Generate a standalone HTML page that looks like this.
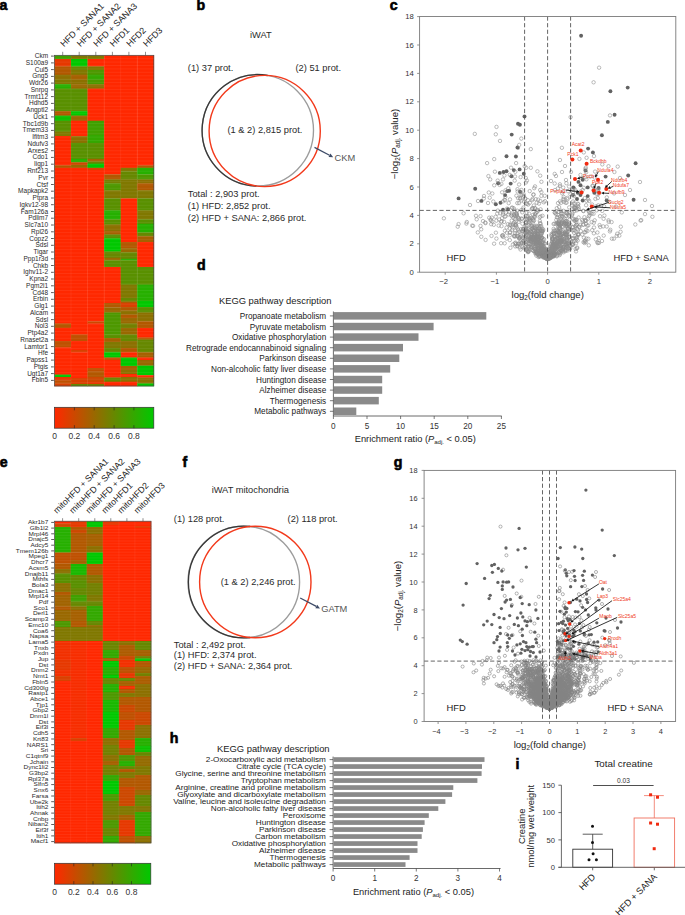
<!DOCTYPE html>
<html><head><meta charset="utf-8"><style>
html,body{margin:0;padding:0;background:#fff;}
body{width:685px;height:915px;overflow:hidden;}
svg{display:block;font-family:"Liberation Sans", sans-serif;}
.sc circle{r:1.55px;}
.clc circle{r:1.72px;}
.clc circle.f{r:1.95px;}
.sc circle.f{r:1.65px;fill:#626262;stroke:none;}
.clc circle.f{r:1.95px;}
</style></head><body>
<svg width="685" height="915" viewBox="0 0 685 915">
<rect width="685" height="915" fill="#fff"/>
<text x="-0.5" y="9.8" font-size="14.2" font-weight="bold" fill="#000" stroke="#000" stroke-width="0.6">a</text>
<text x="196.5" y="10.2" font-size="14.2" font-weight="bold" fill="#000" stroke="#000" stroke-width="0.6">b</text>
<text x="389.8" y="10.2" font-size="14.2" font-weight="bold" fill="#000" stroke="#000" stroke-width="0.6">c</text>
<text x="197" y="270.2" font-size="14.2" font-weight="bold" fill="#000" stroke="#000" stroke-width="0.6">d</text>
<text x="-0.2" y="466.7" font-size="14.2" font-weight="bold" fill="#000" stroke="#000" stroke-width="0.6">e</text>
<text x="182.6" y="466.7" font-size="14.2" font-weight="bold" fill="#000" stroke="#000" stroke-width="0.6">f</text>
<text x="393.8" y="467" font-size="14.2" font-weight="bold" fill="#000" stroke="#000" stroke-width="0.6">g</text>
<text x="169.8" y="743" font-size="14.2" font-weight="bold" fill="#000" stroke="#000" stroke-width="0.6">h</text>
<text x="515.5" y="768.5" font-size="14.2" font-weight="bold" fill="#000" stroke="#000" stroke-width="0.6">i</text>
<rect x="54.4" y="55.3" width="16.9" height="4" fill="#40a000"/>
<rect x="54.4" y="59" width="16.9" height="7.7" fill="#e63800"/>
<rect x="54.4" y="66.4" width="16.9" height="8.6" fill="#b25800"/>
<rect x="54.4" y="74.7" width="16.9" height="5.2" fill="#8c7000"/>
<rect x="54.4" y="79.6" width="16.9" height="4.9" fill="#807800"/>
<rect x="54.4" y="84.2" width="16.9" height="4.7" fill="#26b000"/>
<rect x="54.4" y="88.6" width="16.9" height="22.9" fill="#599000"/>
<rect x="54.4" y="111.2" width="16.9" height="4.7" fill="#b25800"/>
<rect x="54.4" y="115.6" width="16.9" height="5.4" fill="#0dc000"/>
<rect x="54.4" y="120.7" width="16.9" height="11.2" fill="#599000"/>
<rect x="54.4" y="131.6" width="16.9" height="4.7" fill="#807800"/>
<rect x="54.4" y="136" width="16.9" height="29.7" fill="#ff2800"/>
<rect x="54.4" y="165.4" width="16.9" height="2.7" fill="#b25800"/>
<rect x="54.4" y="167.8" width="16.9" height="156" fill="#ff2800"/>
<rect x="54.4" y="323.5" width="16.9" height="4.6" fill="#b25800"/>
<rect x="54.4" y="327.8" width="16.9" height="13.5" fill="#ff2800"/>
<rect x="54.4" y="341" width="16.9" height="6.7" fill="#bf5000"/>
<rect x="54.4" y="347.4" width="16.9" height="27.5" fill="#ff2800"/>
<rect x="54.4" y="374.6" width="16.9" height="2.7" fill="#00c800"/>
<rect x="54.4" y="377" width="16.9" height="3.5" fill="#e63800"/>
<rect x="54.4" y="380.2" width="16.9" height="3.6" fill="#bf5000"/>
<rect x="54.4" y="383.5" width="16.9" height="2.8" fill="#d94000"/>
<rect x="71" y="55.3" width="16.9" height="4" fill="#807800"/>
<rect x="71" y="59" width="16.9" height="7.7" fill="#00c800"/>
<rect x="71" y="66.4" width="16.9" height="3.9" fill="#668800"/>
<rect x="71" y="70" width="16.9" height="5" fill="#807800"/>
<rect x="71" y="74.7" width="16.9" height="5.2" fill="#a66000"/>
<rect x="71" y="79.6" width="16.9" height="4.9" fill="#8c7000"/>
<rect x="71" y="84.2" width="16.9" height="4.7" fill="#996800"/>
<rect x="71" y="88.6" width="16.9" height="22.9" fill="#599000"/>
<rect x="71" y="111.2" width="16.9" height="4.7" fill="#00c800"/>
<rect x="71" y="115.6" width="16.9" height="5.4" fill="#996800"/>
<rect x="71" y="120.7" width="16.9" height="15.8" fill="#ff2800"/>
<rect x="71" y="136.2" width="16.9" height="7" fill="#8c7000"/>
<rect x="71" y="142.9" width="16.9" height="16.2" fill="#599000"/>
<rect x="71" y="158.8" width="16.9" height="3.8" fill="#26b000"/>
<rect x="71" y="162.3" width="16.9" height="3" fill="#cc4800"/>
<rect x="71" y="165" width="16.9" height="3.1" fill="#996800"/>
<rect x="71" y="167.8" width="16.9" height="167" fill="#ff2800"/>
<rect x="71" y="334.5" width="16.9" height="6.8" fill="#bf5000"/>
<rect x="71" y="341" width="16.9" height="9.3" fill="#ff2800"/>
<rect x="71" y="350" width="16.9" height="2.6" fill="#d94000"/>
<rect x="71" y="352.3" width="16.9" height="26" fill="#ff2800"/>
<rect x="71" y="378" width="16.9" height="6.3" fill="#d94000"/>
<rect x="71" y="384" width="16.9" height="2.3" fill="#668800"/>
<rect x="87.5" y="55.3" width="16.9" height="4" fill="#807800"/>
<rect x="87.5" y="59" width="16.9" height="7.7" fill="#ff2800"/>
<rect x="87.5" y="66.4" width="16.9" height="3.9" fill="#807800"/>
<rect x="87.5" y="70" width="16.9" height="5" fill="#4d9800"/>
<rect x="87.5" y="74.7" width="16.9" height="5.2" fill="#33a800"/>
<rect x="87.5" y="79.6" width="16.9" height="4.9" fill="#4d9800"/>
<rect x="87.5" y="84.2" width="16.9" height="4.7" fill="#8c7000"/>
<rect x="87.5" y="88.6" width="16.9" height="32.4" fill="#ff2800"/>
<rect x="87.5" y="120.7" width="16.9" height="14.6" fill="#40a000"/>
<rect x="87.5" y="135" width="16.9" height="8.2" fill="#33a800"/>
<rect x="87.5" y="142.9" width="16.9" height="16.2" fill="#599000"/>
<rect x="87.5" y="158.8" width="16.9" height="3" fill="#a66000"/>
<rect x="87.5" y="161.5" width="16.9" height="2.5" fill="#668800"/>
<rect x="87.5" y="163.7" width="16.9" height="4.4" fill="#00c800"/>
<rect x="87.5" y="167.8" width="16.9" height="2.5" fill="#d94000"/>
<rect x="87.5" y="170" width="16.9" height="151.6" fill="#ff2800"/>
<rect x="87.5" y="321.3" width="16.9" height="2.5" fill="#cc4800"/>
<rect x="87.5" y="323.5" width="16.9" height="44.8" fill="#ff2800"/>
<rect x="87.5" y="368" width="16.9" height="3.8" fill="#bf5000"/>
<rect x="87.5" y="371.5" width="16.9" height="5.8" fill="#b25800"/>
<rect x="87.5" y="377" width="16.9" height="5" fill="#cc4800"/>
<rect x="87.5" y="381.7" width="16.9" height="2.6" fill="#e63800"/>
<rect x="87.5" y="384" width="16.9" height="2.3" fill="#738000"/>
<rect x="104.1" y="55.3" width="16.9" height="119.4" fill="#ff2800"/>
<rect x="104.1" y="174.4" width="16.9" height="5.4" fill="#b25800"/>
<rect x="104.1" y="179.5" width="16.9" height="4.2" fill="#738000"/>
<rect x="104.1" y="183.4" width="16.9" height="7.2" fill="#4d9800"/>
<rect x="104.1" y="190.3" width="16.9" height="8.4" fill="#807800"/>
<rect x="104.1" y="198.4" width="16.9" height="12.3" fill="#599000"/>
<rect x="104.1" y="210.4" width="16.9" height="9.3" fill="#26b000"/>
<rect x="104.1" y="219.4" width="16.9" height="5.4" fill="#599000"/>
<rect x="104.1" y="224.5" width="16.9" height="6.9" fill="#8c7000"/>
<rect x="104.1" y="231.1" width="16.9" height="3.7" fill="#a66000"/>
<rect x="104.1" y="234.5" width="16.9" height="4.2" fill="#599000"/>
<rect x="104.1" y="238.4" width="16.9" height="13.4" fill="#00c800"/>
<rect x="104.1" y="251.5" width="16.9" height="6.5" fill="#668800"/>
<rect x="104.1" y="257.7" width="16.9" height="2.9" fill="#996800"/>
<rect x="104.1" y="260.3" width="16.9" height="7" fill="#599000"/>
<rect x="104.1" y="267" width="16.9" height="36.3" fill="#ff2800"/>
<rect x="104.1" y="303" width="16.9" height="4.7" fill="#b25800"/>
<rect x="104.1" y="307.4" width="16.9" height="5.4" fill="#996800"/>
<rect x="104.1" y="312.5" width="16.9" height="22.3" fill="#4d9800"/>
<rect x="104.1" y="334.5" width="16.9" height="3.8" fill="#599000"/>
<rect x="104.1" y="338" width="16.9" height="4.3" fill="#a66000"/>
<rect x="104.1" y="342" width="16.9" height="6.3" fill="#807800"/>
<rect x="104.1" y="348" width="16.9" height="4.6" fill="#668800"/>
<rect x="104.1" y="352.3" width="16.9" height="5.5" fill="#00c800"/>
<rect x="104.1" y="357.5" width="16.9" height="2.8" fill="#cc4800"/>
<rect x="104.1" y="360" width="16.9" height="17.8" fill="#ff2800"/>
<rect x="104.1" y="377.5" width="16.9" height="4.5" fill="#668800"/>
<rect x="104.1" y="381.7" width="16.9" height="4.6" fill="#ff2800"/>
<rect x="120.7" y="55.3" width="16.9" height="112.8" fill="#ff2800"/>
<rect x="120.7" y="167.8" width="16.9" height="3.8" fill="#807800"/>
<rect x="120.7" y="171.3" width="16.9" height="8.5" fill="#668800"/>
<rect x="120.7" y="179.5" width="16.9" height="19.2" fill="#807800"/>
<rect x="120.7" y="198.4" width="16.9" height="43.9" fill="#ff2800"/>
<rect x="120.7" y="242" width="16.9" height="6.5" fill="#b25800"/>
<rect x="120.7" y="248.2" width="16.9" height="4.4" fill="#996800"/>
<rect x="120.7" y="252.3" width="16.9" height="6.8" fill="#668800"/>
<rect x="120.7" y="258.8" width="16.9" height="1.8" fill="#26b000"/>
<rect x="120.7" y="260.3" width="16.9" height="24.6" fill="#599000"/>
<rect x="120.7" y="284.6" width="16.9" height="13.7" fill="#807800"/>
<rect x="120.7" y="298" width="16.9" height="3.9" fill="#668800"/>
<rect x="120.7" y="301.6" width="16.9" height="1.7" fill="#b25800"/>
<rect x="120.7" y="303" width="16.9" height="4.3" fill="#d94000"/>
<rect x="120.7" y="307" width="16.9" height="3.8" fill="#b25800"/>
<rect x="120.7" y="310.5" width="16.9" height="4.4" fill="#8c7000"/>
<rect x="120.7" y="314.6" width="16.9" height="3.7" fill="#b25800"/>
<rect x="120.7" y="318" width="16.9" height="5.8" fill="#996800"/>
<rect x="120.7" y="323.5" width="16.9" height="4.8" fill="#738000"/>
<rect x="120.7" y="328" width="16.9" height="6.8" fill="#996800"/>
<rect x="120.7" y="334.5" width="16.9" height="6.8" fill="#668800"/>
<rect x="120.7" y="341" width="16.9" height="7.3" fill="#8c7000"/>
<rect x="120.7" y="348" width="16.9" height="4.6" fill="#b25800"/>
<rect x="120.7" y="352.3" width="16.9" height="5.5" fill="#ff2800"/>
<rect x="120.7" y="357.5" width="16.9" height="8.8" fill="#00c800"/>
<rect x="120.7" y="366" width="16.9" height="4.3" fill="#a66000"/>
<rect x="120.7" y="370" width="16.9" height="4.3" fill="#8c7000"/>
<rect x="120.7" y="374" width="16.9" height="3.3" fill="#ff2800"/>
<rect x="120.7" y="377" width="16.9" height="5" fill="#8c7000"/>
<rect x="120.7" y="381.7" width="16.9" height="4.6" fill="#ff2800"/>
<rect x="137.2" y="55.3" width="16.9" height="110.4" fill="#ff2800"/>
<rect x="137.2" y="165.4" width="16.9" height="2.7" fill="#b25800"/>
<rect x="137.2" y="167.8" width="16.9" height="6.9" fill="#26b000"/>
<rect x="137.2" y="174.4" width="16.9" height="5.4" fill="#4d9800"/>
<rect x="137.2" y="179.5" width="16.9" height="4.2" fill="#8c7000"/>
<rect x="137.2" y="183.4" width="16.9" height="7.2" fill="#b25800"/>
<rect x="137.2" y="190.3" width="16.9" height="8.4" fill="#807800"/>
<rect x="137.2" y="198.4" width="16.9" height="12.3" fill="#599000"/>
<rect x="137.2" y="210.4" width="16.9" height="9.3" fill="#807800"/>
<rect x="137.2" y="219.4" width="16.9" height="4.7" fill="#599000"/>
<rect x="137.2" y="223.8" width="16.9" height="9" fill="#26b000"/>
<rect x="137.2" y="232.5" width="16.9" height="4" fill="#668800"/>
<rect x="137.2" y="236.2" width="16.9" height="6.1" fill="#a66000"/>
<rect x="137.2" y="242" width="16.9" height="25.3" fill="#ff2800"/>
<rect x="137.2" y="267" width="16.9" height="17.9" fill="#599000"/>
<rect x="137.2" y="284.6" width="16.9" height="16.7" fill="#26b000"/>
<rect x="137.2" y="301" width="16.9" height="6.3" fill="#00c800"/>
<rect x="137.2" y="307" width="16.9" height="5.8" fill="#599000"/>
<rect x="137.2" y="312.5" width="16.9" height="9.1" fill="#8c7000"/>
<rect x="137.2" y="321.3" width="16.9" height="7" fill="#b25800"/>
<rect x="137.2" y="328" width="16.9" height="9.8" fill="#ff2800"/>
<rect x="137.2" y="337.5" width="16.9" height="2.4" fill="#b25800"/>
<rect x="137.2" y="339.6" width="16.9" height="13" fill="#668800"/>
<rect x="137.2" y="352.3" width="16.9" height="5.5" fill="#a66000"/>
<rect x="137.2" y="357.5" width="16.9" height="2.8" fill="#ff2800"/>
<rect x="137.2" y="360" width="16.9" height="5.9" fill="#996800"/>
<rect x="137.2" y="365.6" width="16.9" height="9.9" fill="#00c800"/>
<rect x="137.2" y="375.2" width="16.9" height="2.6" fill="#ff2800"/>
<rect x="137.2" y="377.5" width="16.9" height="6.3" fill="#8c7000"/>
<rect x="137.2" y="383.5" width="16.9" height="2.8" fill="#00c800"/>
<rect x="54.4" y="55.3" width="99.4" height="330.7" fill="none" stroke="#4a4a4a" stroke-width="0.7"/>
<path d="M54.4,58.7H153.8M54.4,62.1H153.8M54.4,65.5H153.8M54.4,68.9H153.8M54.4,72.3H153.8M54.4,75.8H153.8M54.4,79.2H153.8M54.4,82.6H153.8M54.4,86H153.8M54.4,89.4H153.8M54.4,92.8H153.8M54.4,96.2H153.8M54.4,99.6H153.8M54.4,103H153.8M54.4,106.4H153.8M54.4,109.8H153.8M54.4,113.3H153.8M54.4,116.7H153.8M54.4,120.1H153.8M54.4,123.5H153.8M54.4,126.9H153.8M54.4,130.3H153.8M54.4,133.7H153.8M54.4,137.1H153.8M54.4,140.5H153.8M54.4,143.9H153.8M54.4,147.4H153.8M54.4,150.8H153.8M54.4,154.2H153.8M54.4,157.6H153.8M54.4,161H153.8M54.4,164.4H153.8M54.4,167.8H153.8M54.4,171.2H153.8M54.4,174.6H153.8M54.4,178H153.8M54.4,181.4H153.8M54.4,184.9H153.8M54.4,188.3H153.8M54.4,191.7H153.8M54.4,195.1H153.8M54.4,198.5H153.8M54.4,201.9H153.8M54.4,205.3H153.8M54.4,208.7H153.8M54.4,212.1H153.8M54.4,215.5H153.8M54.4,218.9H153.8M54.4,222.4H153.8M54.4,225.8H153.8M54.4,229.2H153.8M54.4,232.6H153.8M54.4,236H153.8M54.4,239.4H153.8M54.4,242.8H153.8M54.4,246.2H153.8M54.4,249.6H153.8M54.4,253H153.8M54.4,256.4H153.8M54.4,259.9H153.8M54.4,263.3H153.8M54.4,266.7H153.8M54.4,270.1H153.8M54.4,273.5H153.8M54.4,276.9H153.8M54.4,280.3H153.8M54.4,283.7H153.8M54.4,287.1H153.8M54.4,290.5H153.8M54.4,293.9H153.8M54.4,297.4H153.8M54.4,300.8H153.8M54.4,304.2H153.8M54.4,307.6H153.8M54.4,311H153.8M54.4,314.4H153.8M54.4,317.8H153.8M54.4,321.2H153.8M54.4,324.6H153.8M54.4,328H153.8M54.4,331.5H153.8M54.4,334.9H153.8M54.4,338.3H153.8M54.4,341.7H153.8M54.4,345.1H153.8M54.4,348.5H153.8M54.4,351.9H153.8M54.4,355.3H153.8M54.4,358.7H153.8M54.4,362.1H153.8M54.4,365.5H153.8M54.4,369H153.8M54.4,372.4H153.8M54.4,375.8H153.8M54.4,379.2H153.8M54.4,382.6H153.8" stroke="#ffffff" stroke-opacity="0.13" stroke-width="0.5"/>
<line x1="71" y1="55.3" x2="71" y2="386" stroke="#ffffff" stroke-opacity="0.12" stroke-width="0.5"/>
<line x1="87.5" y1="55.3" x2="87.5" y2="386" stroke="#ffffff" stroke-opacity="0.12" stroke-width="0.5"/>
<line x1="104.1" y1="55.3" x2="104.1" y2="386" stroke="#ffffff" stroke-opacity="0.12" stroke-width="0.5"/>
<line x1="120.7" y1="55.3" x2="120.7" y2="386" stroke="#ffffff" stroke-opacity="0.12" stroke-width="0.5"/>
<line x1="137.2" y1="55.3" x2="137.2" y2="386" stroke="#ffffff" stroke-opacity="0.12" stroke-width="0.5"/>
<line x1="51" y1="56.1" x2="53.8" y2="56.1" stroke="#333" stroke-width="0.8"/>
<text transform="translate(48.1,58.1) scale(1,1.0)" font-size="6.5" text-anchor="end" fill="#2a2a2a">Ckm</text>
<line x1="51" y1="62.9" x2="53.8" y2="62.9" stroke="#333" stroke-width="0.8"/>
<text transform="translate(48.1,64.9) scale(1,1.0)" font-size="6.5" text-anchor="end" fill="#2a2a2a">S100a9</text>
<line x1="51" y1="69.6" x2="53.8" y2="69.6" stroke="#333" stroke-width="0.8"/>
<text transform="translate(48.1,71.6) scale(1,1.0)" font-size="6.5" text-anchor="end" fill="#2a2a2a">Cul5</text>
<line x1="51" y1="76.4" x2="53.8" y2="76.4" stroke="#333" stroke-width="0.8"/>
<text transform="translate(48.1,78.4) scale(1,1.0)" font-size="6.5" text-anchor="end" fill="#2a2a2a">Gng5</text>
<line x1="51" y1="83.1" x2="53.8" y2="83.1" stroke="#333" stroke-width="0.8"/>
<text transform="translate(48.1,85.1) scale(1,1.0)" font-size="6.5" text-anchor="end" fill="#2a2a2a">Wdr26</text>
<line x1="51" y1="89.9" x2="53.8" y2="89.9" stroke="#333" stroke-width="0.8"/>
<text transform="translate(48.1,91.9) scale(1,1.0)" font-size="6.5" text-anchor="end" fill="#2a2a2a">Snrpg</text>
<line x1="51" y1="96.6" x2="53.8" y2="96.6" stroke="#333" stroke-width="0.8"/>
<text transform="translate(48.1,98.6) scale(1,1.0)" font-size="6.5" text-anchor="end" fill="#2a2a2a">Trmt112</text>
<line x1="51" y1="103.4" x2="53.8" y2="103.4" stroke="#333" stroke-width="0.8"/>
<text transform="translate(48.1,105.4) scale(1,1.0)" font-size="6.5" text-anchor="end" fill="#2a2a2a">Hdhd5</text>
<line x1="51" y1="110.1" x2="53.8" y2="110.1" stroke="#333" stroke-width="0.8"/>
<text transform="translate(48.1,112.1) scale(1,1.0)" font-size="6.5" text-anchor="end" fill="#2a2a2a">Angptl2</text>
<line x1="51" y1="116.9" x2="53.8" y2="116.9" stroke="#333" stroke-width="0.8"/>
<text transform="translate(48.1,118.9) scale(1,1.0)" font-size="6.5" text-anchor="end" fill="#2a2a2a">Uck1</text>
<line x1="51" y1="123.7" x2="53.8" y2="123.7" stroke="#333" stroke-width="0.8"/>
<text transform="translate(48.1,125.7) scale(1,1.0)" font-size="6.5" text-anchor="end" fill="#2a2a2a">Tbc1d9b</text>
<line x1="51" y1="130.4" x2="53.8" y2="130.4" stroke="#333" stroke-width="0.8"/>
<text transform="translate(48.1,132.4) scale(1,1.0)" font-size="6.5" text-anchor="end" fill="#2a2a2a">Tmem33</text>
<line x1="51" y1="137.2" x2="53.8" y2="137.2" stroke="#333" stroke-width="0.8"/>
<text transform="translate(48.1,139.2) scale(1,1.0)" font-size="6.5" text-anchor="end" fill="#2a2a2a">Ifitm3</text>
<line x1="51" y1="143.9" x2="53.8" y2="143.9" stroke="#333" stroke-width="0.8"/>
<text transform="translate(48.1,145.9) scale(1,1.0)" font-size="6.5" text-anchor="end" fill="#2a2a2a">Ndufv3</text>
<line x1="51" y1="150.7" x2="53.8" y2="150.7" stroke="#333" stroke-width="0.8"/>
<text transform="translate(48.1,152.7) scale(1,1.0)" font-size="6.5" text-anchor="end" fill="#2a2a2a">Arxes2</text>
<line x1="51" y1="157.4" x2="53.8" y2="157.4" stroke="#333" stroke-width="0.8"/>
<text transform="translate(48.1,159.4) scale(1,1.0)" font-size="6.5" text-anchor="end" fill="#2a2a2a">Cdo1</text>
<line x1="51" y1="164.2" x2="53.8" y2="164.2" stroke="#333" stroke-width="0.8"/>
<text transform="translate(48.1,166.2) scale(1,1.0)" font-size="6.5" text-anchor="end" fill="#2a2a2a">Iigp1</text>
<line x1="51" y1="171" x2="53.8" y2="171" stroke="#333" stroke-width="0.8"/>
<text transform="translate(48.1,173) scale(1,1.0)" font-size="6.5" text-anchor="end" fill="#2a2a2a">Rnf213</text>
<line x1="51" y1="177.7" x2="53.8" y2="177.7" stroke="#333" stroke-width="0.8"/>
<text transform="translate(48.1,179.7) scale(1,1.0)" font-size="6.5" text-anchor="end" fill="#2a2a2a">Pvr</text>
<line x1="51" y1="184.5" x2="53.8" y2="184.5" stroke="#333" stroke-width="0.8"/>
<text transform="translate(48.1,186.5) scale(1,1.0)" font-size="6.5" text-anchor="end" fill="#2a2a2a">Ctsf</text>
<line x1="51" y1="191.2" x2="53.8" y2="191.2" stroke="#333" stroke-width="0.8"/>
<text transform="translate(48.1,193.2) scale(1,1.0)" font-size="6.5" text-anchor="end" fill="#2a2a2a">Mapkapk2</text>
<line x1="51" y1="198" x2="53.8" y2="198" stroke="#333" stroke-width="0.8"/>
<text transform="translate(48.1,200) scale(1,1.0)" font-size="6.5" text-anchor="end" fill="#2a2a2a">Ptpra</text>
<line x1="51" y1="204.7" x2="53.8" y2="204.7" stroke="#333" stroke-width="0.8"/>
<text transform="translate(48.1,206.7) scale(1,1.0)" font-size="6.5" text-anchor="end" fill="#2a2a2a">Igkv12-98</text>
<line x1="51" y1="211.5" x2="53.8" y2="211.5" stroke="#333" stroke-width="0.8"/>
<text transform="translate(48.1,213.5) scale(1,1.0)" font-size="6.5" text-anchor="end" fill="#2a2a2a">Fam126a</text>
<line x1="51" y1="218.2" x2="53.8" y2="218.2" stroke="#333" stroke-width="0.8"/>
<text transform="translate(48.1,220.2) scale(1,1.0)" font-size="6.5" text-anchor="end" fill="#2a2a2a">Pdlim7</text>
<line x1="51" y1="225" x2="53.8" y2="225" stroke="#333" stroke-width="0.8"/>
<text transform="translate(48.1,227) scale(1,1.0)" font-size="6.5" text-anchor="end" fill="#2a2a2a">Slc7a10</text>
<line x1="51" y1="231.8" x2="53.8" y2="231.8" stroke="#333" stroke-width="0.8"/>
<text transform="translate(48.1,233.8) scale(1,1.0)" font-size="6.5" text-anchor="end" fill="#2a2a2a">Rpl26</text>
<line x1="51" y1="238.5" x2="53.8" y2="238.5" stroke="#333" stroke-width="0.8"/>
<text transform="translate(48.1,240.5) scale(1,1.0)" font-size="6.5" text-anchor="end" fill="#2a2a2a">Copz2</text>
<line x1="51" y1="245.3" x2="53.8" y2="245.3" stroke="#333" stroke-width="0.8"/>
<text transform="translate(48.1,247.3) scale(1,1.0)" font-size="6.5" text-anchor="end" fill="#2a2a2a">Sdsl</text>
<line x1="51" y1="252" x2="53.8" y2="252" stroke="#333" stroke-width="0.8"/>
<text transform="translate(48.1,254) scale(1,1.0)" font-size="6.5" text-anchor="end" fill="#2a2a2a">Tigar</text>
<line x1="51" y1="258.8" x2="53.8" y2="258.8" stroke="#333" stroke-width="0.8"/>
<text transform="translate(48.1,260.8) scale(1,1.0)" font-size="6.5" text-anchor="end" fill="#2a2a2a">Ppp1r3d</text>
<line x1="51" y1="265.5" x2="53.8" y2="265.5" stroke="#333" stroke-width="0.8"/>
<text transform="translate(48.1,267.5) scale(1,1.0)" font-size="6.5" text-anchor="end" fill="#2a2a2a">Chkb</text>
<line x1="51" y1="272.3" x2="53.8" y2="272.3" stroke="#333" stroke-width="0.8"/>
<text transform="translate(48.1,274.3) scale(1,1.0)" font-size="6.5" text-anchor="end" fill="#2a2a2a">Ighv11-2</text>
<line x1="51" y1="279" x2="53.8" y2="279" stroke="#333" stroke-width="0.8"/>
<text transform="translate(48.1,281) scale(1,1.0)" font-size="6.5" text-anchor="end" fill="#2a2a2a">Kpna2</text>
<line x1="51" y1="285.8" x2="53.8" y2="285.8" stroke="#333" stroke-width="0.8"/>
<text transform="translate(48.1,287.8) scale(1,1.0)" font-size="6.5" text-anchor="end" fill="#2a2a2a">Pgm2l1</text>
<line x1="51" y1="292.6" x2="53.8" y2="292.6" stroke="#333" stroke-width="0.8"/>
<text transform="translate(48.1,294.6) scale(1,1.0)" font-size="6.5" text-anchor="end" fill="#2a2a2a">Cd48</text>
<line x1="51" y1="299.3" x2="53.8" y2="299.3" stroke="#333" stroke-width="0.8"/>
<text transform="translate(48.1,301.3) scale(1,1.0)" font-size="6.5" text-anchor="end" fill="#2a2a2a">Erbin</text>
<line x1="51" y1="306.1" x2="53.8" y2="306.1" stroke="#333" stroke-width="0.8"/>
<text transform="translate(48.1,308.1) scale(1,1.0)" font-size="6.5" text-anchor="end" fill="#2a2a2a">Glg1</text>
<line x1="51" y1="312.8" x2="53.8" y2="312.8" stroke="#333" stroke-width="0.8"/>
<text transform="translate(48.1,314.8) scale(1,1.0)" font-size="6.5" text-anchor="end" fill="#2a2a2a">Alcam</text>
<line x1="51" y1="319.6" x2="53.8" y2="319.6" stroke="#333" stroke-width="0.8"/>
<text transform="translate(48.1,321.6) scale(1,1.0)" font-size="6.5" text-anchor="end" fill="#2a2a2a">Sdsl</text>
<line x1="51" y1="326.3" x2="53.8" y2="326.3" stroke="#333" stroke-width="0.8"/>
<text transform="translate(48.1,328.3) scale(1,1.0)" font-size="6.5" text-anchor="end" fill="#2a2a2a">Nol3</text>
<line x1="51" y1="333.1" x2="53.8" y2="333.1" stroke="#333" stroke-width="0.8"/>
<text transform="translate(48.1,335.1) scale(1,1.0)" font-size="6.5" text-anchor="end" fill="#2a2a2a">Ptp4a2</text>
<line x1="51" y1="339.9" x2="53.8" y2="339.9" stroke="#333" stroke-width="0.8"/>
<text transform="translate(48.1,341.9) scale(1,1.0)" font-size="6.5" text-anchor="end" fill="#2a2a2a">Rnaset2a</text>
<line x1="51" y1="346.6" x2="53.8" y2="346.6" stroke="#333" stroke-width="0.8"/>
<text transform="translate(48.1,348.6) scale(1,1.0)" font-size="6.5" text-anchor="end" fill="#2a2a2a">Lamtor1</text>
<line x1="51" y1="353.4" x2="53.8" y2="353.4" stroke="#333" stroke-width="0.8"/>
<text transform="translate(48.1,355.4) scale(1,1.0)" font-size="6.5" text-anchor="end" fill="#2a2a2a">Hfe</text>
<line x1="51" y1="360.1" x2="53.8" y2="360.1" stroke="#333" stroke-width="0.8"/>
<text transform="translate(48.1,362.1) scale(1,1.0)" font-size="6.5" text-anchor="end" fill="#2a2a2a">Papss1</text>
<line x1="51" y1="366.9" x2="53.8" y2="366.9" stroke="#333" stroke-width="0.8"/>
<text transform="translate(48.1,368.9) scale(1,1.0)" font-size="6.5" text-anchor="end" fill="#2a2a2a">Ptgis</text>
<line x1="51" y1="373.6" x2="53.8" y2="373.6" stroke="#333" stroke-width="0.8"/>
<text transform="translate(48.1,375.6) scale(1,1.0)" font-size="6.5" text-anchor="end" fill="#2a2a2a">Ugt1a7</text>
<line x1="51" y1="380.4" x2="53.8" y2="380.4" stroke="#333" stroke-width="0.8"/>
<text transform="translate(48.1,382.4) scale(1,1.0)" font-size="6.5" text-anchor="end" fill="#2a2a2a">Fbln5</text>
<line x1="62.7" y1="51.8" x2="62.7" y2="55.3" stroke="#444" stroke-width="0.6"/>
<text transform="translate(63.9,47.3) rotate(-45)" font-size="8.9" fill="#222">HFD + SANA1</text>
<line x1="79.2" y1="51.8" x2="79.2" y2="55.3" stroke="#444" stroke-width="0.6"/>
<text transform="translate(80.5,47.3) rotate(-45)" font-size="8.9" fill="#222">HFD + SANA2</text>
<line x1="95.8" y1="51.8" x2="95.8" y2="55.3" stroke="#444" stroke-width="0.6"/>
<text transform="translate(97,47.3) rotate(-45)" font-size="8.9" fill="#222">HFD + SANA3</text>
<line x1="112.4" y1="51.8" x2="112.4" y2="55.3" stroke="#444" stroke-width="0.6"/>
<text transform="translate(113.6,47.3) rotate(-45)" font-size="8.9" fill="#222">HFD1</text>
<line x1="128.9" y1="51.8" x2="128.9" y2="55.3" stroke="#444" stroke-width="0.6"/>
<text transform="translate(130.1,47.3) rotate(-45)" font-size="8.9" fill="#222">HFD2</text>
<line x1="145.5" y1="51.8" x2="145.5" y2="55.3" stroke="#444" stroke-width="0.6"/>
<text transform="translate(146.7,47.3) rotate(-45)" font-size="8.9" fill="#222">HFD3</text>
<rect x="54.6" y="521.2" width="16.4" height="2.6" fill="#ff2800"/>
<rect x="54.6" y="523.5" width="16.4" height="3.8" fill="#cc4800"/>
<rect x="54.6" y="527" width="16.4" height="25.8" fill="#26b000"/>
<rect x="54.6" y="552.5" width="16.4" height="11.3" fill="#bf5000"/>
<rect x="54.6" y="563.5" width="16.4" height="5.8" fill="#b25800"/>
<rect x="54.6" y="569" width="16.4" height="4.8" fill="#8c7000"/>
<rect x="54.6" y="573.5" width="16.4" height="9.8" fill="#599000"/>
<rect x="54.6" y="583" width="16.4" height="9.3" fill="#8c7000"/>
<rect x="54.6" y="592" width="16.4" height="3.3" fill="#b25800"/>
<rect x="54.6" y="595" width="16.4" height="11.8" fill="#a16300"/>
<rect x="54.6" y="606.5" width="16.4" height="3.8" fill="#b25800"/>
<rect x="54.6" y="610" width="16.4" height="11.3" fill="#996800"/>
<rect x="54.6" y="621" width="16.4" height="6.3" fill="#4d9800"/>
<rect x="54.6" y="627" width="16.4" height="14.3" fill="#807800"/>
<rect x="54.6" y="641" width="16.4" height="19.3" fill="#f23000"/>
<rect x="54.6" y="660" width="16.4" height="10.3" fill="#e63800"/>
<rect x="54.6" y="670" width="16.4" height="6.3" fill="#f23000"/>
<rect x="54.6" y="676" width="16.4" height="5.3" fill="#d94000"/>
<rect x="54.6" y="681" width="16.4" height="162.3" fill="#ff2800"/>
<rect x="70.7" y="521.2" width="16.4" height="6.1" fill="#e63800"/>
<rect x="70.7" y="527" width="16.4" height="3.3" fill="#b25800"/>
<rect x="70.7" y="530" width="16.4" height="3.3" fill="#cc4800"/>
<rect x="70.7" y="533" width="16.4" height="19.8" fill="#b25800"/>
<rect x="70.7" y="552.5" width="16.4" height="7.8" fill="#bf5000"/>
<rect x="70.7" y="560" width="16.4" height="4.3" fill="#a66000"/>
<rect x="70.7" y="564" width="16.4" height="11.3" fill="#19b800"/>
<rect x="70.7" y="575" width="16.4" height="5.3" fill="#668800"/>
<rect x="70.7" y="580" width="16.4" height="8.3" fill="#599000"/>
<rect x="70.7" y="588" width="16.4" height="7.3" fill="#668800"/>
<rect x="70.7" y="595" width="16.4" height="6.8" fill="#40a000"/>
<rect x="70.7" y="601.5" width="16.4" height="5.3" fill="#668800"/>
<rect x="70.7" y="606.5" width="16.4" height="3.8" fill="#8c7000"/>
<rect x="70.7" y="610" width="16.4" height="11.3" fill="#a66000"/>
<rect x="70.7" y="621" width="16.4" height="6.3" fill="#b25800"/>
<rect x="70.7" y="627" width="16.4" height="14.3" fill="#807800"/>
<rect x="70.7" y="641" width="16.4" height="97.3" fill="#f72d00"/>
<rect x="70.7" y="738" width="16.4" height="3.3" fill="#d94000"/>
<rect x="70.7" y="741" width="16.4" height="102.3" fill="#ff2800"/>
<rect x="86.7" y="521.2" width="16.4" height="6.1" fill="#00c800"/>
<rect x="86.7" y="527" width="16.4" height="7.3" fill="#8c7000"/>
<rect x="86.7" y="534" width="16.4" height="12.3" fill="#a66000"/>
<rect x="86.7" y="546" width="16.4" height="6.8" fill="#8c7000"/>
<rect x="86.7" y="552.5" width="16.4" height="11.8" fill="#00c800"/>
<rect x="86.7" y="564" width="16.4" height="11.3" fill="#b25800"/>
<rect x="86.7" y="575" width="16.4" height="8.3" fill="#8c7000"/>
<rect x="86.7" y="583" width="16.4" height="12.3" fill="#738000"/>
<rect x="86.7" y="595" width="16.4" height="6.8" fill="#807800"/>
<rect x="86.7" y="601.5" width="16.4" height="4.8" fill="#668800"/>
<rect x="86.7" y="606" width="16.4" height="15.3" fill="#33a800"/>
<rect x="86.7" y="621" width="16.4" height="4.3" fill="#668800"/>
<rect x="86.7" y="625" width="16.4" height="2.3" fill="#8c7000"/>
<rect x="86.7" y="627" width="16.4" height="14.3" fill="#807800"/>
<rect x="86.7" y="641" width="16.4" height="202.3" fill="#ff2800"/>
<rect x="102.8" y="521.2" width="16.4" height="4.1" fill="#e63800"/>
<rect x="102.8" y="525" width="16.4" height="116.3" fill="#ff2800"/>
<rect x="102.8" y="641" width="16.4" height="9.3" fill="#6b8500"/>
<rect x="102.8" y="650" width="16.4" height="8.3" fill="#33a800"/>
<rect x="102.8" y="658" width="16.4" height="3.3" fill="#a66000"/>
<rect x="102.8" y="661" width="16.4" height="6.3" fill="#00c800"/>
<rect x="102.8" y="667" width="16.4" height="8.3" fill="#26b000"/>
<rect x="102.8" y="675" width="16.4" height="3.3" fill="#00c800"/>
<rect x="102.8" y="678" width="16.4" height="6.3" fill="#668800"/>
<rect x="102.8" y="684" width="16.4" height="8.3" fill="#26b000"/>
<rect x="102.8" y="692" width="16.4" height="8.3" fill="#4d9800"/>
<rect x="102.8" y="700" width="16.4" height="12.3" fill="#19b800"/>
<rect x="102.8" y="712" width="16.4" height="16.3" fill="#00c800"/>
<rect x="102.8" y="728" width="16.4" height="10.3" fill="#33a800"/>
<rect x="102.8" y="738" width="16.4" height="7.3" fill="#8c7000"/>
<rect x="102.8" y="745" width="16.4" height="10.3" fill="#738000"/>
<rect x="102.8" y="755" width="16.4" height="6.3" fill="#8c7000"/>
<rect x="102.8" y="761" width="16.4" height="4.3" fill="#a66000"/>
<rect x="102.8" y="765" width="16.4" height="10.3" fill="#738000"/>
<rect x="102.8" y="775" width="16.4" height="6.3" fill="#33a800"/>
<rect x="102.8" y="781" width="16.4" height="13.3" fill="#00c800"/>
<rect x="102.8" y="794" width="16.4" height="7.3" fill="#4d9800"/>
<rect x="102.8" y="801" width="16.4" height="14.3" fill="#738000"/>
<rect x="102.8" y="815" width="16.4" height="5.3" fill="#807800"/>
<rect x="102.8" y="820" width="16.4" height="8.3" fill="#4d9800"/>
<rect x="102.8" y="828" width="16.4" height="8.3" fill="#668800"/>
<rect x="102.8" y="836" width="16.4" height="7.3" fill="#33a800"/>
<rect x="118.9" y="521.2" width="16.4" height="120.1" fill="#ff2800"/>
<rect x="118.9" y="641" width="16.4" height="4.3" fill="#8c7000"/>
<rect x="118.9" y="645" width="16.4" height="11.3" fill="#ad5b00"/>
<rect x="118.9" y="656" width="16.4" height="4.3" fill="#cc4800"/>
<rect x="118.9" y="660" width="16.4" height="7.3" fill="#f23000"/>
<rect x="118.9" y="667" width="16.4" height="6.3" fill="#bf5000"/>
<rect x="118.9" y="673" width="16.4" height="5.3" fill="#e63800"/>
<rect x="118.9" y="678" width="16.4" height="3.3" fill="#668800"/>
<rect x="118.9" y="681" width="16.4" height="5.3" fill="#a66000"/>
<rect x="118.9" y="686" width="16.4" height="3.3" fill="#f23000"/>
<rect x="118.9" y="689" width="16.4" height="4.3" fill="#b25800"/>
<rect x="118.9" y="693" width="16.4" height="4.3" fill="#807800"/>
<rect x="118.9" y="697" width="16.4" height="8.3" fill="#b25800"/>
<rect x="118.9" y="705" width="16.4" height="7.3" fill="#cc4800"/>
<rect x="118.9" y="712" width="16.4" height="8.3" fill="#bf5000"/>
<rect x="118.9" y="720" width="16.4" height="10.3" fill="#e63800"/>
<rect x="118.9" y="730" width="16.4" height="10.3" fill="#b25800"/>
<rect x="118.9" y="740" width="16.4" height="8.3" fill="#e63800"/>
<rect x="118.9" y="748" width="16.4" height="7.3" fill="#b25800"/>
<rect x="118.9" y="755" width="16.4" height="6.3" fill="#4d9800"/>
<rect x="118.9" y="761" width="16.4" height="5.3" fill="#26b000"/>
<rect x="118.9" y="766" width="16.4" height="3.3" fill="#668800"/>
<rect x="118.9" y="769" width="16.4" height="3.3" fill="#b25800"/>
<rect x="118.9" y="772" width="16.4" height="6.3" fill="#807800"/>
<rect x="118.9" y="778" width="16.4" height="9.3" fill="#b25800"/>
<rect x="118.9" y="787" width="16.4" height="19.3" fill="#cc4800"/>
<rect x="118.9" y="806" width="16.4" height="9.3" fill="#807800"/>
<rect x="118.9" y="815" width="16.4" height="5.3" fill="#a66000"/>
<rect x="118.9" y="820" width="16.4" height="16.3" fill="#e63800"/>
<rect x="118.9" y="836" width="16.4" height="7.3" fill="#bf5000"/>
<rect x="134.9" y="521.2" width="16.4" height="5.1" fill="#ff2800"/>
<rect x="134.9" y="526" width="16.4" height="2.3" fill="#e63800"/>
<rect x="134.9" y="528" width="16.4" height="113.3" fill="#ff2800"/>
<rect x="134.9" y="641" width="16.4" height="9.3" fill="#668800"/>
<rect x="134.9" y="650" width="16.4" height="6.3" fill="#a66000"/>
<rect x="134.9" y="656" width="16.4" height="2.8" fill="#738000"/>
<rect x="134.9" y="658.5" width="16.4" height="2.8" fill="#00c800"/>
<rect x="134.9" y="661" width="16.4" height="6.3" fill="#b25800"/>
<rect x="134.9" y="667" width="16.4" height="6.3" fill="#996800"/>
<rect x="134.9" y="673" width="16.4" height="3.3" fill="#738000"/>
<rect x="134.9" y="676" width="16.4" height="8.3" fill="#ab5d00"/>
<rect x="134.9" y="684" width="16.4" height="13.3" fill="#8c7000"/>
<rect x="134.9" y="697" width="16.4" height="15.3" fill="#b25800"/>
<rect x="134.9" y="712" width="16.4" height="13.3" fill="#cc4800"/>
<rect x="134.9" y="725" width="16.4" height="13.3" fill="#8c7000"/>
<rect x="134.9" y="738" width="16.4" height="8.3" fill="#26b000"/>
<rect x="134.9" y="746" width="16.4" height="6.3" fill="#0dc000"/>
<rect x="134.9" y="752" width="16.4" height="4.3" fill="#668800"/>
<rect x="134.9" y="756" width="16.4" height="10.3" fill="#946b00"/>
<rect x="134.9" y="766" width="16.4" height="9.3" fill="#807800"/>
<rect x="134.9" y="775" width="16.4" height="15.3" fill="#b25800"/>
<rect x="134.9" y="790" width="16.4" height="5.3" fill="#996800"/>
<rect x="134.9" y="795" width="16.4" height="11.3" fill="#668800"/>
<rect x="134.9" y="806" width="16.4" height="6.3" fill="#807800"/>
<rect x="134.9" y="812" width="16.4" height="24.3" fill="#33a800"/>
<rect x="134.9" y="836" width="16.4" height="7.3" fill="#8c7000"/>
<rect x="54.6" y="521.2" width="96.4" height="321.7" fill="none" stroke="#4a4a4a" stroke-width="0.7"/>
<path d="M54.6,524H151M54.6,526.8H151M54.6,529.7H151M54.6,532.5H151M54.6,535.3H151M54.6,538.1H151M54.6,541H151M54.6,543.8H151M54.6,546.6H151M54.6,549.4H151M54.6,552.2H151M54.6,555.1H151M54.6,557.9H151M54.6,560.7H151M54.6,563.5H151M54.6,566.4H151M54.6,569.2H151M54.6,572H151M54.6,574.8H151M54.6,577.6H151M54.6,580.5H151M54.6,583.3H151M54.6,586.1H151M54.6,588.9H151M54.6,591.7H151M54.6,594.6H151M54.6,597.4H151M54.6,600.2H151M54.6,603H151M54.6,605.9H151M54.6,608.7H151M54.6,611.5H151M54.6,614.3H151M54.6,617.1H151M54.6,620H151M54.6,622.8H151M54.6,625.6H151M54.6,628.4H151M54.6,631.3H151M54.6,634.1H151M54.6,636.9H151M54.6,639.7H151M54.6,642.5H151M54.6,645.4H151M54.6,648.2H151M54.6,651H151M54.6,653.8H151M54.6,656.7H151M54.6,659.5H151M54.6,662.3H151M54.6,665.1H151M54.6,667.9H151M54.6,670.8H151M54.6,673.6H151M54.6,676.4H151M54.6,679.2H151M54.6,682H151M54.6,684.9H151M54.6,687.7H151M54.6,690.5H151M54.6,693.3H151M54.6,696.2H151M54.6,699H151M54.6,701.8H151M54.6,704.6H151M54.6,707.4H151M54.6,710.3H151M54.6,713.1H151M54.6,715.9H151M54.6,718.7H151M54.6,721.6H151M54.6,724.4H151M54.6,727.2H151M54.6,730H151M54.6,732.8H151M54.6,735.7H151M54.6,738.5H151M54.6,741.3H151M54.6,744.1H151M54.6,747H151M54.6,749.8H151M54.6,752.6H151M54.6,755.4H151M54.6,758.2H151M54.6,761.1H151M54.6,763.9H151M54.6,766.7H151M54.6,769.5H151M54.6,772.4H151M54.6,775.2H151M54.6,778H151M54.6,780.8H151M54.6,783.6H151M54.6,786.5H151M54.6,789.3H151M54.6,792.1H151M54.6,794.9H151M54.6,797.7H151M54.6,800.6H151M54.6,803.4H151M54.6,806.2H151M54.6,809H151M54.6,811.9H151M54.6,814.7H151M54.6,817.5H151M54.6,820.3H151M54.6,823.1H151M54.6,826H151M54.6,828.8H151M54.6,831.6H151M54.6,834.4H151M54.6,837.3H151M54.6,840.1H151" stroke="#ffffff" stroke-opacity="0.13" stroke-width="0.5"/>
<line x1="70.7" y1="521.2" x2="70.7" y2="842.9" stroke="#ffffff" stroke-opacity="0.12" stroke-width="0.5"/>
<line x1="86.7" y1="521.2" x2="86.7" y2="842.9" stroke="#ffffff" stroke-opacity="0.12" stroke-width="0.5"/>
<line x1="102.8" y1="521.2" x2="102.8" y2="842.9" stroke="#ffffff" stroke-opacity="0.12" stroke-width="0.5"/>
<line x1="118.9" y1="521.2" x2="118.9" y2="842.9" stroke="#ffffff" stroke-opacity="0.12" stroke-width="0.5"/>
<line x1="134.9" y1="521.2" x2="134.9" y2="842.9" stroke="#ffffff" stroke-opacity="0.12" stroke-width="0.5"/>
<line x1="51.2" y1="522.4" x2="54" y2="522.4" stroke="#333" stroke-width="0.8"/>
<text transform="translate(48.3,524.2) scale(1,0.9)" font-size="6.45" text-anchor="end" fill="#2a2a2a">Akr1b7</text>
<line x1="51.2" y1="528.1" x2="54" y2="528.1" stroke="#333" stroke-width="0.8"/>
<text transform="translate(48.3,529.9) scale(1,0.9)" font-size="6.45" text-anchor="end" fill="#2a2a2a">Glb1l2</text>
<line x1="51.2" y1="533.8" x2="54" y2="533.8" stroke="#333" stroke-width="0.8"/>
<text transform="translate(48.3,535.6) scale(1,0.9)" font-size="6.45" text-anchor="end" fill="#2a2a2a">Mrpl46</text>
<line x1="51.2" y1="539.5" x2="54" y2="539.5" stroke="#333" stroke-width="0.8"/>
<text transform="translate(48.3,541.3) scale(1,0.9)" font-size="6.45" text-anchor="end" fill="#2a2a2a">Dnajc5</text>
<line x1="51.2" y1="545.2" x2="54" y2="545.2" stroke="#333" stroke-width="0.8"/>
<text transform="translate(48.3,547) scale(1,0.9)" font-size="6.45" text-anchor="end" fill="#2a2a2a">Adcy5</text>
<line x1="51.2" y1="550.9" x2="54" y2="550.9" stroke="#333" stroke-width="0.8"/>
<text transform="translate(48.3,552.7) scale(1,0.9)" font-size="6.45" text-anchor="end" fill="#2a2a2a">Tmem126b</text>
<line x1="51.2" y1="556.6" x2="54" y2="556.6" stroke="#333" stroke-width="0.8"/>
<text transform="translate(48.3,558.4) scale(1,0.9)" font-size="6.45" text-anchor="end" fill="#2a2a2a">Mpeg1</text>
<line x1="51.2" y1="562.3" x2="54" y2="562.3" stroke="#333" stroke-width="0.8"/>
<text transform="translate(48.3,564.1) scale(1,0.9)" font-size="6.45" text-anchor="end" fill="#2a2a2a">Dhcr7</text>
<line x1="51.2" y1="568" x2="54" y2="568" stroke="#333" stroke-width="0.8"/>
<text transform="translate(48.3,569.8) scale(1,0.9)" font-size="6.45" text-anchor="end" fill="#2a2a2a">Acsm5</text>
<line x1="51.2" y1="573.7" x2="54" y2="573.7" stroke="#333" stroke-width="0.8"/>
<text transform="translate(48.3,575.5) scale(1,0.9)" font-size="6.45" text-anchor="end" fill="#2a2a2a">Dnajb11</text>
<line x1="51.2" y1="579.4" x2="54" y2="579.4" stroke="#333" stroke-width="0.8"/>
<text transform="translate(48.3,581.2) scale(1,0.9)" font-size="6.45" text-anchor="end" fill="#2a2a2a">Mthfs</text>
<line x1="51.2" y1="585.1" x2="54" y2="585.1" stroke="#333" stroke-width="0.8"/>
<text transform="translate(48.3,586.9) scale(1,0.9)" font-size="6.45" text-anchor="end" fill="#2a2a2a">Bola3</text>
<line x1="51.2" y1="590.8" x2="54" y2="590.8" stroke="#333" stroke-width="0.8"/>
<text transform="translate(48.3,592.6) scale(1,0.9)" font-size="6.45" text-anchor="end" fill="#2a2a2a">Dmac1</text>
<line x1="51.2" y1="596.5" x2="54" y2="596.5" stroke="#333" stroke-width="0.8"/>
<text transform="translate(48.3,598.3) scale(1,0.9)" font-size="6.45" text-anchor="end" fill="#2a2a2a">Mrpl14</text>
<line x1="51.2" y1="602.2" x2="54" y2="602.2" stroke="#333" stroke-width="0.8"/>
<text transform="translate(48.3,604) scale(1,0.9)" font-size="6.45" text-anchor="end" fill="#2a2a2a">Pdf</text>
<line x1="51.2" y1="607.9" x2="54" y2="607.9" stroke="#333" stroke-width="0.8"/>
<text transform="translate(48.3,609.7) scale(1,0.9)" font-size="6.45" text-anchor="end" fill="#2a2a2a">Sco1</text>
<line x1="51.2" y1="613.6" x2="54" y2="613.6" stroke="#333" stroke-width="0.8"/>
<text transform="translate(48.3,615.4) scale(1,0.9)" font-size="6.45" text-anchor="end" fill="#2a2a2a">Derl1</text>
<line x1="51.2" y1="619.3" x2="54" y2="619.3" stroke="#333" stroke-width="0.8"/>
<text transform="translate(48.3,621.1) scale(1,0.9)" font-size="6.45" text-anchor="end" fill="#2a2a2a">Scamp3</text>
<line x1="51.2" y1="625" x2="54" y2="625" stroke="#333" stroke-width="0.8"/>
<text transform="translate(48.3,626.8) scale(1,0.9)" font-size="6.45" text-anchor="end" fill="#2a2a2a">Emc10</text>
<line x1="51.2" y1="630.7" x2="54" y2="630.7" stroke="#333" stroke-width="0.8"/>
<text transform="translate(48.3,632.5) scale(1,0.9)" font-size="6.45" text-anchor="end" fill="#2a2a2a">Coa6</text>
<line x1="51.2" y1="636.4" x2="54" y2="636.4" stroke="#333" stroke-width="0.8"/>
<text transform="translate(48.3,638.2) scale(1,0.9)" font-size="6.45" text-anchor="end" fill="#2a2a2a">Napsa</text>
<line x1="51.2" y1="642.1" x2="54" y2="642.1" stroke="#333" stroke-width="0.8"/>
<text transform="translate(48.3,643.9) scale(1,0.9)" font-size="6.45" text-anchor="end" fill="#2a2a2a">Lama5</text>
<line x1="51.2" y1="647.8" x2="54" y2="647.8" stroke="#333" stroke-width="0.8"/>
<text transform="translate(48.3,649.6) scale(1,0.9)" font-size="6.45" text-anchor="end" fill="#2a2a2a">Tnxb</text>
<line x1="51.2" y1="653.5" x2="54" y2="653.5" stroke="#333" stroke-width="0.8"/>
<text transform="translate(48.3,655.3) scale(1,0.9)" font-size="6.45" text-anchor="end" fill="#2a2a2a">Pxdn</text>
<line x1="51.2" y1="659.2" x2="54" y2="659.2" stroke="#333" stroke-width="0.8"/>
<text transform="translate(48.3,661) scale(1,0.9)" font-size="6.45" text-anchor="end" fill="#2a2a2a">Jup</text>
<line x1="51.2" y1="664.9" x2="54" y2="664.9" stroke="#333" stroke-width="0.8"/>
<text transform="translate(48.3,666.7) scale(1,0.9)" font-size="6.45" text-anchor="end" fill="#2a2a2a">Dst</text>
<line x1="51.2" y1="670.6" x2="54" y2="670.6" stroke="#333" stroke-width="0.8"/>
<text transform="translate(48.3,672.4) scale(1,0.9)" font-size="6.45" text-anchor="end" fill="#2a2a2a">Dnm2</text>
<line x1="51.2" y1="676.3" x2="54" y2="676.3" stroke="#333" stroke-width="0.8"/>
<text transform="translate(48.3,678.1) scale(1,0.9)" font-size="6.45" text-anchor="end" fill="#2a2a2a">Nmt1</text>
<line x1="51.2" y1="682" x2="54" y2="682" stroke="#333" stroke-width="0.8"/>
<text transform="translate(48.3,683.8) scale(1,0.9)" font-size="6.45" text-anchor="end" fill="#2a2a2a">Fbln5</text>
<line x1="51.2" y1="687.7" x2="54" y2="687.7" stroke="#333" stroke-width="0.8"/>
<text transform="translate(48.3,689.5) scale(1,0.9)" font-size="6.45" text-anchor="end" fill="#2a2a2a">Cd300lg</text>
<line x1="51.2" y1="693.4" x2="54" y2="693.4" stroke="#333" stroke-width="0.8"/>
<text transform="translate(48.3,695.2) scale(1,0.9)" font-size="6.45" text-anchor="end" fill="#2a2a2a">Rasip1</text>
<line x1="51.2" y1="699.1" x2="54" y2="699.1" stroke="#333" stroke-width="0.8"/>
<text transform="translate(48.3,700.9) scale(1,0.9)" font-size="6.45" text-anchor="end" fill="#2a2a2a">Abce1</text>
<line x1="51.2" y1="704.8" x2="54" y2="704.8" stroke="#333" stroke-width="0.8"/>
<text transform="translate(48.3,706.6) scale(1,0.9)" font-size="6.45" text-anchor="end" fill="#2a2a2a">Tjp1</text>
<line x1="51.2" y1="710.5" x2="54" y2="710.5" stroke="#333" stroke-width="0.8"/>
<text transform="translate(48.3,712.3) scale(1,0.9)" font-size="6.45" text-anchor="end" fill="#2a2a2a">Gbp2</text>
<line x1="51.2" y1="716.2" x2="54" y2="716.2" stroke="#333" stroke-width="0.8"/>
<text transform="translate(48.3,718) scale(1,0.9)" font-size="6.45" text-anchor="end" fill="#2a2a2a">Dnm1l</text>
<line x1="51.2" y1="721.9" x2="54" y2="721.9" stroke="#333" stroke-width="0.8"/>
<text transform="translate(48.3,723.7) scale(1,0.9)" font-size="6.45" text-anchor="end" fill="#2a2a2a">Dst</text>
<line x1="51.2" y1="727.6" x2="54" y2="727.6" stroke="#333" stroke-width="0.8"/>
<text transform="translate(48.3,729.4) scale(1,0.9)" font-size="6.45" text-anchor="end" fill="#2a2a2a">Eif3l</text>
<line x1="51.2" y1="733.3" x2="54" y2="733.3" stroke="#333" stroke-width="0.8"/>
<text transform="translate(48.3,735.1) scale(1,0.9)" font-size="6.45" text-anchor="end" fill="#2a2a2a">Cdh5</text>
<line x1="51.2" y1="739" x2="54" y2="739" stroke="#333" stroke-width="0.8"/>
<text transform="translate(48.3,740.8) scale(1,0.9)" font-size="6.45" text-anchor="end" fill="#2a2a2a">Krt83</text>
<line x1="51.2" y1="744.7" x2="54" y2="744.7" stroke="#333" stroke-width="0.8"/>
<text transform="translate(48.3,746.5) scale(1,0.9)" font-size="6.45" text-anchor="end" fill="#2a2a2a">NARS1</text>
<line x1="51.2" y1="750.4" x2="54" y2="750.4" stroke="#333" stroke-width="0.8"/>
<text transform="translate(48.3,752.2) scale(1,0.9)" font-size="6.45" text-anchor="end" fill="#2a2a2a">Sri</text>
<line x1="51.2" y1="756.1" x2="54" y2="756.1" stroke="#333" stroke-width="0.8"/>
<text transform="translate(48.3,757.9) scale(1,0.9)" font-size="6.45" text-anchor="end" fill="#2a2a2a">C1qtnf9</text>
<line x1="51.2" y1="761.8" x2="54" y2="761.8" stroke="#333" stroke-width="0.8"/>
<text transform="translate(48.3,763.6) scale(1,0.9)" font-size="6.45" text-anchor="end" fill="#2a2a2a">Jchain</text>
<line x1="51.2" y1="767.5" x2="54" y2="767.5" stroke="#333" stroke-width="0.8"/>
<text transform="translate(48.3,769.3) scale(1,0.9)" font-size="6.45" text-anchor="end" fill="#2a2a2a">Dync1li2</text>
<line x1="51.2" y1="773.2" x2="54" y2="773.2" stroke="#333" stroke-width="0.8"/>
<text transform="translate(48.3,775) scale(1,0.9)" font-size="6.45" text-anchor="end" fill="#2a2a2a">G3bp2</text>
<line x1="51.2" y1="778.9" x2="54" y2="778.9" stroke="#333" stroke-width="0.8"/>
<text transform="translate(48.3,780.7) scale(1,0.9)" font-size="6.45" text-anchor="end" fill="#2a2a2a">Rpl37a</text>
<line x1="51.2" y1="784.6" x2="54" y2="784.6" stroke="#333" stroke-width="0.8"/>
<text transform="translate(48.3,786.4) scale(1,0.9)" font-size="6.45" text-anchor="end" fill="#2a2a2a">Slfn5</text>
<line x1="51.2" y1="790.3" x2="54" y2="790.3" stroke="#333" stroke-width="0.8"/>
<text transform="translate(48.3,792.1) scale(1,0.9)" font-size="6.45" text-anchor="end" fill="#2a2a2a">Snx6</text>
<line x1="51.2" y1="796" x2="54" y2="796" stroke="#333" stroke-width="0.8"/>
<text transform="translate(48.3,797.8) scale(1,0.9)" font-size="6.45" text-anchor="end" fill="#2a2a2a">Farsa</text>
<line x1="51.2" y1="801.7" x2="54" y2="801.7" stroke="#333" stroke-width="0.8"/>
<text transform="translate(48.3,803.5) scale(1,0.9)" font-size="6.45" text-anchor="end" fill="#2a2a2a">Ube2k</text>
<line x1="51.2" y1="807.4" x2="54" y2="807.4" stroke="#333" stroke-width="0.8"/>
<text transform="translate(48.3,809.2) scale(1,0.9)" font-size="6.45" text-anchor="end" fill="#2a2a2a">Itih2</text>
<line x1="51.2" y1="813.1" x2="54" y2="813.1" stroke="#333" stroke-width="0.8"/>
<text transform="translate(48.3,814.9) scale(1,0.9)" font-size="6.45" text-anchor="end" fill="#2a2a2a">Ahnak</text>
<line x1="51.2" y1="818.8" x2="54" y2="818.8" stroke="#333" stroke-width="0.8"/>
<text transform="translate(48.3,820.6) scale(1,0.9)" font-size="6.45" text-anchor="end" fill="#2a2a2a">Cnbp</text>
<line x1="51.2" y1="824.5" x2="54" y2="824.5" stroke="#333" stroke-width="0.8"/>
<text transform="translate(48.3,826.3) scale(1,0.9)" font-size="6.45" text-anchor="end" fill="#2a2a2a">Niban2</text>
<line x1="51.2" y1="830.2" x2="54" y2="830.2" stroke="#333" stroke-width="0.8"/>
<text transform="translate(48.3,832) scale(1,0.9)" font-size="6.45" text-anchor="end" fill="#2a2a2a">Eif3f</text>
<line x1="51.2" y1="835.9" x2="54" y2="835.9" stroke="#333" stroke-width="0.8"/>
<text transform="translate(48.3,837.7) scale(1,0.9)" font-size="6.45" text-anchor="end" fill="#2a2a2a">Itih1</text>
<line x1="51.2" y1="841.6" x2="54" y2="841.6" stroke="#333" stroke-width="0.8"/>
<text transform="translate(48.3,843.4) scale(1,0.9)" font-size="6.45" text-anchor="end" fill="#2a2a2a">Macf1</text>
<line x1="62.6" y1="518.2" x2="62.6" y2="521.2" stroke="#444" stroke-width="0.6"/>
<text transform="translate(57,514) rotate(-45)" font-size="8.8" fill="#222">mitoHFD + SANA1</text>
<line x1="78.7" y1="518.2" x2="78.7" y2="521.2" stroke="#444" stroke-width="0.6"/>
<text transform="translate(73.1,514) rotate(-45)" font-size="8.8" fill="#222">mitoHFD + SANA2</text>
<line x1="94.8" y1="518.2" x2="94.8" y2="521.2" stroke="#444" stroke-width="0.6"/>
<text transform="translate(89.2,514) rotate(-45)" font-size="8.8" fill="#222">mitoHFD + SANA3</text>
<line x1="110.8" y1="518.2" x2="110.8" y2="521.2" stroke="#444" stroke-width="0.6"/>
<text transform="translate(105.2,514) rotate(-45)" font-size="8.8" fill="#222">mitoHFD1</text>
<line x1="126.9" y1="518.2" x2="126.9" y2="521.2" stroke="#444" stroke-width="0.6"/>
<text transform="translate(121.3,514) rotate(-45)" font-size="8.8" fill="#222">mitoHFD2</text>
<line x1="143" y1="518.2" x2="143" y2="521.2" stroke="#444" stroke-width="0.6"/>
<text transform="translate(137.4,514) rotate(-45)" font-size="8.8" fill="#222">mitoHFD3</text>
<defs><linearGradient id="cb407" x1="0" x2="1" y1="0" y2="0"><stop offset="0" stop-color="#ff2800"/><stop offset="0.5" stop-color="#807800"/><stop offset="1" stop-color="#00c800"/></linearGradient></defs>
<rect x="54.5" y="407.3" width="99.3" height="20.9" fill="url(#cb407)" stroke="#333" stroke-width="0.7"/>
<line x1="74.4" y1="407.3" x2="74.4" y2="410.3" stroke="#222" stroke-width="0.6"/>
<line x1="74.4" y1="425.2" x2="74.4" y2="428.2" stroke="#222" stroke-width="0.6"/>
<line x1="94.2" y1="407.3" x2="94.2" y2="410.3" stroke="#222" stroke-width="0.6"/>
<line x1="94.2" y1="425.2" x2="94.2" y2="428.2" stroke="#222" stroke-width="0.6"/>
<line x1="114.1" y1="407.3" x2="114.1" y2="410.3" stroke="#222" stroke-width="0.6"/>
<line x1="114.1" y1="425.2" x2="114.1" y2="428.2" stroke="#222" stroke-width="0.6"/>
<line x1="133.9" y1="407.3" x2="133.9" y2="410.3" stroke="#222" stroke-width="0.6"/>
<line x1="133.9" y1="425.2" x2="133.9" y2="428.2" stroke="#222" stroke-width="0.6"/>
<text x="54.5" y="438.8" font-size="8.5" text-anchor="middle" fill="#333" font-weight="normal" >0</text>
<text x="74.4" y="438.8" font-size="8.5" text-anchor="middle" fill="#333" font-weight="normal" >0.2</text>
<text x="94.2" y="438.8" font-size="8.5" text-anchor="middle" fill="#333" font-weight="normal" >0.4</text>
<text x="114.1" y="438.8" font-size="8.5" text-anchor="middle" fill="#333" font-weight="normal" >0.6</text>
<text x="133.9" y="438.8" font-size="8.5" text-anchor="middle" fill="#333" font-weight="normal" >0.8</text>
<defs><linearGradient id="cb863" x1="0" x2="1" y1="0" y2="0"><stop offset="0" stop-color="#ff2800"/><stop offset="0.5" stop-color="#807800"/><stop offset="1" stop-color="#00c800"/></linearGradient></defs>
<rect x="54.5" y="863.3" width="96.3" height="20.9" fill="url(#cb863)" stroke="#333" stroke-width="0.7"/>
<line x1="73.8" y1="863.3" x2="73.8" y2="866.3" stroke="#222" stroke-width="0.6"/>
<line x1="73.8" y1="881.2" x2="73.8" y2="884.2" stroke="#222" stroke-width="0.6"/>
<line x1="93" y1="863.3" x2="93" y2="866.3" stroke="#222" stroke-width="0.6"/>
<line x1="93" y1="881.2" x2="93" y2="884.2" stroke="#222" stroke-width="0.6"/>
<line x1="112.3" y1="863.3" x2="112.3" y2="866.3" stroke="#222" stroke-width="0.6"/>
<line x1="112.3" y1="881.2" x2="112.3" y2="884.2" stroke="#222" stroke-width="0.6"/>
<line x1="131.5" y1="863.3" x2="131.5" y2="866.3" stroke="#222" stroke-width="0.6"/>
<line x1="131.5" y1="881.2" x2="131.5" y2="884.2" stroke="#222" stroke-width="0.6"/>
<text x="54.5" y="894.6" font-size="8.5" text-anchor="middle" fill="#333" font-weight="normal" >0</text>
<text x="73.8" y="894.6" font-size="8.5" text-anchor="middle" fill="#333" font-weight="normal" >0.2</text>
<text x="93" y="894.6" font-size="8.5" text-anchor="middle" fill="#333" font-weight="normal" >0.4</text>
<text x="112.3" y="894.6" font-size="8.5" text-anchor="middle" fill="#333" font-weight="normal" >0.6</text>
<text x="131.5" y="894.6" font-size="8.5" text-anchor="middle" fill="#333" font-weight="normal" >0.8</text>
<text x="260.8" y="38.3" font-size="9.3" text-anchor="middle" fill="#2a2a2a" font-weight="normal" >iWAT</text>
<text x="187.8" y="71" font-size="9.3" text-anchor="start" fill="#2a2a2a" font-weight="normal" >(1) 37 prot.</text>
<text x="295.5" y="71" font-size="9.3" text-anchor="start" fill="#2a2a2a" font-weight="normal" >(2) 51 prot.</text>
<circle cx="257.8" cy="130.3" r="55.7" fill="none" stroke="#9c9c9c" stroke-width="1.35"/>
<path d="M267.7,75.5 A55.7,55.7 0 1,0 256.4,186" fill="none" stroke="#383838" stroke-width="1.3"/>
<circle cx="264.7" cy="131" r="55.6" fill="none" stroke="#f2391b" stroke-width="1.4"/>
<text x="264.9" y="133.2" font-size="9.3" text-anchor="middle" fill="#2a2a2a" font-weight="normal" >(1 &amp; 2) 2,815 prot.</text>
<line x1="314.5" y1="147.4" x2="329.5" y2="155.3" stroke="#3c4a66" stroke-width="1.2"/>
<path d="M333.2,157.2 L328.6,157 L330.4,153.5Z" fill="#3c4a66"/>
<text x="334.5" y="161" font-size="9.3" text-anchor="start" fill="#555" font-weight="normal" >CKM</text>
<text x="187.8" y="197.3" font-size="9.3" text-anchor="start" fill="#2a2a2a" font-weight="normal" >Total : 2,903 prot.</text>
<text x="187.8" y="209" font-size="9.3" text-anchor="start" fill="#2a2a2a" font-weight="normal" >(1) HFD: 2,852 prot.</text>
<text x="187.8" y="220.7" font-size="9.3" text-anchor="start" fill="#2a2a2a" font-weight="normal" >(2) HFD + SANA: 2,866 prot.</text>
<text x="250.3" y="493.3" font-size="9.3" text-anchor="middle" fill="#2a2a2a" font-weight="normal" >iWAT mitochondria</text>
<text x="173.8" y="522.2" font-size="9.3" text-anchor="start" fill="#2a2a2a" font-weight="normal" >(1) 128 prot.</text>
<text x="287.6" y="522.2" font-size="9.3" text-anchor="start" fill="#2a2a2a" font-weight="normal" >(2) 118 prot.</text>
<circle cx="243.8" cy="582" r="55.8" fill="none" stroke="#9c9c9c" stroke-width="1.35"/>
<path d="M250,526.5 A55.8,55.8 0 1,0 250,637.5" fill="none" stroke="#383838" stroke-width="1.3"/>
<circle cx="255.3" cy="582" r="55.7" fill="none" stroke="#f2391b" stroke-width="1.4"/>
<text x="258.2" y="584.8" font-size="9.3" text-anchor="middle" fill="#2a2a2a" font-weight="normal" >(1 &amp; 2) 2,246 prot.</text>
<line x1="300.2" y1="598" x2="316.3" y2="606.4" stroke="#3c4a66" stroke-width="1.2"/>
<path d="M320,608.4 L315.4,608.2 L317.2,604.7Z" fill="#3c4a66"/>
<text x="321.2" y="611.8" font-size="9.3" text-anchor="start" fill="#555" font-weight="normal" >GATM</text>
<text x="173.8" y="647.5" font-size="9.3" text-anchor="start" fill="#2a2a2a" font-weight="normal" >Total : 2,492 prot.</text>
<text x="173.8" y="658.1" font-size="9.3" text-anchor="start" fill="#2a2a2a" font-weight="normal" >(1) HFD: 2,374 prot.</text>
<text x="173.8" y="668.8" font-size="9.3" text-anchor="start" fill="#2a2a2a" font-weight="normal" >(2) HFD + SANA: 2,364 prot.</text>
<text x="218.9" y="304.3" font-size="9.4" text-anchor="start" fill="#222" font-weight="normal" >KEGG pathway description</text>
<line x1="333.4" y1="311.5" x2="333.4" y2="416" stroke="#444" stroke-width="0.8"/>
<rect x="333.8" y="312.1" width="152.5" height="7.5" fill="#8a8a8a"/>
<line x1="329.9" y1="315.9" x2="333.4" y2="315.9" stroke="#444" stroke-width="0.7"/>
<text transform="translate(326.2,318.9) scale(1,1.0)" font-size="8.2" text-anchor="end" fill="#222">Propanoate metabolism</text>
<rect x="333.8" y="322.8" width="99.8" height="7.5" fill="#8a8a8a"/>
<line x1="329.9" y1="326.5" x2="333.4" y2="326.5" stroke="#444" stroke-width="0.7"/>
<text transform="translate(326.2,329.5) scale(1,1.0)" font-size="8.2" text-anchor="end" fill="#222">Pyruvate metabolism</text>
<rect x="333.8" y="333.3" width="84.7" height="7.5" fill="#8a8a8a"/>
<line x1="329.9" y1="337.1" x2="333.4" y2="337.1" stroke="#444" stroke-width="0.7"/>
<text transform="translate(326.2,340.1) scale(1,1.0)" font-size="8.2" text-anchor="end" fill="#222">Oxidative phosphorylation</text>
<rect x="333.8" y="343.9" width="69.2" height="7.5" fill="#8a8a8a"/>
<line x1="329.9" y1="347.7" x2="333.4" y2="347.7" stroke="#444" stroke-width="0.7"/>
<text transform="translate(326.2,350.7) scale(1,1.0)" font-size="8.2" text-anchor="end" fill="#222">Retrograde endocannabinoid signaling</text>
<rect x="333.8" y="354.5" width="65.5" height="7.5" fill="#8a8a8a"/>
<line x1="329.9" y1="358.3" x2="333.4" y2="358.3" stroke="#444" stroke-width="0.7"/>
<text transform="translate(326.2,361.3) scale(1,1.0)" font-size="8.2" text-anchor="end" fill="#222">Parkinson disease</text>
<rect x="333.8" y="365.1" width="56.4" height="7.5" fill="#8a8a8a"/>
<line x1="329.9" y1="368.9" x2="333.4" y2="368.9" stroke="#444" stroke-width="0.7"/>
<text transform="translate(326.2,371.9) scale(1,1.0)" font-size="8.2" text-anchor="end" fill="#222">Non-alcoholic fatty liver disease</text>
<rect x="333.8" y="375.8" width="48.4" height="7.5" fill="#8a8a8a"/>
<line x1="329.9" y1="379.5" x2="333.4" y2="379.5" stroke="#444" stroke-width="0.7"/>
<text transform="translate(326.2,382.5) scale(1,1.0)" font-size="8.2" text-anchor="end" fill="#222">Huntington disease</text>
<rect x="333.8" y="386.3" width="48.4" height="7.5" fill="#8a8a8a"/>
<line x1="329.9" y1="390.1" x2="333.4" y2="390.1" stroke="#444" stroke-width="0.7"/>
<text transform="translate(326.2,393.1) scale(1,1.0)" font-size="8.2" text-anchor="end" fill="#222">Alzheimer disease</text>
<rect x="333.8" y="396.9" width="45" height="7.5" fill="#8a8a8a"/>
<line x1="329.9" y1="400.7" x2="333.4" y2="400.7" stroke="#444" stroke-width="0.7"/>
<text transform="translate(326.2,403.7) scale(1,1.0)" font-size="8.2" text-anchor="end" fill="#222">Thermogenesis</text>
<rect x="333.8" y="407.5" width="22.5" height="7.5" fill="#8a8a8a"/>
<line x1="329.9" y1="411.3" x2="333.4" y2="411.3" stroke="#444" stroke-width="0.7"/>
<text transform="translate(326.2,414.3) scale(1,1.0)" font-size="8.2" text-anchor="end" fill="#222">Metabolic pathways</text>
<line x1="333.4" y1="416" x2="501.7" y2="416" stroke="#444" stroke-width="0.8"/>
<line x1="333.4" y1="416" x2="333.4" y2="419" stroke="#444" stroke-width="0.7"/>
<text x="333.4" y="428.8" font-size="8.2" text-anchor="middle" fill="#333" font-weight="normal" >0</text>
<line x1="367" y1="416" x2="367" y2="419" stroke="#444" stroke-width="0.7"/>
<text x="367" y="428.8" font-size="8.2" text-anchor="middle" fill="#333" font-weight="normal" >5</text>
<line x1="400.6" y1="416" x2="400.6" y2="419" stroke="#444" stroke-width="0.7"/>
<text x="400.6" y="428.8" font-size="8.2" text-anchor="middle" fill="#333" font-weight="normal" >10</text>
<line x1="434.2" y1="416" x2="434.2" y2="419" stroke="#444" stroke-width="0.7"/>
<text x="434.2" y="428.8" font-size="8.2" text-anchor="middle" fill="#333" font-weight="normal" >15</text>
<line x1="467.8" y1="416" x2="467.8" y2="419" stroke="#444" stroke-width="0.7"/>
<text x="467.8" y="428.8" font-size="8.2" text-anchor="middle" fill="#333" font-weight="normal" >20</text>
<line x1="501.4" y1="416" x2="501.4" y2="419" stroke="#444" stroke-width="0.7"/>
<text x="501.4" y="428.8" font-size="8.2" text-anchor="middle" fill="#333" font-weight="normal" >25</text>
<text x="354.7" y="442" font-size="9.3" fill="#222">Enrichment ratio (<tspan font-style="italic">P</tspan><tspan font-size="6.045000000000001" dy="2">adj.</tspan><tspan dy="-2"> &lt; 0.05)</tspan></text>
<text x="217" y="752.2" font-size="9.4" text-anchor="start" fill="#222" font-weight="normal" >KEGG pathway description</text>
<line x1="333.1" y1="756.6" x2="333.1" y2="868.5" stroke="#444" stroke-width="0.8"/>
<rect x="333.5" y="757.2" width="151" height="4.7" fill="#8a8a8a"/>
<line x1="329.6" y1="759.6" x2="333.1" y2="759.6" stroke="#444" stroke-width="0.7"/>
<text transform="translate(325.9,762.1) scale(1,0.85)" font-size="8.2" text-anchor="end" fill="#222">2-Oxocarboxylic acid metabolism</text>
<rect x="333.5" y="764.2" width="148.5" height="4.7" fill="#8a8a8a"/>
<line x1="329.6" y1="766.6" x2="333.1" y2="766.6" stroke="#444" stroke-width="0.7"/>
<text transform="translate(325.9,769.1) scale(1,0.85)" font-size="8.2" text-anchor="end" fill="#222">Citrate cycle (TCA cycle)</text>
<rect x="333.5" y="771.2" width="148.1" height="4.7" fill="#8a8a8a"/>
<line x1="329.6" y1="773.6" x2="333.1" y2="773.6" stroke="#444" stroke-width="0.7"/>
<text transform="translate(325.9,776.1) scale(1,0.85)" font-size="8.2" text-anchor="end" fill="#222">Glycine, serine and threonine metabolism</text>
<rect x="333.5" y="778.2" width="143.9" height="4.7" fill="#8a8a8a"/>
<line x1="329.6" y1="780.6" x2="333.1" y2="780.6" stroke="#444" stroke-width="0.7"/>
<text transform="translate(325.9,783.1) scale(1,0.85)" font-size="8.2" text-anchor="end" fill="#222">Tryptophan metabolism</text>
<rect x="333.5" y="785.2" width="119.8" height="4.7" fill="#8a8a8a"/>
<line x1="329.6" y1="787.6" x2="333.1" y2="787.6" stroke="#444" stroke-width="0.7"/>
<text transform="translate(325.9,790.1) scale(1,0.85)" font-size="8.2" text-anchor="end" fill="#222">Arginine, creatine and proline metabolism</text>
<rect x="333.5" y="792.2" width="118.6" height="4.7" fill="#8a8a8a"/>
<line x1="329.6" y1="794.6" x2="333.1" y2="794.6" stroke="#444" stroke-width="0.7"/>
<text transform="translate(325.9,797.1) scale(1,0.85)" font-size="8.2" text-anchor="end" fill="#222">Glyoxylate and dicarboxylate metabolism</text>
<rect x="333.5" y="799.2" width="111.9" height="4.7" fill="#8a8a8a"/>
<line x1="329.6" y1="801.6" x2="333.1" y2="801.6" stroke="#444" stroke-width="0.7"/>
<text transform="translate(325.9,804.1) scale(1,0.85)" font-size="8.2" text-anchor="end" fill="#222">Valine, leucine and isoleucine degradation</text>
<rect x="333.5" y="806.2" width="104.8" height="4.7" fill="#8a8a8a"/>
<line x1="329.6" y1="808.6" x2="333.1" y2="808.6" stroke="#444" stroke-width="0.7"/>
<text transform="translate(325.9,811.1) scale(1,0.85)" font-size="8.2" text-anchor="end" fill="#222">Non-alcoholic fatty liver disease</text>
<rect x="333.5" y="813.2" width="95.3" height="4.7" fill="#8a8a8a"/>
<line x1="329.6" y1="815.6" x2="333.1" y2="815.6" stroke="#444" stroke-width="0.7"/>
<text transform="translate(325.9,818.1) scale(1,0.85)" font-size="8.2" text-anchor="end" fill="#222">Peroxisome</text>
<rect x="333.5" y="820.2" width="91.1" height="4.7" fill="#8a8a8a"/>
<line x1="329.6" y1="822.6" x2="333.1" y2="822.6" stroke="#444" stroke-width="0.7"/>
<text transform="translate(325.9,825.1) scale(1,0.85)" font-size="8.2" text-anchor="end" fill="#222">Huntington disease</text>
<rect x="333.5" y="827.2" width="89.4" height="4.7" fill="#8a8a8a"/>
<line x1="329.6" y1="829.6" x2="333.1" y2="829.6" stroke="#444" stroke-width="0.7"/>
<text transform="translate(325.9,832.1) scale(1,0.85)" font-size="8.2" text-anchor="end" fill="#222">Parkinson disease</text>
<rect x="333.5" y="834.2" width="88.2" height="4.7" fill="#8a8a8a"/>
<line x1="329.6" y1="836.6" x2="333.1" y2="836.6" stroke="#444" stroke-width="0.7"/>
<text transform="translate(325.9,839.1) scale(1,0.85)" font-size="8.2" text-anchor="end" fill="#222">Carbon metabolism</text>
<rect x="333.5" y="841.2" width="84" height="4.7" fill="#8a8a8a"/>
<line x1="329.6" y1="843.6" x2="333.1" y2="843.6" stroke="#444" stroke-width="0.7"/>
<text transform="translate(325.9,846.1) scale(1,0.85)" font-size="8.2" text-anchor="end" fill="#222">Oxidative phosphorylation</text>
<rect x="333.5" y="848.2" width="84" height="4.7" fill="#8a8a8a"/>
<line x1="329.6" y1="850.6" x2="333.1" y2="850.6" stroke="#444" stroke-width="0.7"/>
<text transform="translate(325.9,853.1) scale(1,0.85)" font-size="8.2" text-anchor="end" fill="#222">Alzheimer disease</text>
<rect x="333.5" y="855.2" width="76.1" height="4.7" fill="#8a8a8a"/>
<line x1="329.6" y1="857.6" x2="333.1" y2="857.6" stroke="#444" stroke-width="0.7"/>
<text transform="translate(325.9,860.1) scale(1,0.85)" font-size="8.2" text-anchor="end" fill="#222">Thermogenesis</text>
<rect x="333.5" y="862.2" width="72" height="4.7" fill="#8a8a8a"/>
<line x1="329.6" y1="864.6" x2="333.1" y2="864.6" stroke="#444" stroke-width="0.7"/>
<text transform="translate(325.9,867.1) scale(1,0.85)" font-size="8.2" text-anchor="end" fill="#222">Metabolic pathways</text>
<line x1="333.1" y1="868.5" x2="500.6" y2="868.5" stroke="#444" stroke-width="0.8"/>
<line x1="333.1" y1="868.5" x2="333.1" y2="871.5" stroke="#444" stroke-width="0.7"/>
<text x="333.1" y="880.8" font-size="8.2" text-anchor="middle" fill="#333" font-weight="normal" >0</text>
<line x1="374.7" y1="868.5" x2="374.7" y2="871.5" stroke="#444" stroke-width="0.7"/>
<text x="374.7" y="880.8" font-size="8.2" text-anchor="middle" fill="#333" font-weight="normal" >1</text>
<line x1="416.3" y1="868.5" x2="416.3" y2="871.5" stroke="#444" stroke-width="0.7"/>
<text x="416.3" y="880.8" font-size="8.2" text-anchor="middle" fill="#333" font-weight="normal" >2</text>
<line x1="457.9" y1="868.5" x2="457.9" y2="871.5" stroke="#444" stroke-width="0.7"/>
<text x="457.9" y="880.8" font-size="8.2" text-anchor="middle" fill="#333" font-weight="normal" >3</text>
<line x1="499.5" y1="868.5" x2="499.5" y2="871.5" stroke="#444" stroke-width="0.7"/>
<text x="499.5" y="880.8" font-size="8.2" text-anchor="middle" fill="#333" font-weight="normal" >4</text>
<text x="352.9" y="894.8" font-size="9.3" fill="#222">Enrichment ratio (<tspan font-style="italic">P</tspan><tspan font-size="6.045000000000001" dy="2">adj.</tspan><tspan dy="-2"> &lt; 0.05)</tspan></text>
<clipPath id="clc"><rect x="419.6" y="16.5" width="256.2" height="255.7"/></clipPath>
<g clip-path="url(#clc)">
<g class="sc clc" fill="none" stroke="#8a8a8a" stroke-width="0.58"><circle cx="568.4" cy="246.9"/><circle cx="517.7" cy="228.8"/><circle cx="564" cy="247.1"/><circle cx="523" cy="229.1"/><circle cx="562.6" cy="250.8"/><circle cx="544.1" cy="251.2"/><circle cx="572.5" cy="227.4"/><circle cx="546.8" cy="258.3"/><circle cx="557.9" cy="231.1"/><circle cx="562" cy="226.7"/><circle class="f" cx="598.6" cy="188"/><circle class="f" cx="573" cy="195"/><circle cx="575.7" cy="225.7"/><circle cx="540.7" cy="238.3"/><circle cx="635.3" cy="224.5"/><circle cx="541.3" cy="245.5"/><circle cx="470" cy="205"/><circle cx="540.6" cy="209.3"/><circle cx="545.3" cy="257.8"/><circle cx="556" cy="246.3"/><circle cx="566.4" cy="183.2"/><circle cx="534.4" cy="242.7"/><circle cx="526" cy="232.8"/><circle cx="528.5" cy="239.1"/><circle cx="515.1" cy="219.1"/><circle cx="561.9" cy="217.1"/><circle cx="564.5" cy="240.3"/><circle cx="580.8" cy="231.1"/><circle cx="527.9" cy="200.2"/><circle cx="540.2" cy="190"/><circle cx="564.5" cy="223"/><circle class="f" cx="577.8" cy="192.8"/><circle cx="546.9" cy="258.2"/><circle cx="585.5" cy="232.1"/><circle cx="538.1" cy="231.7"/><circle cx="555" cy="243.6"/><circle cx="549.9" cy="255.1"/><circle cx="586.4" cy="238.6"/><circle cx="527.4" cy="250.4"/><circle cx="491.8" cy="217.6"/><circle cx="527" cy="203.9"/><circle cx="535.1" cy="227.5"/><circle cx="566.6" cy="234.3"/><circle cx="560" cy="242"/><circle cx="529.8" cy="220.8"/><circle cx="593.5" cy="213.8"/><circle cx="560.9" cy="224.5"/><circle cx="585" cy="240.7"/><circle cx="554.3" cy="246.1"/><circle cx="579.4" cy="158.9"/><circle cx="506.8" cy="232.7"/><circle cx="553.7" cy="244.3"/><circle cx="539.9" cy="254.7"/><circle cx="574.1" cy="232.8"/><circle cx="517.7" cy="246.1"/><circle cx="539.5" cy="256.5"/><circle cx="554.3" cy="241.5"/><circle cx="518" cy="147.9"/><circle cx="559.8" cy="251.4"/><circle cx="609.3" cy="201.8"/><circle cx="557.6" cy="217.4"/><circle cx="525.6" cy="221.8"/><circle cx="614.4" cy="172"/><circle cx="525.9" cy="222.4"/><circle cx="568.1" cy="243"/><circle cx="562" cy="240.8"/><circle cx="539" cy="228.4"/><circle cx="505.3" cy="196.8"/><circle cx="561" cy="241.8"/><circle cx="536.7" cy="202.8"/><circle cx="552.9" cy="237.9"/><circle cx="502" cy="218.2"/><circle cx="567" cy="240"/><circle cx="566.6" cy="213"/><circle cx="541.7" cy="247.5"/><circle cx="566.6" cy="202.7"/><circle cx="539" cy="242.2"/><circle cx="509.2" cy="212.3"/><circle cx="534.7" cy="239.3"/><circle cx="573" cy="193"/><circle cx="550.3" cy="253.6"/><circle cx="544.5" cy="257.3"/><circle cx="599.1" cy="67.7"/><circle cx="541.7" cy="237.6"/><circle cx="546.1" cy="250.2"/><circle cx="536.5" cy="245.1"/><circle cx="545" cy="251.5"/><circle cx="546.2" cy="256.4"/><circle cx="543.9" cy="251.9"/><circle cx="522.2" cy="230.9"/><circle class="f" cx="585.5" cy="170.5"/><circle cx="548.4" cy="258.2"/><circle cx="530.8" cy="167.8"/><circle cx="550.9" cy="256.3"/><circle cx="493.3" cy="201.5"/><circle cx="533.2" cy="244.8"/><circle cx="587.2" cy="225.7"/><circle cx="550.1" cy="258"/><circle cx="525.2" cy="232.1"/><circle cx="543.2" cy="240.1"/><circle cx="609.9" cy="231.4"/><circle cx="532.6" cy="242.3"/><circle cx="552" cy="256.5"/><circle cx="541.5" cy="255"/><circle cx="511" cy="167.7"/><circle cx="566.3" cy="240"/><circle cx="516" cy="225.5"/><circle cx="563.1" cy="251.2"/><circle cx="570.6" cy="117.1"/><circle class="f" cx="580.5" cy="195"/><circle class="f" cx="582.7" cy="179.7"/><circle class="f" cx="606.7" cy="200.5"/><circle cx="534.5" cy="235"/><circle cx="525.5" cy="239.8"/><circle cx="588.5" cy="210.9"/><circle cx="514.9" cy="243.3"/><circle cx="569.5" cy="243.7"/><circle cx="542.7" cy="248.5"/><circle cx="495.8" cy="134.3"/><circle cx="553.3" cy="253.9"/><circle cx="534.3" cy="216.3"/><circle cx="611.6" cy="222.1"/><circle cx="542.3" cy="237.9"/><circle cx="585.4" cy="168.9"/><circle cx="559.3" cy="221.4"/><circle cx="545.7" cy="255.5"/><circle cx="520" cy="198.4"/><circle cx="566.5" cy="213.2"/><circle cx="530.8" cy="241.5"/><circle cx="563.7" cy="199.7"/><circle cx="540.5" cy="247"/><circle cx="531.4" cy="240.8"/><circle cx="542.6" cy="249.8"/><circle cx="551.5" cy="253.7"/><circle cx="546.9" cy="258"/><circle cx="548" cy="257.6"/><circle cx="524" cy="248.2"/><circle cx="554.7" cy="183.5"/><circle cx="536.1" cy="243.6"/><circle cx="527.6" cy="239.5"/><circle cx="550.6" cy="256.1"/><circle class="f" cx="508" cy="209.1"/><circle cx="551" cy="256.4"/><circle cx="559.8" cy="227.4"/><circle cx="534.8" cy="249.1"/><circle cx="545.4" cy="255.4"/><circle cx="519.2" cy="232.1"/><circle cx="501.1" cy="243.2"/><circle cx="567.7" cy="243.5"/><circle cx="516.4" cy="195.7"/><circle cx="519" cy="218.5"/><circle cx="562.1" cy="232"/><circle cx="524.7" cy="247"/><circle cx="606.7" cy="226.5"/><circle cx="566.1" cy="250.4"/><circle cx="553.5" cy="243.8"/><circle cx="554.9" cy="244.2"/><circle cx="550.3" cy="253.2"/><circle cx="538.7" cy="226.2"/><circle cx="556.6" cy="248.8"/><circle cx="531.7" cy="239.9"/><circle cx="518.8" cy="221.8"/><circle cx="540.4" cy="230"/><circle cx="558.6" cy="252.4"/><circle cx="540" cy="245.4"/><circle cx="516.6" cy="214.3"/><circle cx="485.6" cy="239.9"/><circle cx="541.7" cy="254.7"/><circle cx="652" cy="206"/><circle cx="532.6" cy="236.7"/><circle cx="535.9" cy="238.1"/><circle cx="569" cy="236.8"/><circle cx="511.8" cy="215.3"/><circle cx="572.5" cy="230.4"/><circle cx="580.2" cy="224.8"/><circle cx="522" cy="218.9"/><circle cx="539.7" cy="242.5"/><circle cx="534.6" cy="233.6"/><circle cx="559.1" cy="207.1"/><circle cx="589.2" cy="201"/><circle class="f" cx="610.4" cy="91.3"/><circle cx="548.3" cy="258.5"/><circle cx="507.9" cy="224.2"/><circle cx="603.6" cy="218.8"/><circle cx="577.2" cy="247.6"/><circle cx="592.2" cy="230.2"/><circle cx="544.4" cy="251.6"/><circle cx="540" cy="243.5"/><circle cx="557" cy="222.6"/><circle cx="542" cy="247.7"/><circle cx="561.7" cy="222.4"/><circle cx="531.7" cy="234.6"/><circle cx="532.1" cy="224.9"/><circle cx="533" cy="239.6"/><circle cx="561.1" cy="240.4"/><circle cx="497.2" cy="213.6"/><circle cx="531.1" cy="241.1"/><circle cx="559.9" cy="184.3"/><circle cx="525.9" cy="235.4"/><circle cx="557.3" cy="255.5"/><circle cx="563.2" cy="248.4"/><circle cx="536.3" cy="238.4"/><circle cx="555.3" cy="236.7"/><circle cx="565.1" cy="232.3"/><circle cx="542.3" cy="254.1"/><circle cx="573.9" cy="230.2"/><circle cx="514.7" cy="180.6"/><circle cx="528.8" cy="251.2"/><circle cx="537.2" cy="209.9"/><circle cx="544.7" cy="250.3"/><circle cx="545.8" cy="249.2"/><circle cx="545.3" cy="254.1"/><circle cx="535.3" cy="226.5"/><circle cx="539.4" cy="243.2"/><circle cx="544.4" cy="255.8"/><circle cx="559.1" cy="248.6"/><circle cx="537" cy="253.2"/><circle cx="554.1" cy="252.3"/><circle cx="640.6" cy="220.6"/><circle cx="558.6" cy="235.7"/><circle cx="542" cy="252.1"/><circle cx="536.2" cy="240.9"/><circle cx="572.9" cy="238.8"/><circle cx="534.2" cy="188.2"/><circle cx="561.4" cy="242.1"/><circle cx="604.4" cy="215.6"/><circle cx="554.8" cy="230.4"/><circle cx="577.8" cy="206"/><circle cx="495.7" cy="216.8"/><circle cx="530.1" cy="232.3"/><circle cx="538.1" cy="248.2"/><circle cx="575.5" cy="240.9"/><circle cx="527.5" cy="232.1"/><circle cx="540" cy="237.7"/><circle cx="545.9" cy="256.7"/><circle cx="556.2" cy="223.9"/><circle cx="514" cy="236.1"/><circle cx="608.5" cy="220.3"/><circle cx="527.3" cy="251"/><circle cx="506.6" cy="227.6"/><circle cx="528.5" cy="223.1"/><circle cx="513.4" cy="217.8"/><circle cx="582.9" cy="221.3"/><circle class="f" cx="499.8" cy="172.9"/><circle cx="529.2" cy="244.1"/><circle cx="553.4" cy="245.1"/><circle cx="532.9" cy="219.5"/><circle cx="583.9" cy="187.8"/><circle class="f" cx="582.7" cy="200.5"/><circle cx="563.2" cy="187.6"/><circle cx="553.7" cy="250.8"/><circle cx="545.6" cy="248.6"/><circle cx="549.9" cy="253.6"/><circle class="f" cx="509.1" cy="190.7"/><circle class="f" cx="517.5" cy="147.4"/><circle cx="571.8" cy="244.2"/><circle cx="538.6" cy="244.8"/><circle cx="568" cy="248.6"/><circle cx="485.6" cy="223.1"/><circle cx="519" cy="237.9"/><circle cx="555.6" cy="252.1"/><circle cx="540.3" cy="201"/><circle cx="552.3" cy="238.6"/><circle cx="571.9" cy="215.4"/><circle cx="549.9" cy="251.6"/><circle cx="554.5" cy="223.7"/><circle cx="595.1" cy="171.6"/><circle cx="478" cy="201"/><circle cx="567.1" cy="244.1"/><circle cx="549.6" cy="257.1"/><circle cx="551.2" cy="250.7"/><circle cx="563.2" cy="247.7"/><circle cx="561.9" cy="241.4"/><circle cx="559.7" cy="232.7"/><circle cx="518.8" cy="243.4"/><circle cx="546.3" cy="258.8"/><circle cx="560.2" cy="248.2"/><circle cx="544.1" cy="249.9"/><circle cx="531.6" cy="238.8"/><circle cx="558.4" cy="231.8"/><circle cx="535.9" cy="248.4"/><circle cx="538.3" cy="237.1"/><circle cx="548.4" cy="257.3"/><circle cx="495.9" cy="232.7"/><circle cx="457.7" cy="226.7"/><circle cx="554.3" cy="251.9"/><circle cx="550.3" cy="246.3"/><circle cx="558.1" cy="227.1"/><circle cx="556.5" cy="243.6"/><circle cx="539.4" cy="242.7"/><circle cx="547.2" cy="257.3"/><circle cx="550.4" cy="248.8"/><circle cx="537.8" cy="229.5"/><circle cx="583.4" cy="224.8"/><circle cx="490.6" cy="219.5"/><circle cx="534.9" cy="251.2"/><circle cx="586.4" cy="179.3"/><circle cx="557.9" cy="242.8"/><circle cx="545.8" cy="254.3"/><circle cx="539.6" cy="242.7"/><circle cx="536.5" cy="249.3"/><circle cx="526" cy="230.1"/><circle cx="539.3" cy="256.5"/><circle cx="514.3" cy="235.7"/><circle cx="510.4" cy="247.8"/><circle cx="571" cy="172"/><circle cx="555.7" cy="248.3"/><circle cx="561.6" cy="222.8"/><circle cx="585.6" cy="177.2"/><circle cx="537.6" cy="249.4"/><circle cx="570.5" cy="245.8"/><circle cx="517.2" cy="210.7"/><circle cx="544.1" cy="254.9"/><circle cx="567.4" cy="197.9"/><circle cx="534.8" cy="233.5"/><circle cx="556.6" cy="247.8"/><circle cx="598.7" cy="238"/><circle cx="496.5" cy="126.9"/><circle cx="593.9" cy="233.3"/><circle cx="547.9" cy="257.1"/><circle cx="574.6" cy="210.9"/><circle cx="552" cy="249.4"/><circle cx="552.2" cy="249.8"/><circle cx="552.1" cy="255.6"/><circle cx="511.7" cy="220.6"/><circle cx="514.2" cy="214.3"/><circle cx="553.6" cy="243.5"/><circle cx="504.4" cy="175.5"/><circle cx="541.9" cy="230.3"/><circle cx="500" cy="140.9"/><circle cx="562.8" cy="233.8"/><circle class="f" cx="524.5" cy="116.4"/><circle cx="518.7" cy="218.6"/><circle cx="502.9" cy="214.4"/><circle cx="554.4" cy="254.8"/><circle cx="553.9" cy="230.8"/><circle cx="547.2" cy="257.8"/><circle cx="474.8" cy="133.9"/><circle cx="555.4" cy="247.6"/><circle cx="571" cy="241.9"/><circle cx="563.5" cy="252.3"/><circle cx="546.1" cy="255.9"/><circle cx="561.2" cy="247.9"/><circle cx="557.1" cy="236.9"/><circle cx="536.5" cy="246.9"/><circle cx="556.6" cy="246.3"/><circle cx="532.3" cy="242.3"/><circle cx="541.7" cy="245.7"/><circle cx="523.1" cy="209.6"/><circle cx="516.6" cy="227.1"/><circle cx="545.5" cy="250.1"/><circle cx="577.8" cy="203.7"/><circle cx="557.4" cy="241.9"/><circle cx="473.1" cy="225.9"/><circle cx="553" cy="256.1"/><circle cx="539.4" cy="227.5"/><circle cx="551.1" cy="254.2"/><circle cx="556.8" cy="208.2"/><circle cx="524" cy="243.1"/><circle cx="568.4" cy="237.4"/><circle cx="543.5" cy="253.6"/><circle cx="537.8" cy="249.6"/><circle cx="590.4" cy="213"/><circle cx="549.1" cy="253.1"/><circle cx="509.8" cy="232.8"/><circle cx="566.9" cy="226.5"/><circle cx="583.9" cy="237.6"/><circle cx="586" cy="220.9"/><circle cx="555.4" cy="251.5"/><circle cx="556.8" cy="242.5"/><circle cx="526.7" cy="248.9"/><circle cx="549.7" cy="255"/><circle cx="547.1" cy="257.4"/><circle cx="545.5" cy="256"/><circle cx="533.9" cy="205.5"/><circle cx="552.2" cy="241.8"/><circle cx="510.1" cy="232.3"/><circle cx="548.5" cy="256.2"/><circle cx="548.5" cy="255.3"/><circle cx="582.6" cy="190.1"/><circle cx="595.8" cy="239.4"/><circle cx="522.3" cy="247.1"/><circle cx="575.6" cy="249"/><circle cx="564.2" cy="241.4"/><circle cx="518.6" cy="230.4"/><circle cx="538.1" cy="234.9"/><circle cx="509.8" cy="235.3"/><circle cx="521.4" cy="218.5"/><circle cx="597.8" cy="243.1"/><circle cx="553.6" cy="251.4"/><circle cx="555" cy="247.6"/><circle cx="541.4" cy="181.8"/><circle cx="569.5" cy="219.7"/><circle cx="567" cy="245.2"/><circle cx="501.1" cy="221.7"/><circle cx="540.7" cy="256.1"/><circle cx="541.3" cy="253.9"/><circle cx="552.7" cy="255.9"/><circle cx="532.5" cy="227.1"/><circle cx="553.7" cy="256"/><circle cx="548.9" cy="252.9"/><circle cx="531.3" cy="237.2"/><circle cx="539.7" cy="217.2"/><circle cx="517.9" cy="244.1"/><circle cx="543.2" cy="229.4"/><circle cx="542.4" cy="250"/><circle cx="539" cy="203.6"/><circle cx="548.4" cy="258.1"/><circle cx="544.1" cy="253.3"/><circle cx="537.7" cy="244.9"/><circle cx="535.4" cy="214.8"/><circle cx="529.7" cy="191.1"/><circle cx="550.7" cy="253"/><circle cx="586.2" cy="230.1"/><circle class="f" cx="580.5" cy="185.2"/><circle cx="576" cy="251.4"/><circle cx="558.1" cy="224.1"/><circle cx="535.4" cy="234.6"/><circle cx="542.8" cy="256.9"/><circle cx="560" cy="160"/><circle cx="575.6" cy="235.6"/><circle cx="521.3" cy="138.6"/><circle cx="568" cy="243.6"/><circle cx="559" cy="242"/><circle cx="611.9" cy="238.7"/><circle cx="549" cy="255.7"/><circle cx="533.5" cy="243.2"/><circle cx="579.5" cy="227.1"/><circle cx="559.7" cy="216.9"/><circle cx="518" cy="217.3"/><circle cx="558.9" cy="252.3"/><circle cx="567.8" cy="224.4"/><circle cx="527.5" cy="244.4"/><circle cx="535.2" cy="249.1"/><circle cx="538.7" cy="236.8"/><circle cx="547.9" cy="259"/><circle cx="532.2" cy="246.2"/><circle cx="494.2" cy="159.1"/><circle cx="543" cy="255.9"/><circle cx="525.5" cy="241.7"/><circle cx="555.9" cy="214"/><circle cx="557.9" cy="246.5"/><circle cx="476.7" cy="219.3"/><circle cx="537.7" cy="245.8"/><circle cx="512.3" cy="229.7"/><circle cx="485.2" cy="222.5"/><circle cx="575.1" cy="208.2"/><circle cx="552" cy="256.5"/><circle cx="547.1" cy="256.8"/><circle cx="564.7" cy="218.7"/><circle cx="554.9" cy="254.5"/><circle cx="570.3" cy="248"/><circle cx="531.1" cy="248.4"/><circle cx="534.1" cy="233.9"/><circle cx="532.1" cy="200.2"/><circle cx="535.4" cy="251.6"/><circle cx="472.2" cy="225.6"/><circle cx="551.2" cy="249.4"/><circle cx="534.8" cy="207.9"/><circle cx="557.9" cy="239.4"/><circle cx="593.8" cy="222.8"/><circle cx="527.1" cy="219.1"/><circle class="f" cx="519.9" cy="124.8"/><circle cx="546.2" cy="256.2"/><circle cx="540.8" cy="240.7"/><circle cx="567.7" cy="214.4"/><circle cx="597.8" cy="198"/><circle cx="502.1" cy="235.9"/><circle cx="573.7" cy="240.9"/><circle cx="540.7" cy="223.7"/><circle cx="619.3" cy="235.7"/><circle cx="533.1" cy="223.3"/><circle cx="531.3" cy="237.9"/><circle cx="554.2" cy="236.6"/><circle cx="563.5" cy="210.8"/><circle cx="569.2" cy="226.5"/><circle cx="551" cy="181"/><circle cx="562.7" cy="240.3"/><circle cx="561.6" cy="223.7"/><circle cx="572.5" cy="213.3"/><circle cx="549.8" cy="254.7"/><circle cx="543.9" cy="250"/><circle cx="602.2" cy="210.9"/><circle cx="549.8" cy="255.4"/><circle cx="550.2" cy="256.9"/><circle cx="568.1" cy="229.1"/><circle cx="538" cy="230.9"/><circle cx="641.2" cy="220.1"/><circle cx="550.1" cy="257.7"/><circle cx="549.7" cy="253.8"/><circle cx="578.7" cy="209.3"/><circle cx="566.1" cy="224.1"/><circle cx="540.2" cy="175.7"/><circle cx="550.7" cy="253.1"/><circle cx="594.7" cy="220.3"/><circle cx="615.9" cy="206.5"/><circle cx="504.1" cy="221.9"/><circle class="f" cx="581.1" cy="35.8"/><circle cx="562.7" cy="213.6"/><circle cx="541.6" cy="250.1"/><circle cx="547.5" cy="258.9"/><circle cx="592.1" cy="204.5"/><circle cx="564.4" cy="224.7"/><circle cx="561.5" cy="221.1"/><circle cx="535.8" cy="241.4"/><circle cx="559" cy="224.1"/><circle cx="534.1" cy="220.6"/><circle cx="548.2" cy="258.6"/><circle cx="552.7" cy="245"/><circle cx="524.6" cy="238.7"/><circle cx="559.8" cy="228.4"/><circle cx="564.5" cy="222.8"/><circle cx="541.9" cy="252"/><circle cx="613.9" cy="238.7"/><circle cx="539.4" cy="248.4"/><circle cx="534.8" cy="234.4"/><circle cx="504.7" cy="243.3"/><circle cx="566.4" cy="224"/><circle cx="560.7" cy="240.4"/><circle cx="533" cy="214.8"/><circle cx="583.5" cy="242.2"/><circle cx="526.9" cy="231"/><circle class="f" cx="500.5" cy="202.8"/><circle cx="516.9" cy="215.4"/><circle cx="553" cy="251.1"/><circle cx="584.6" cy="241.4"/><circle cx="531.3" cy="236.9"/><circle cx="537.7" cy="230.7"/><circle cx="547.8" cy="259.1"/><circle cx="541.8" cy="233.1"/><circle cx="578.3" cy="204.3"/><circle class="f" cx="519.6" cy="169.4"/><circle cx="566.9" cy="246.1"/><circle cx="559.9" cy="201.4"/><circle cx="564.5" cy="232.8"/><circle class="f" cx="511.4" cy="176.2"/><circle cx="596.3" cy="206.3"/><circle class="f" cx="601.9" cy="135.3"/><circle cx="590.3" cy="176.6"/><circle cx="540.4" cy="236.1"/><circle cx="583.2" cy="210.8"/><circle cx="560" cy="186"/><circle cx="575.2" cy="207.2"/><circle cx="561" cy="251.1"/><circle cx="617.7" cy="166.6"/><circle class="f" cx="495.8" cy="204.2"/><circle cx="526.9" cy="231.6"/><circle cx="535.4" cy="208.7"/><circle cx="533.4" cy="251"/><circle cx="521.5" cy="243"/><circle cx="565" cy="166"/><circle cx="555.7" cy="248.6"/><circle cx="547" cy="258.8"/><circle cx="573.1" cy="227.1"/><circle cx="501.5" cy="226.1"/><circle cx="557.8" cy="214.9"/><circle cx="552.1" cy="253.5"/><circle cx="577.8" cy="229.7"/><circle cx="525.4" cy="218.9"/><circle cx="553.2" cy="247.2"/><circle cx="537" cy="237.4"/><circle cx="489.7" cy="197.7"/><circle cx="530.5" cy="240.6"/><circle cx="567.5" cy="250.6"/><circle cx="536.8" cy="252.1"/><circle cx="544.4" cy="253.4"/><circle cx="538.8" cy="239"/><circle cx="502.5" cy="235.2"/><circle cx="525.6" cy="215.9"/><circle class="f" cx="520.1" cy="191.8"/><circle cx="566.1" cy="244.8"/><circle cx="524.1" cy="201.6"/><circle cx="545.3" cy="250.4"/><circle cx="547" cy="258.5"/><circle cx="523.7" cy="241.2"/><circle cx="504.9" cy="230.8"/><circle cx="568.8" cy="212.5"/><circle cx="550.4" cy="247.8"/><circle cx="548.2" cy="257.8"/><circle cx="536.5" cy="236.2"/><circle cx="561.9" cy="147.8"/><circle cx="535.3" cy="244.3"/><circle cx="568.7" cy="248.1"/><circle cx="584.4" cy="232.3"/><circle cx="538.3" cy="249.5"/><circle cx="569.8" cy="229.3"/><circle cx="552.8" cy="239.6"/><circle cx="492.3" cy="193.5"/><circle cx="553.7" cy="253"/><circle cx="565.1" cy="250.3"/><circle cx="559.3" cy="243.3"/><circle cx="584.4" cy="217.2"/><circle cx="525.3" cy="198.4"/><circle cx="532.4" cy="228.9"/><circle cx="568.3" cy="225.3"/><circle cx="523.1" cy="229"/><circle cx="545.8" cy="253.4"/><circle cx="519.1" cy="184.5"/><circle cx="552.1" cy="250.3"/><circle cx="523.7" cy="230.8"/><circle cx="547.4" cy="257.9"/><circle cx="591.7" cy="222.1"/><circle cx="555.5" cy="247.4"/><circle cx="528.7" cy="244"/><circle class="f" cx="515.9" cy="156.5"/><circle cx="610" cy="115.4"/><circle cx="572.1" cy="214.5"/><circle cx="563.6" cy="217.2"/><circle cx="535" cy="186.4"/><circle cx="508.3" cy="188.3"/><circle cx="494.1" cy="243.7"/><circle cx="544.9" cy="252.7"/><circle cx="532.1" cy="208.5"/><circle cx="554.9" cy="254.1"/><circle cx="566" cy="234.7"/><circle cx="443.9" cy="218.3"/><circle cx="533.6" cy="194.4"/><circle class="f" cx="592.9" cy="152.4"/><circle cx="558.8" cy="238.3"/><circle cx="491.2" cy="224.2"/><circle cx="513.2" cy="224.4"/><circle cx="552.3" cy="249.7"/><circle cx="516.3" cy="213.2"/><circle cx="578.7" cy="234.4"/><circle cx="583.3" cy="224.5"/><circle cx="534.4" cy="246.8"/><circle cx="598.6" cy="193.7"/><circle cx="556" cy="176"/><circle cx="523.4" cy="207.6"/><circle cx="574.7" cy="219.2"/><circle cx="528" cy="246.9"/><circle cx="586.6" cy="157.8"/><circle cx="583.8" cy="152.4"/><circle cx="541.3" cy="249.9"/><circle cx="567" cy="236.3"/><circle cx="543.1" cy="230.6"/><circle cx="560" cy="225.7"/><circle cx="541.1" cy="252.9"/><circle cx="573.1" cy="218.9"/><circle cx="542.5" cy="252.8"/><circle cx="577.7" cy="234.5"/><circle cx="549.3" cy="256.6"/><circle cx="523.4" cy="242.4"/><circle cx="560.3" cy="245.5"/><circle cx="542.7" cy="242.5"/><circle cx="566.1" cy="237.6"/><circle cx="560.8" cy="241.7"/><circle cx="514.5" cy="210.6"/><circle cx="544.7" cy="249.9"/><circle cx="554.7" cy="173.9"/><circle cx="554.2" cy="255.5"/><circle cx="552.5" cy="238.6"/><circle cx="600" cy="216.2"/><circle cx="572.3" cy="238.2"/><circle cx="520.7" cy="194.8"/><circle cx="536.5" cy="243"/><circle cx="577.2" cy="237"/><circle cx="567.6" cy="199.2"/><circle cx="512" cy="207.6"/><circle cx="591.8" cy="213.6"/><circle cx="573.4" cy="238.3"/><circle cx="541.2" cy="250.7"/><circle cx="543.8" cy="257.7"/><circle cx="553.3" cy="243.5"/><circle cx="576.9" cy="228.7"/><circle cx="558.7" cy="211.8"/><circle cx="593.2" cy="185.8"/><circle cx="505.1" cy="200.3"/><circle cx="540.6" cy="250.3"/><circle cx="520.6" cy="177.1"/><circle cx="588.8" cy="216.4"/><circle cx="548.9" cy="257.7"/><circle cx="557" cy="217.4"/><circle cx="553.6" cy="255.5"/><circle cx="560.3" cy="253.7"/><circle cx="562.2" cy="233.6"/><circle cx="555" cy="253"/><circle cx="567.4" cy="234.7"/><circle cx="575.4" cy="231"/><circle cx="561.7" cy="213.5"/><circle cx="538.3" cy="242.6"/><circle cx="548.2" cy="256.1"/><circle cx="567.5" cy="248.6"/><circle cx="540.6" cy="241.7"/><circle cx="544.3" cy="251"/><circle cx="559.9" cy="240.4"/><circle cx="558.8" cy="234.4"/><circle class="f" cx="588.1" cy="148.6"/><circle cx="563.6" cy="236.1"/><circle cx="597" cy="194.1"/><circle cx="532" cy="247.4"/><circle cx="564.9" cy="241.7"/><circle cx="540.9" cy="246.1"/><circle cx="555.7" cy="246.3"/><circle cx="530.8" cy="149.1"/><circle cx="515.2" cy="225.1"/><circle cx="546.7" cy="256.7"/><circle cx="530" cy="219.9"/><circle cx="543.4" cy="254.9"/><circle cx="527.9" cy="229.2"/><circle cx="533.4" cy="250.6"/><circle cx="466.4" cy="223.6"/><circle cx="551.4" cy="244.4"/><circle cx="536" cy="252.1"/><circle cx="554.3" cy="242"/><circle cx="481.2" cy="229.3"/><circle cx="566.3" cy="224.9"/><circle cx="522.2" cy="212.3"/><circle cx="576.7" cy="239.1"/><circle cx="544.5" cy="250.7"/><circle cx="556.1" cy="245.2"/><circle cx="544.4" cy="256.4"/><circle cx="560.7" cy="230.2"/><circle cx="496.4" cy="238.6"/><circle cx="549.3" cy="252.1"/><circle cx="556.1" cy="247.2"/><circle cx="527.4" cy="217.4"/><circle cx="534.1" cy="240.9"/><circle cx="548.6" cy="257.6"/><circle cx="553.1" cy="245.4"/><circle cx="537.1" cy="244.1"/><circle cx="553.5" cy="256.7"/><circle cx="575.2" cy="226.6"/><circle cx="554.9" cy="212.6"/><circle cx="560.3" cy="234.8"/><circle cx="519.7" cy="237.2"/><circle cx="587.5" cy="231"/><circle cx="544.9" cy="243.3"/><circle cx="566.4" cy="244.2"/><circle cx="517.6" cy="191.4"/><circle class="f" cx="481.5" cy="200.9"/><circle cx="574.3" cy="207.2"/><circle cx="586" cy="223.9"/><circle cx="573" cy="201.5"/><circle cx="576.4" cy="222"/><circle cx="560.8" cy="218.6"/><circle class="f" cx="513.8" cy="170.1"/><circle cx="620.8" cy="226.7"/><circle cx="561" cy="239.8"/><circle cx="535.8" cy="199.2"/><circle cx="544.3" cy="255.2"/><circle cx="498.7" cy="225.6"/><circle cx="567.4" cy="221.4"/><circle cx="562.8" cy="221.7"/><circle cx="539.8" cy="221"/><circle cx="542" cy="228.5"/><circle cx="493.8" cy="224.8"/><circle cx="525.2" cy="198.8"/><circle cx="541.3" cy="244.9"/><circle cx="538.5" cy="257"/><circle cx="546.8" cy="257.3"/><circle cx="541.5" cy="251"/><circle cx="528.4" cy="251.6"/><circle cx="565.5" cy="221.5"/><circle cx="539.4" cy="236.8"/><circle cx="533.9" cy="242.6"/><circle cx="553.6" cy="224"/><circle cx="556.1" cy="255.4"/><circle cx="540.6" cy="216.4"/><circle cx="550" cy="255.2"/><circle cx="538.2" cy="199.6"/><circle cx="509.8" cy="174.8"/><circle cx="559.2" cy="227.9"/><circle cx="458.6" cy="224.1"/><circle class="f" cx="605.6" cy="176.6"/><circle cx="561.7" cy="244.6"/><circle cx="510" cy="199.4"/><circle cx="555.3" cy="239.3"/><circle cx="548.1" cy="257.6"/><circle cx="537.9" cy="243.3"/><circle class="f" cx="633.6" cy="199.8"/><circle cx="565.9" cy="234.6"/><circle cx="542.7" cy="247.9"/><circle cx="546.6" cy="254.1"/><circle cx="529.3" cy="218.3"/><circle cx="603.2" cy="226.4"/><circle cx="599.6" cy="225.1"/><circle cx="501.4" cy="183.9"/><circle cx="546.7" cy="258.9"/><circle cx="565.5" cy="248.5"/><circle cx="515.3" cy="246.4"/><circle cx="541.1" cy="246"/><circle cx="549.6" cy="256.2"/><circle cx="550.6" cy="257.2"/><circle cx="567.1" cy="226.4"/><circle cx="543.5" cy="252.6"/><circle cx="533.8" cy="228.1"/><circle cx="547.9" cy="258.2"/><circle cx="562.2" cy="193.4"/><circle cx="598.2" cy="205.3"/><circle cx="535.2" cy="253.4"/><circle class="f" cx="627.7" cy="87.6"/><circle cx="534" cy="230.6"/><circle cx="526" cy="247.2"/><circle cx="537.8" cy="238.9"/><circle cx="543.6" cy="243.4"/><circle cx="554.2" cy="242.2"/><circle cx="573.1" cy="243.6"/><circle cx="536.8" cy="240.4"/><circle cx="533.6" cy="243.9"/><circle cx="560.8" cy="243.4"/><circle cx="515.6" cy="235.9"/><circle cx="558.6" cy="244.4"/><circle cx="557.1" cy="243.5"/><circle cx="544.3" cy="255.6"/><circle cx="480.5" cy="216.1"/><circle cx="551.4" cy="235.6"/><circle cx="549" cy="259"/><circle cx="528.5" cy="225.3"/><circle cx="557.8" cy="247.1"/><circle cx="566.8" cy="222.9"/><circle cx="536.3" cy="238.2"/><circle cx="533.6" cy="237.8"/><circle cx="528.5" cy="231.7"/><circle cx="588.8" cy="245.3"/><circle cx="530.8" cy="226.1"/><circle cx="599" cy="242.9"/><circle cx="547.8" cy="258.5"/><circle cx="540" cy="223"/><circle cx="563.5" cy="249.1"/><circle cx="547.5" cy="258.3"/><circle cx="559.9" cy="249.2"/><circle cx="528" cy="252.2"/><circle cx="519.2" cy="238.7"/><circle cx="550" cy="256.4"/><circle cx="556.6" cy="244.2"/><circle cx="589.6" cy="215.3"/><circle cx="554.4" cy="255"/><circle cx="543.3" cy="251.1"/><circle cx="523.1" cy="231.4"/><circle cx="548.8" cy="258.1"/><circle cx="621.8" cy="212.4"/><circle cx="513.8" cy="208.3"/><circle cx="526.4" cy="222.7"/><circle cx="558.1" cy="223.3"/><circle cx="483" cy="221.1"/><circle cx="569.7" cy="249.2"/><circle cx="545.3" cy="251"/><circle cx="533.3" cy="194.8"/><circle cx="536.8" cy="252.5"/><circle cx="565.6" cy="202.8"/><circle cx="562.4" cy="246.9"/><circle cx="565" cy="244.8"/><circle cx="563.4" cy="247"/><circle cx="533.6" cy="229.9"/><circle cx="569.5" cy="215.4"/><circle cx="538.1" cy="210.6"/><circle cx="543" cy="257.1"/><circle cx="520.1" cy="244.1"/><circle cx="578.6" cy="217.5"/><circle cx="525.9" cy="182.5"/><circle cx="576.7" cy="224.8"/><circle class="f" cx="458.6" cy="198.4"/><circle cx="533.5" cy="230.1"/><circle cx="521.2" cy="236.3"/><circle cx="526.1" cy="228"/><circle cx="546.6" cy="256.3"/><circle cx="552" cy="246.6"/><circle cx="558" cy="203.1"/><circle cx="551.3" cy="248.4"/><circle cx="558.9" cy="232.4"/><circle cx="491.5" cy="235.9"/><circle cx="538.9" cy="240.5"/><circle cx="539.9" cy="240.9"/><circle cx="542.5" cy="253.9"/><circle cx="515.5" cy="223.9"/><circle cx="488.8" cy="192.5"/><circle cx="601.1" cy="205.5"/><circle cx="504.4" cy="199.9"/><circle cx="463.6" cy="213.3"/><circle cx="552.5" cy="234.5"/><circle cx="563.7" cy="196.9"/><circle cx="543.7" cy="254.2"/><circle cx="520.5" cy="249.5"/><circle cx="549.4" cy="256.7"/><circle cx="517.1" cy="246.2"/><circle cx="555.1" cy="240.9"/><circle cx="517.8" cy="236.1"/><circle cx="541.4" cy="195.9"/><circle cx="547.2" cy="257.8"/><circle cx="542.5" cy="215.8"/><circle cx="555.9" cy="248.1"/><circle cx="578.6" cy="207.4"/><circle cx="544.7" cy="250.6"/><circle cx="509.8" cy="224.9"/><circle cx="560.1" cy="237.1"/><circle cx="466.8" cy="222"/><circle cx="537.5" cy="232.9"/><circle cx="526.6" cy="226.1"/><circle cx="565.9" cy="233.5"/><circle cx="579.2" cy="226.6"/><circle cx="580.5" cy="174.9"/><circle cx="559.7" cy="255.1"/><circle cx="533.6" cy="234.9"/><circle cx="540.5" cy="233.8"/><circle cx="565.7" cy="226.3"/><circle cx="542.3" cy="231.8"/><circle cx="525" cy="237.6"/><circle cx="541.5" cy="251.1"/><circle cx="496.4" cy="220.7"/><circle cx="536.5" cy="235.5"/><circle cx="500.4" cy="213.3"/><circle cx="569" cy="223.9"/><circle cx="560" cy="253.1"/><circle cx="550.2" cy="250.8"/><circle cx="567.3" cy="238.6"/><circle cx="541" cy="249.4"/><circle cx="620.6" cy="231.8"/><circle cx="545.3" cy="256.1"/><circle cx="540.1" cy="250.8"/><circle cx="550.9" cy="255.8"/><circle cx="519.8" cy="247.5"/><circle cx="542.2" cy="231"/><circle cx="557.1" cy="238.5"/><circle cx="541.6" cy="244.7"/><circle cx="561.2" cy="250.4"/><circle cx="576.5" cy="224.7"/><circle cx="526" cy="236.4"/><circle cx="529.7" cy="237.9"/><circle cx="563.3" cy="198.8"/><circle cx="556.7" cy="244.7"/><circle cx="537.2" cy="211.9"/><circle cx="518.1" cy="198.2"/><circle cx="584.8" cy="198.1"/><circle cx="509.8" cy="228.4"/><circle cx="602.3" cy="164.4"/><circle cx="543.9" cy="247.4"/><circle class="f" cx="498.1" cy="183.2"/><circle cx="489.2" cy="217.7"/><circle cx="566" cy="180"/><circle class="f" cx="628.2" cy="175.5"/><circle cx="507.1" cy="208.6"/><circle cx="516" cy="225.2"/><circle cx="555" cy="190"/><circle cx="574" cy="188.1"/><circle cx="520.8" cy="234.5"/><circle cx="576" cy="220"/><circle cx="538.3" cy="239.9"/><circle cx="556.3" cy="230.5"/><circle cx="550.9" cy="257.9"/><circle cx="551.1" cy="251.4"/><circle cx="536.2" cy="251.7"/><circle cx="552.1" cy="239.1"/><circle cx="555.1" cy="247.7"/><circle cx="593.6" cy="82.3"/><circle class="f" cx="594.3" cy="192.8"/><circle cx="608.5" cy="166.2"/><circle cx="567.9" cy="228"/><circle cx="539.6" cy="255.8"/><circle cx="576" cy="243.3"/><circle class="f" cx="503.5" cy="172"/><circle cx="525.9" cy="203.5"/><circle cx="521.4" cy="200.5"/><circle cx="537.1" cy="235.8"/><circle class="f" cx="506.5" cy="171.3"/><circle cx="565.3" cy="234.1"/><circle class="f" cx="587.7" cy="196.1"/><circle cx="568.8" cy="216.2"/><circle cx="502.1" cy="192.3"/><circle cx="528.3" cy="240.2"/><circle cx="511.7" cy="225.4"/><circle cx="543.6" cy="251"/><circle cx="543.2" cy="255.5"/><circle cx="559.9" cy="231.4"/><circle cx="547.9" cy="258.4"/><circle class="f" cx="503" cy="209.8"/><circle cx="576.6" cy="210.4"/><circle cx="514.7" cy="236.7"/><circle cx="567.2" cy="238.2"/><circle cx="565.5" cy="221.2"/><circle cx="589.2" cy="212.4"/><circle cx="536.8" cy="242"/><circle cx="530" cy="239.3"/><circle cx="546.6" cy="255.6"/><circle cx="597.7" cy="190.1"/><circle cx="562.5" cy="236.6"/><circle cx="529.2" cy="221.9"/><circle cx="550.5" cy="244.3"/><circle cx="620" cy="178"/><circle cx="516.1" cy="243.9"/><circle cx="513.9" cy="215.3"/><circle cx="645" cy="214.1"/><circle cx="541.1" cy="249.7"/><circle cx="545" cy="251.9"/><circle cx="562.9" cy="191.7"/><circle cx="529.6" cy="238.8"/><circle cx="598.4" cy="189.4"/><circle cx="544.1" cy="247.7"/><circle cx="594" cy="227.5"/><circle cx="523.9" cy="195.9"/><circle cx="560.3" cy="228.3"/><circle cx="561.2" cy="235.6"/><circle cx="537.9" cy="242.9"/><circle cx="513" cy="244.4"/><circle cx="536.1" cy="253.5"/><circle cx="536.9" cy="238"/><circle cx="553.1" cy="253.7"/><circle cx="533.3" cy="220.6"/><circle cx="528.2" cy="246.2"/><circle cx="512.2" cy="207.9"/><circle cx="552" cy="255"/><circle cx="531.4" cy="247.1"/><circle cx="508.4" cy="214.4"/><circle cx="536" cy="212.8"/><circle cx="592.4" cy="185.8"/><circle cx="586" cy="242.1"/><circle cx="572.4" cy="244.7"/><circle cx="545.2" cy="250.5"/><circle cx="602" cy="241"/><circle cx="528.1" cy="251.5"/><circle cx="484" cy="196"/><circle cx="582.1" cy="220"/><circle cx="562.2" cy="234.4"/><circle cx="537.4" cy="253.7"/><circle cx="586.1" cy="172.3"/><circle cx="559.3" cy="246.6"/><circle cx="538.1" cy="248.1"/><circle cx="512.5" cy="227.5"/><circle cx="553.8" cy="233.5"/><circle cx="511.4" cy="215.8"/><circle cx="610.3" cy="229.8"/><circle cx="542.6" cy="252.3"/><circle cx="617.2" cy="233.7"/><circle cx="529.9" cy="233.4"/><circle cx="504.7" cy="216.7"/><circle cx="497.8" cy="210.6"/><circle cx="524.6" cy="226.8"/><circle cx="573.9" cy="207.9"/><circle cx="569.7" cy="237"/><circle cx="533.9" cy="234.9"/><circle cx="553" cy="232.6"/><circle cx="515.6" cy="221.4"/><circle cx="557.9" cy="238.2"/><circle cx="490.9" cy="220.5"/><circle cx="539.6" cy="250.4"/><circle cx="540.9" cy="235.5"/><circle cx="535.7" cy="241.8"/><circle cx="541.6" cy="233.9"/><circle cx="527.4" cy="215.9"/><circle cx="547.9" cy="257.9"/><circle cx="521.5" cy="190"/><circle cx="561.1" cy="202.8"/><circle cx="541.2" cy="249.5"/><circle cx="550.2" cy="255.9"/><circle cx="540.1" cy="252.8"/><circle cx="552.2" cy="237.2"/><circle cx="529.8" cy="202.8"/><circle cx="540.9" cy="253.6"/><circle cx="548.7" cy="256.6"/><circle cx="541.4" cy="192.1"/><circle cx="526.6" cy="213"/><circle cx="552.3" cy="252.6"/><circle cx="526.5" cy="250.1"/><circle cx="526.2" cy="167.8"/><circle cx="616.7" cy="235.9"/><circle cx="516.1" cy="163.1"/><circle cx="526.1" cy="222.7"/><circle cx="551.8" cy="245.9"/><circle cx="556.3" cy="219.9"/><circle cx="538.3" cy="238.7"/><circle cx="538.1" cy="236.2"/><circle cx="506.6" cy="238.6"/><circle cx="552.3" cy="246.5"/><circle cx="547.1" cy="259"/><circle cx="588.3" cy="238.8"/><circle cx="536.1" cy="239.6"/><circle cx="576.3" cy="237.8"/><circle cx="530.8" cy="239.1"/><circle cx="556.2" cy="247"/><circle cx="561.5" cy="239.4"/><circle cx="578.3" cy="234.2"/><circle cx="557" cy="230.6"/><circle cx="515.3" cy="171.8"/><circle cx="565.8" cy="223.4"/><circle cx="536.2" cy="230.5"/><circle cx="552.4" cy="255.2"/><circle cx="563.4" cy="240.4"/><circle cx="481.3" cy="236.8"/><circle cx="527.1" cy="235"/><circle cx="545" cy="255.2"/><circle cx="554.3" cy="253.3"/><circle cx="554.5" cy="245"/><circle cx="536.4" cy="237.6"/><circle cx="531.7" cy="225.8"/><circle cx="554.5" cy="246.3"/><circle cx="515.3" cy="216.2"/><circle cx="574" cy="196.1"/><circle cx="567.8" cy="232"/><circle cx="552" cy="249.1"/><circle cx="536.3" cy="237.5"/><circle cx="553.9" cy="233.3"/><circle class="f" cx="505.1" cy="195.1"/><circle cx="529.5" cy="233.1"/><circle cx="528.1" cy="204.6"/><circle cx="560.2" cy="246.6"/><circle cx="519" cy="203.1"/><circle cx="565.2" cy="251.2"/><circle cx="559.4" cy="224.2"/><circle cx="519.6" cy="219.8"/><circle cx="531.8" cy="209.3"/><circle cx="570.4" cy="224.7"/><circle cx="549.5" cy="249.6"/><circle cx="554.4" cy="242.2"/><circle cx="552.4" cy="255.9"/><circle cx="555.7" cy="251.8"/><circle cx="517.3" cy="203.1"/><circle cx="552.2" cy="240.2"/><circle cx="505.9" cy="212.6"/><circle cx="593.8" cy="189.7"/><circle cx="541.6" cy="249.4"/><circle cx="562.6" cy="230.6"/><circle cx="537" cy="231.6"/><circle cx="552.1" cy="255.6"/><circle cx="533.1" cy="218.6"/><circle cx="511.9" cy="213.6"/><circle cx="578.4" cy="234.7"/><circle cx="562.8" cy="236"/><circle cx="542.6" cy="245.5"/><circle cx="585.8" cy="167.6"/><circle cx="535.2" cy="228.5"/><circle cx="557.1" cy="238.3"/><circle cx="522.2" cy="194.9"/><circle cx="537.7" cy="237.5"/><circle cx="595.4" cy="198.9"/><circle cx="583.5" cy="211.1"/><circle class="f" cx="510.7" cy="183.6"/><circle cx="550.7" cy="254.4"/><circle cx="548.6" cy="257.7"/><circle cx="542.7" cy="251.4"/><circle cx="537.6" cy="250.7"/><circle cx="554.1" cy="245.2"/><circle cx="594.6" cy="177.6"/><circle cx="490.2" cy="179.4"/><circle cx="530" cy="230.1"/><circle cx="550.4" cy="257.9"/><circle cx="541.9" cy="251.7"/><circle cx="515.5" cy="242.6"/><circle cx="551.3" cy="251.5"/><circle cx="549.5" cy="257.2"/><circle cx="554.7" cy="246.7"/><circle cx="530.9" cy="238.5"/><circle cx="535.1" cy="241.6"/><circle cx="568" cy="191.2"/><circle cx="530.8" cy="237.6"/><circle cx="515" cy="176.5"/><circle cx="561.5" cy="237.8"/><circle cx="570.4" cy="194.4"/><circle cx="540.9" cy="251.9"/><circle cx="575.5" cy="208.3"/><circle class="f" cx="635.6" cy="163.3"/><circle cx="564" cy="201.7"/><circle cx="546.4" cy="256.4"/><circle cx="525.8" cy="231.8"/><circle cx="551.2" cy="254.5"/><circle cx="556.8" cy="256.3"/><circle cx="521.8" cy="243"/><circle cx="588.1" cy="199.5"/><circle cx="528.2" cy="243.1"/><circle cx="561.8" cy="215.8"/><circle cx="563.1" cy="248.9"/><circle cx="538" cy="239.2"/><circle cx="542.6" cy="243.7"/><circle cx="544.8" cy="243.8"/><circle cx="543.5" cy="253.2"/><circle cx="606.8" cy="197.4"/><circle class="f" cx="573.3" cy="187.4"/><circle cx="554.1" cy="234"/><circle cx="521.2" cy="210.1"/><circle cx="551.8" cy="254.2"/><circle cx="548.9" cy="251.8"/><circle cx="503.1" cy="212.5"/><circle cx="503" cy="179.4"/><circle cx="563.7" cy="242.1"/><circle cx="515.1" cy="230.6"/><circle cx="563.2" cy="226.9"/><circle cx="543.2" cy="246"/><circle cx="542.3" cy="252.3"/><circle cx="557" cy="244.3"/><circle cx="536.4" cy="252.9"/><circle cx="538.2" cy="230.7"/><circle cx="596.6" cy="210.4"/><circle cx="544.1" cy="255.6"/><circle cx="574.6" cy="203.5"/><circle cx="561" cy="210.7"/><circle cx="565.9" cy="216"/><circle cx="568.4" cy="240.8"/><circle cx="488.4" cy="176.1"/><circle cx="549.6" cy="256.9"/><circle cx="546.5" cy="257.2"/><circle cx="524.6" cy="234.6"/><circle cx="557.9" cy="188.4"/><circle cx="549.1" cy="257.9"/><circle cx="537.9" cy="254.9"/><circle cx="549.8" cy="255.8"/><circle cx="570.8" cy="229.3"/><circle cx="552" cy="249.2"/><circle cx="539.5" cy="244"/><circle cx="559" cy="244.1"/><circle cx="540.3" cy="226.3"/><circle cx="530.4" cy="218.2"/><circle cx="569.1" cy="186.6"/><circle cx="531" cy="231.6"/><circle cx="517.5" cy="189.2"/><circle cx="640" cy="182"/><circle cx="529.6" cy="238.9"/><circle cx="544.5" cy="256.8"/><circle cx="532.7" cy="208"/><circle cx="508.7" cy="203.1"/><circle cx="550.5" cy="250.7"/><circle cx="502.9" cy="201.4"/><circle cx="529.7" cy="246.3"/><circle cx="553.6" cy="228.9"/><circle cx="541.4" cy="247.8"/><circle cx="547.3" cy="258.3"/><circle cx="476" cy="215.8"/><circle cx="548.9" cy="256.4"/><circle cx="536.3" cy="255.6"/><circle cx="517.4" cy="236.5"/><circle cx="535.2" cy="240.4"/><circle cx="546.3" cy="256.1"/><circle cx="550" cy="255.9"/><circle cx="562" cy="172"/><circle cx="516.7" cy="215.4"/><circle cx="559.8" cy="223.9"/><circle cx="567" cy="233.4"/><circle cx="555" cy="254.3"/><circle cx="566.6" cy="232"/><circle cx="521.1" cy="229.2"/><circle cx="531.6" cy="235.2"/><circle cx="558" cy="232.6"/><circle cx="545.8" cy="254.2"/><circle cx="530.7" cy="247.2"/><circle cx="544" cy="239.2"/><circle cx="557.8" cy="242.3"/><circle class="f" cx="475.2" cy="188.8"/><circle cx="492.3" cy="221.5"/><circle cx="545.6" cy="257.9"/><circle cx="487.1" cy="163.1"/><circle cx="597.4" cy="232.5"/><circle cx="594" cy="156.1"/><circle cx="538.3" cy="254.1"/><circle cx="541.4" cy="238.4"/><circle cx="542.3" cy="251"/><circle cx="558.5" cy="223.3"/><circle cx="528.4" cy="237.4"/><circle cx="576.4" cy="208"/><circle cx="554.6" cy="253.9"/><circle cx="536.2" cy="242.7"/><circle cx="558" cy="231.5"/><circle cx="477.8" cy="232.4"/><circle cx="531.2" cy="237"/><circle cx="575.3" cy="190"/><circle cx="548.4" cy="258.4"/><circle class="f" cx="577" cy="199"/><circle cx="555.3" cy="243.5"/><circle cx="573.2" cy="189.8"/><circle cx="535" cy="238.2"/><circle cx="542.8" cy="255.4"/><circle cx="531.6" cy="218"/><circle cx="550.7" cy="256"/><circle cx="542.3" cy="241.9"/><circle cx="544.8" cy="255.8"/><circle cx="501.7" cy="221.4"/><circle cx="519.2" cy="144.9"/><circle cx="526.6" cy="242.3"/><circle cx="559.2" cy="232.4"/><circle cx="524.3" cy="228.7"/><circle cx="518.7" cy="243.7"/><circle cx="557.2" cy="237.9"/><circle cx="547" cy="255.6"/><circle cx="520.4" cy="239.3"/><circle cx="532.1" cy="249.9"/><circle cx="499.6" cy="184.9"/><circle cx="523.5" cy="194"/><circle cx="526.9" cy="180.6"/><circle cx="575" cy="220.7"/><circle cx="524.7" cy="166.2"/><circle cx="537.4" cy="171.3"/><circle cx="541.5" cy="231.4"/><circle cx="541.2" cy="226.2"/><circle cx="543.2" cy="255.5"/><circle cx="516.6" cy="213.6"/><circle cx="545.1" cy="254.2"/><circle class="f" cx="518" cy="123.8"/><circle cx="529" cy="219"/><circle cx="645" cy="200"/><circle cx="505.6" cy="216.3"/><circle cx="532" cy="228.9"/><circle cx="555.9" cy="233.2"/><circle cx="630" cy="190"/><circle cx="534.8" cy="216.9"/><circle cx="560.3" cy="241.5"/><circle cx="561.1" cy="213.3"/><circle cx="577.7" cy="240.5"/><circle cx="625" cy="195"/><circle cx="580.7" cy="191.5"/><circle cx="534.9" cy="236"/><circle cx="529" cy="213.6"/><circle cx="494.2" cy="185.3"/><circle cx="545.8" cy="257.1"/><circle cx="533.3" cy="237.5"/><circle cx="559.4" cy="238.4"/><circle cx="536.7" cy="239.4"/><circle cx="574.2" cy="220.6"/><circle cx="533.1" cy="237.9"/><circle cx="546" cy="256.6"/><circle cx="561.6" cy="240.8"/><circle cx="494.9" cy="171.7"/><circle cx="538.4" cy="237.6"/><circle cx="548.3" cy="257.3"/><circle cx="535" cy="213.9"/><circle cx="588.2" cy="218.7"/><circle cx="586.1" cy="205.2"/><circle cx="543.7" cy="253.3"/><circle cx="584.6" cy="243"/><circle cx="553.2" cy="254.3"/><circle cx="520.3" cy="198.6"/><circle class="f" cx="506.5" cy="156.3"/><circle cx="525.8" cy="178"/><circle cx="566.3" cy="244.2"/><circle cx="536.8" cy="225.9"/><circle class="f" cx="578.5" cy="181.9"/><circle cx="540.7" cy="248.8"/><circle cx="534.7" cy="238.4"/><circle cx="568.3" cy="228.3"/><circle cx="582.3" cy="234.6"/><circle cx="531" cy="231.5"/><circle cx="520.1" cy="237.6"/><circle cx="586.5" cy="200.8"/><circle cx="600.2" cy="227"/><circle cx="567.3" cy="212.7"/><circle class="f" cx="523.8" cy="173.8"/><circle cx="549.3" cy="256.3"/><circle cx="532.6" cy="198.9"/><circle class="f" cx="614.6" cy="114.7"/><circle cx="546.9" cy="257"/><circle cx="576.8" cy="219.6"/><circle cx="577" cy="248.3"/><circle cx="548.9" cy="256.7"/><circle cx="542.2" cy="248.6"/><circle class="f" cx="607.8" cy="121.9"/><circle cx="572.9" cy="244.9"/><circle cx="572.3" cy="205.5"/><circle cx="585.4" cy="219.9"/><circle cx="503.1" cy="237"/><circle cx="566.4" cy="247"/><circle cx="566.3" cy="221.1"/><circle cx="573.4" cy="203.6"/><circle cx="552.3" cy="242.4"/><circle cx="488" cy="203"/><circle cx="556.2" cy="211.3"/><circle cx="553.3" cy="243.2"/><circle cx="548" cy="257.2"/><circle cx="561.2" cy="246.3"/><circle cx="480.5" cy="225.9"/><circle cx="564.4" cy="236.3"/><circle class="f" cx="587.7" cy="187.4"/><circle cx="562.4" cy="249.5"/><circle cx="514.9" cy="233"/><circle cx="542.3" cy="253.6"/><circle cx="558.4" cy="241.5"/><circle cx="652.4" cy="216.8"/><circle cx="538" cy="234.1"/><circle cx="530.9" cy="234.1"/><circle cx="555.1" cy="246.4"/><circle cx="597.4" cy="242.3"/><circle cx="483.8" cy="198.5"/><circle cx="558.9" cy="226.2"/><circle cx="560.9" cy="235.2"/><circle cx="559.2" cy="251.7"/><circle class="f" cx="507.2" cy="191.1"/><circle cx="545" cy="201.2"/><circle cx="510.3" cy="224.5"/><circle cx="546.7" cy="257"/><circle cx="558.7" cy="221.7"/><circle cx="517.6" cy="233.3"/><circle cx="531" cy="240"/><circle cx="523.2" cy="238"/><circle cx="499.2" cy="219.5"/><circle cx="544.5" cy="257.5"/><circle cx="559.1" cy="253.1"/><circle cx="523.2" cy="240.9"/><circle cx="526.2" cy="233.8"/><circle cx="588.3" cy="225.4"/><circle cx="537.5" cy="241.9"/><circle cx="549.2" cy="258.5"/><circle cx="569.2" cy="207.4"/><circle cx="558.4" cy="222.7"/><circle cx="536.9" cy="226.6"/><circle cx="565.8" cy="231"/><circle cx="557.1" cy="235"/><circle cx="554.8" cy="212.7"/><circle cx="544.7" cy="255.7"/><circle cx="569.5" cy="241.9"/><circle cx="540.6" cy="251.6"/><circle class="f" cx="511.7" cy="134.6"/><circle cx="497.7" cy="180.6"/><circle cx="562" cy="223.2"/><circle cx="537.6" cy="248"/><circle cx="525.8" cy="228.9"/><circle cx="544.7" cy="195.8"/><circle cx="547.2" cy="258.1"/><circle cx="554.1" cy="244.7"/><circle cx="596.6" cy="190.1"/><circle cx="552.5" cy="248.1"/><circle cx="522.4" cy="223.7"/><circle cx="566.6" cy="232.5"/><circle cx="552.6" cy="254.6"/><circle cx="505.6" cy="190.2"/><circle cx="603.7" cy="235.6"/><circle cx="544.5" cy="249"/><circle cx="546.5" cy="256.3"/><circle cx="514.1" cy="222.5"/><circle cx="608.7" cy="221.9"/><circle cx="551.6" cy="234"/><circle cx="614.1" cy="193.4"/><circle cx="565.8" cy="243.9"/><circle cx="604.1" cy="206.3"/><circle cx="543.8" cy="202.3"/><circle cx="544.9" cy="251.2"/><circle cx="509.8" cy="240.1"/><circle cx="503" cy="235.4"/><circle cx="537.6" cy="234.1"/><circle cx="563.2" cy="241.9"/><circle cx="584.9" cy="221"/><circle cx="542.1" cy="238"/></g>
</g>
<line x1="524.6" y1="16.5" x2="524.6" y2="272.2" stroke="#555" stroke-width="0.9" stroke-dasharray="4.2,2.4"/>
<line x1="547.6" y1="16.5" x2="547.6" y2="272.2" stroke="#555" stroke-width="0.9" stroke-dasharray="4.2,2.4"/>
<line x1="570.6" y1="16.5" x2="570.6" y2="272.2" stroke="#555" stroke-width="0.9" stroke-dasharray="4.2,2.4"/>
<line x1="419.6" y1="210.4" x2="675.8" y2="210.4" stroke="#555" stroke-width="0.9" stroke-dasharray="4.2,2.4"/>
<circle cx="580.7" cy="150.6" r="2.0" fill="#f02a10"/>
<circle cx="572.4" cy="159.6" r="2.0" fill="#f02a10"/>
<circle cx="586.6" cy="163.7" r="2.0" fill="#f02a10"/>
<circle cx="575" cy="179" r="2.0" fill="#f02a10"/>
<circle cx="593.6" cy="190.6" r="2.0" fill="#f02a10"/>
<circle cx="606.3" cy="188.9" r="2.0" fill="#f02a10"/>
<circle cx="599.1" cy="192.8" r="2.0" fill="#f02a10"/>
<circle cx="581.6" cy="192.4" r="2.0" fill="#f02a10"/>
<circle cx="591.8" cy="206.6" r="2.0" fill="#f02a10"/>
<circle cx="598" cy="179.7" r="2.0" fill="#f02a10"/>
<line x1="583.5" y1="176.8" x2="579.9" y2="177.9" stroke="#111" stroke-width="0.85"/>
<path d="M577,178.8 L579.4,176.5 L580.3,179.4Z" fill="#111"/>
<line x1="598.4" y1="171.5" x2="596.5" y2="175" stroke="#111" stroke-width="0.85"/>
<path d="M595,177.6 L595.2,174.2 L597.8,175.7Z" fill="#111"/>
<line x1="596.2" y1="183.2" x2="594.9" y2="186.2" stroke="#111" stroke-width="0.85"/>
<path d="M593.8,189 L593.6,185.7 L596.3,186.8Z" fill="#111"/>
<line x1="611.8" y1="181.4" x2="607" y2="185.8" stroke="#111" stroke-width="0.85"/>
<path d="M604.8,187.8 L606,184.7 L608,186.9Z" fill="#111"/>
<line x1="613.2" y1="186.4" x2="610.4" y2="187.5" stroke="#111" stroke-width="0.85"/>
<path d="M607.6,188.6 L609.8,186.1 L610.9,188.9Z" fill="#111"/>
<line x1="609" y1="193.4" x2="604" y2="193.1" stroke="#111" stroke-width="0.85"/>
<path d="M601,193 L604.1,191.7 L603.9,194.6Z" fill="#111"/>
<line x1="565.8" y1="190" x2="576.6" y2="191.4" stroke="#111" stroke-width="0.85"/>
<path d="M579.6,191.8 L576.4,192.9 L576.8,189.9Z" fill="#111"/>
<line x1="608.8" y1="202.4" x2="589.1" y2="208.9" stroke="#111" stroke-width="0.85"/>
<path d="M586.2,209.8 L588.6,207.4 L589.5,210.3Z" fill="#111"/>
<line x1="610.2" y1="207.8" x2="596.8" y2="207" stroke="#111" stroke-width="0.85"/>
<path d="M593.8,206.8 L596.9,205.5 L596.7,208.5Z" fill="#111"/>
<text x="571.7" y="146.4" font-size="5.0" text-anchor="start" fill="#f03c24" font-weight="normal" >Acat2</text>
<text x="567.3" y="155.6" font-size="5.0" text-anchor="start" fill="#f03c24" font-weight="normal" >Pck1</text>
<text x="589.9" y="163" font-size="5.0" text-anchor="start" fill="#f03c24" font-weight="normal" >Bckdhb</text>
<text x="597.3" y="172.2" font-size="5.0" text-anchor="start" fill="#f03c24" font-weight="normal" >Ndufa4</text>
<text x="583.1" y="177.7" font-size="5.0" text-anchor="start" fill="#f03c24" font-weight="normal" >Pccb</text>
<text x="592" y="183.6" font-size="5.0" text-anchor="start" fill="#f03c24" font-weight="normal" >Pdk2</text>
<text x="611.1" y="182.1" font-size="5.0" text-anchor="start" fill="#f03c24" font-weight="normal" >Ndufb4</text>
<text x="612.8" y="187.3" font-size="5.0" text-anchor="start" fill="#f03c24" font-weight="normal" >Ndufa7</text>
<text x="608.5" y="194.1" font-size="5.0" text-anchor="start" fill="#f03c24" font-weight="normal" >Ndufb9</text>
<text x="550.3" y="192.8" font-size="5.0" text-anchor="start" fill="#f03c24" font-weight="normal" >Pnpla2</text>
<text x="608.3" y="203.7" font-size="5.0" text-anchor="start" fill="#f03c24" font-weight="normal" >Suclg2</text>
<text x="610" y="209" font-size="5.0" text-anchor="start" fill="#f03c24" font-weight="normal" >Ndufa5</text>
<rect x="419.6" y="16.5" width="256.2" height="255.7" fill="none" stroke="#7a7a7a" stroke-width="0.9"/>
<line x1="417.1" y1="272.2" x2="419.6" y2="272.2" stroke="#7a7a7a" stroke-width="0.8"/>
<text x="413.8" y="274.8" font-size="7.7" text-anchor="end" fill="#333" font-weight="normal" >0</text>
<line x1="417.1" y1="243.8" x2="419.6" y2="243.8" stroke="#7a7a7a" stroke-width="0.8"/>
<text x="413.8" y="246.4" font-size="7.7" text-anchor="end" fill="#333" font-weight="normal" >2</text>
<line x1="417.1" y1="215.4" x2="419.6" y2="215.4" stroke="#7a7a7a" stroke-width="0.8"/>
<text x="413.8" y="218" font-size="7.7" text-anchor="end" fill="#333" font-weight="normal" >4</text>
<line x1="417.1" y1="187" x2="419.6" y2="187" stroke="#7a7a7a" stroke-width="0.8"/>
<text x="413.8" y="189.6" font-size="7.7" text-anchor="end" fill="#333" font-weight="normal" >6</text>
<line x1="417.1" y1="158.6" x2="419.6" y2="158.6" stroke="#7a7a7a" stroke-width="0.8"/>
<text x="413.8" y="161.2" font-size="7.7" text-anchor="end" fill="#333" font-weight="normal" >8</text>
<line x1="417.1" y1="130.2" x2="419.6" y2="130.2" stroke="#7a7a7a" stroke-width="0.8"/>
<text x="413.8" y="132.8" font-size="7.7" text-anchor="end" fill="#333" font-weight="normal" >10</text>
<line x1="417.1" y1="101.8" x2="419.6" y2="101.8" stroke="#7a7a7a" stroke-width="0.8"/>
<text x="413.8" y="104.4" font-size="7.7" text-anchor="end" fill="#333" font-weight="normal" >12</text>
<line x1="417.1" y1="73.4" x2="419.6" y2="73.4" stroke="#7a7a7a" stroke-width="0.8"/>
<text x="413.8" y="76" font-size="7.7" text-anchor="end" fill="#333" font-weight="normal" >14</text>
<line x1="417.1" y1="45" x2="419.6" y2="45" stroke="#7a7a7a" stroke-width="0.8"/>
<text x="413.8" y="47.6" font-size="7.7" text-anchor="end" fill="#333" font-weight="normal" >16</text>
<line x1="417.1" y1="16.6" x2="419.6" y2="16.6" stroke="#7a7a7a" stroke-width="0.8"/>
<text x="413.8" y="19.2" font-size="7.7" text-anchor="end" fill="#333" font-weight="normal" >18</text>
<line x1="445.2" y1="272.2" x2="445.2" y2="274.7" stroke="#7a7a7a" stroke-width="0.8"/>
<text x="443.6" y="284.4" font-size="7.7" text-anchor="middle" fill="#333" font-weight="normal" >&#8722;2</text>
<line x1="496.4" y1="272.2" x2="496.4" y2="274.7" stroke="#7a7a7a" stroke-width="0.8"/>
<text x="494.8" y="284.4" font-size="7.7" text-anchor="middle" fill="#333" font-weight="normal" >&#8722;1</text>
<line x1="547.6" y1="272.2" x2="547.6" y2="274.7" stroke="#7a7a7a" stroke-width="0.8"/>
<text x="547.6" y="284.4" font-size="7.7" text-anchor="middle" fill="#333" font-weight="normal" >0</text>
<line x1="598.8" y1="272.2" x2="598.8" y2="274.7" stroke="#7a7a7a" stroke-width="0.8"/>
<text x="598.8" y="284.4" font-size="7.7" text-anchor="middle" fill="#333" font-weight="normal" >1</text>
<line x1="650" y1="272.2" x2="650" y2="274.7" stroke="#7a7a7a" stroke-width="0.8"/>
<text x="650" y="284.4" font-size="7.7" text-anchor="middle" fill="#333" font-weight="normal" >2</text>
<text x="547.7" y="298.4" font-size="9.6" text-anchor="middle" fill="#222">log<tspan font-size="6.3" dy="2">2</tspan><tspan dy="-2">(fold change)</tspan></text>
<text transform="translate(397.6,144) rotate(-90)" font-size="9.6" text-anchor="middle" fill="#222">&#8722;log<tspan font-size="6.3" dy="2">2</tspan><tspan dy="-2">(</tspan><tspan font-style="italic">P</tspan><tspan font-size="6.3" dy="2">adj.</tspan><tspan dy="-2"> value)</tspan></text>
<text x="446.6" y="261.2" font-size="9.4" text-anchor="start" fill="#222" font-weight="normal" >HFD</text>
<text x="613.4" y="261.2" font-size="9.4" text-anchor="start" fill="#222" font-weight="normal" >HFD + SANA</text>
<clipPath id="clg"><rect x="424.1" y="470.4" width="251.5" height="251.1"/></clipPath>
<g clip-path="url(#clg)">
<g class="sc clg" fill="none" stroke="#838383" stroke-width="0.62"><circle cx="539.2" cy="691.5"/><circle cx="549.6" cy="708.3"/><circle cx="517.9" cy="672.6"/><circle cx="550.5" cy="705.4"/><circle cx="538.9" cy="691.9"/><circle cx="542.4" cy="690.3"/><circle cx="559.6" cy="675.3"/><circle cx="547.4" cy="707.5"/><circle cx="591.3" cy="677"/><circle cx="540.2" cy="693.6"/><circle cx="544.2" cy="700"/><circle cx="546.7" cy="704.7"/><circle cx="567.6" cy="678.9"/><circle class="f" cx="509.7" cy="615.6"/><circle class="f" cx="502.3" cy="589.4"/><circle class="f" cx="581.7" cy="549.1"/><circle cx="555.3" cy="694.8"/><circle cx="525.9" cy="692.2"/><circle cx="557" cy="694"/><circle cx="532" cy="686.3"/><circle cx="536.7" cy="693.9"/><circle cx="554.6" cy="693.5"/><circle cx="596.1" cy="690.6"/><circle cx="574.5" cy="691.7"/><circle cx="548.5" cy="706.7"/><circle cx="536.8" cy="698.4"/><circle cx="535.7" cy="682.6"/><circle cx="546.9" cy="686.6"/><circle cx="560.3" cy="665.6"/><circle cx="525.6" cy="683.9"/><circle cx="555.4" cy="697.3"/><circle cx="539" cy="679.8"/><circle cx="518.9" cy="679.6"/><circle cx="554.9" cy="704.2"/><circle cx="538.9" cy="695.9"/><circle cx="549.2" cy="706.4"/><circle cx="545.6" cy="705.2"/><circle cx="547.8" cy="706.2"/><circle cx="542.6" cy="693"/><circle cx="587.1" cy="680.5"/><circle cx="551.1" cy="701.8"/><circle cx="569.6" cy="658.9"/><circle cx="541.1" cy="679.3"/><circle cx="563.6" cy="692.5"/><circle cx="559.2" cy="682.3"/><circle cx="536.6" cy="660.7"/><circle class="f" cx="599" cy="600.1"/><circle cx="551.3" cy="707.4"/><circle cx="570.7" cy="679.4"/><circle cx="563.7" cy="684.2"/><circle cx="504.6" cy="667.1"/><circle cx="532.3" cy="691.4"/><circle cx="552.4" cy="708"/><circle cx="570.2" cy="691.4"/><circle class="f" cx="582.3" cy="659.2"/><circle cx="552.7" cy="703"/><circle cx="548.3" cy="707.7"/><circle class="f" cx="523.5" cy="641.6"/><circle cx="528.1" cy="688.1"/><circle cx="545.9" cy="697.7"/><circle cx="620.7" cy="656.4"/><circle cx="541.4" cy="696.8"/><circle cx="528.2" cy="663.8"/><circle cx="550.1" cy="707.2"/><circle cx="551.2" cy="706.3"/><circle cx="511.2" cy="665.3"/><circle class="f" cx="566.3" cy="573.3"/><circle class="f" cx="563" cy="654.9"/><circle cx="545" cy="697.8"/><circle cx="548.3" cy="708.2"/><circle cx="552" cy="703.1"/><circle cx="577.4" cy="684.8"/><circle cx="547.4" cy="706"/><circle cx="529.6" cy="697.3"/><circle cx="533" cy="693.3"/><circle cx="550.1" cy="706.2"/><circle cx="557.1" cy="690.2"/><circle cx="556.1" cy="692.2"/><circle cx="551.4" cy="705.3"/><circle cx="545.8" cy="701.7"/><circle cx="559.2" cy="675.4"/><circle cx="552.2" cy="703.6"/><circle cx="543.8" cy="650.6"/><circle cx="565.9" cy="697.4"/><circle cx="527.4" cy="660.6"/><circle cx="521.8" cy="687.9"/><circle cx="580.1" cy="687.1"/><circle cx="544.4" cy="688.4"/><circle cx="551.9" cy="696.2"/><circle cx="542.8" cy="705.2"/><circle cx="596.7" cy="671"/><circle cx="552.6" cy="701.4"/><circle class="f" cx="500.3" cy="633.5"/><circle cx="633.9" cy="662.9"/><circle cx="529.1" cy="683.5"/><circle cx="552.2" cy="705.3"/><circle cx="537.6" cy="692.1"/><circle class="f" cx="596" cy="610"/><circle cx="545.4" cy="676"/><circle cx="559.5" cy="701.1"/><circle cx="550.1" cy="706.9"/><circle cx="541.5" cy="698.4"/><circle cx="534.2" cy="702"/><circle cx="552" cy="695.5"/><circle cx="525.7" cy="673.5"/><circle cx="551.5" cy="704.1"/><circle cx="575.1" cy="624.4"/><circle cx="552" cy="700.9"/><circle cx="549" cy="706.7"/><circle cx="550.9" cy="706.2"/><circle cx="553.7" cy="702.5"/><circle cx="539.7" cy="693.3"/><circle cx="522.7" cy="670.6"/><circle cx="602" cy="604"/><circle cx="553" cy="699.7"/><circle cx="555.6" cy="695.1"/><circle cx="574" cy="694"/><circle cx="573.6" cy="681.9"/><circle cx="535.7" cy="690.8"/><circle cx="542.4" cy="681.6"/><circle cx="529" cy="671.3"/><circle cx="526.6" cy="667.4"/><circle cx="554.4" cy="692.7"/><circle cx="556.6" cy="693.2"/><circle cx="558.9" cy="656.1"/><circle cx="533" cy="689"/><circle cx="553.2" cy="706"/><circle cx="553" cy="701.2"/><circle cx="558.5" cy="658.9"/><circle class="f" cx="570.8" cy="655.3"/><circle class="f" cx="467.1" cy="644.2"/><circle cx="552.9" cy="700.6"/><circle cx="537.6" cy="680.2"/><circle class="f" cx="525" cy="548.3"/><circle cx="540.1" cy="684.7"/><circle cx="571" cy="626.7"/><circle cx="533.1" cy="691.7"/><circle cx="541.7" cy="694.5"/><circle cx="548.5" cy="706.5"/><circle cx="546.7" cy="704"/><circle cx="550.3" cy="706.5"/><circle cx="553.5" cy="694.3"/><circle cx="504.7" cy="595.9"/><circle cx="573.3" cy="657.3"/><circle cx="540.3" cy="699.8"/><circle cx="536.1" cy="683.1"/><circle cx="531.3" cy="692.2"/><circle cx="556.8" cy="665.2"/><circle class="f" cx="558.4" cy="643.9"/><circle cx="583.1" cy="657.6"/><circle cx="551.8" cy="702.8"/><circle cx="586.7" cy="668.2"/><circle cx="543.3" cy="703.3"/><circle cx="561" cy="687.1"/><circle cx="546.7" cy="700.2"/><circle cx="544.9" cy="703.2"/><circle cx="555.8" cy="675.3"/><circle cx="559.1" cy="645.2"/><circle class="f" cx="520.9" cy="613"/><circle cx="557.1" cy="687.1"/><circle cx="552.3" cy="703.8"/><circle cx="545" cy="694.9"/><circle cx="558.2" cy="704.2"/><circle cx="550" cy="707.4"/><circle class="f" cx="527.8" cy="649.7"/><circle cx="547.2" cy="695.6"/><circle cx="540.5" cy="678"/><circle cx="551.2" cy="695.9"/><circle cx="553.8" cy="690.6"/><circle cx="533.9" cy="684.5"/><circle cx="526.4" cy="663.4"/><circle cx="534.2" cy="682.4"/><circle cx="551.8" cy="705.4"/><circle cx="550.1" cy="707.2"/><circle cx="515.8" cy="670.9"/><circle cx="557" cy="688.9"/><circle cx="524.1" cy="697.8"/><circle cx="540.9" cy="701.3"/><circle cx="547.8" cy="706.9"/><circle cx="559.2" cy="691.9"/><circle cx="538.6" cy="677.7"/><circle cx="553.1" cy="706.1"/><circle cx="559.1" cy="663.7"/><circle cx="556.9" cy="685.2"/><circle cx="541.1" cy="679.4"/><circle cx="527.2" cy="669.3"/><circle cx="553.9" cy="704.1"/><circle cx="540.9" cy="685.6"/><circle cx="546.2" cy="708"/><circle cx="556.5" cy="692.2"/><circle cx="546.8" cy="706.8"/><circle cx="571" cy="660.5"/><circle cx="542" cy="662.3"/><circle cx="526.8" cy="671.7"/><circle cx="565.1" cy="684.8"/><circle cx="549" cy="707.3"/><circle cx="537.7" cy="684.9"/><circle cx="560.7" cy="684.9"/><circle cx="548" cy="699.8"/><circle cx="548.3" cy="706.4"/><circle cx="571.1" cy="643.4"/><circle cx="548" cy="705.1"/><circle cx="556.8" cy="705.1"/><circle cx="577.1" cy="684.9"/><circle cx="519" cy="694.4"/><circle cx="542.6" cy="691.5"/><circle cx="553.3" cy="696.8"/><circle cx="571.8" cy="683.9"/><circle cx="536.5" cy="688.7"/><circle cx="549.3" cy="708.1"/><circle class="f" cx="564.1" cy="630.2"/><circle cx="538.8" cy="646"/><circle cx="527.8" cy="679.4"/><circle cx="553.5" cy="693.7"/><circle cx="563" cy="664.4"/><circle cx="561.5" cy="696.7"/><circle cx="534.7" cy="686.8"/><circle cx="573.9" cy="673.8"/><circle cx="582.7" cy="660.9"/><circle cx="551.5" cy="697.8"/><circle cx="533.8" cy="694.2"/><circle cx="546.6" cy="700.8"/><circle cx="544.4" cy="695.8"/><circle cx="560.1" cy="566.4"/><circle cx="547.5" cy="703.9"/><circle cx="550.9" cy="703.5"/><circle cx="544.9" cy="696.9"/><circle cx="583.3" cy="625.1"/><circle cx="547.5" cy="701.6"/><circle cx="551.1" cy="705.4"/><circle cx="558.8" cy="657.7"/><circle cx="542.8" cy="688.5"/><circle cx="536.3" cy="686.8"/><circle cx="545" cy="697.3"/><circle cx="541.9" cy="697.6"/><circle cx="544.3" cy="694.8"/><circle cx="547.2" cy="707.4"/><circle cx="545.7" cy="698.6"/><circle cx="546.8" cy="701.5"/><circle cx="540" cy="676"/><circle cx="556.3" cy="693.5"/><circle cx="580.5" cy="666.2"/><circle cx="595.9" cy="668.1"/><circle cx="555.1" cy="703.8"/><circle cx="550.3" cy="707.1"/><circle cx="553.3" cy="703.1"/><circle cx="532.4" cy="671.7"/><circle class="f" cx="570.1" cy="654.5"/><circle cx="507.1" cy="649.9"/><circle cx="518.9" cy="692"/><circle cx="547.1" cy="704.9"/><circle cx="530.3" cy="690.8"/><circle cx="548.3" cy="707.1"/><circle cx="549.8" cy="707.9"/><circle cx="556.2" cy="706.7"/><circle cx="562.1" cy="677.9"/><circle cx="558.7" cy="698.2"/><circle cx="555.7" cy="698.2"/><circle cx="543.7" cy="703.2"/><circle class="f" cx="565.3" cy="569.9"/><circle cx="537.7" cy="672.5"/><circle cx="566" cy="645.2"/><circle cx="547.8" cy="707.1"/><circle cx="513.3" cy="669.6"/><circle cx="589.2" cy="598.4"/><circle cx="571.1" cy="683.7"/><circle cx="546.8" cy="704.8"/><circle cx="570.8" cy="672"/><circle cx="545.8" cy="701.6"/><circle cx="541.3" cy="689.7"/><circle cx="556.5" cy="691.3"/><circle cx="545.3" cy="703.4"/><circle cx="544.1" cy="696.1"/><circle cx="487.2" cy="657.6"/><circle cx="562.8" cy="696.9"/><circle cx="548.4" cy="705.3"/><circle cx="550.4" cy="706.1"/><circle cx="552" cy="702.8"/><circle cx="555.5" cy="688.1"/><circle cx="558" cy="658.7"/><circle cx="549.4" cy="707.7"/><circle class="f" cx="558.3" cy="656.3"/><circle cx="546.4" cy="699.3"/><circle cx="571.3" cy="678.5"/><circle cx="552.9" cy="701.7"/><circle cx="545.9" cy="703.7"/><circle cx="563.6" cy="655.3"/><circle cx="553.5" cy="704.4"/><circle cx="563.8" cy="699.9"/><circle cx="541.4" cy="686.8"/><circle cx="556.8" cy="696.3"/><circle cx="530.6" cy="689.5"/><circle cx="550.8" cy="706.7"/><circle cx="562.6" cy="677.3"/><circle cx="539.5" cy="692.7"/><circle class="f" cx="583" cy="649.6"/><circle cx="557.7" cy="676.3"/><circle cx="547.5" cy="692.2"/><circle cx="544.4" cy="702.6"/><circle cx="543.2" cy="676.9"/><circle cx="559.3" cy="678.8"/><circle cx="536.4" cy="679.4"/><circle cx="594" cy="692.8"/><circle cx="554.8" cy="699.9"/><circle cx="543.4" cy="675.8"/><circle cx="546" cy="702.3"/><circle cx="549.6" cy="708.7"/><circle cx="530.2" cy="669"/><circle class="f" cx="526.8" cy="625.7"/><circle cx="552.2" cy="704.6"/><circle class="f" cx="519.1" cy="528.4"/><circle cx="557.1" cy="681.9"/><circle cx="520" cy="683.5"/><circle cx="525.5" cy="665.4"/><circle cx="551.2" cy="706.3"/><circle cx="545.9" cy="700.1"/><circle cx="567" cy="692.2"/><circle cx="526.9" cy="662.9"/><circle cx="543.1" cy="680.6"/><circle cx="546.2" cy="690.2"/><circle cx="558.2" cy="700.7"/><circle cx="565.5" cy="682.5"/><circle cx="578.4" cy="668.1"/><circle cx="551.2" cy="707.3"/><circle cx="523.8" cy="686"/><circle cx="553.9" cy="704.5"/><circle cx="544" cy="698"/><circle cx="546.9" cy="706"/><circle cx="555.2" cy="702.7"/><circle cx="551.3" cy="706.9"/><circle cx="563.2" cy="679"/><circle cx="543.9" cy="697.4"/><circle cx="540.7" cy="679"/><circle cx="547" cy="698.4"/><circle cx="557.9" cy="702.4"/><circle cx="554.8" cy="693.3"/><circle cx="560.6" cy="698.1"/><circle cx="546.1" cy="691.1"/><circle cx="561.2" cy="681.9"/><circle cx="593.6" cy="655.5"/><circle cx="551.3" cy="703.4"/><circle cx="578.3" cy="679.7"/><circle cx="544.1" cy="671"/><circle cx="571.9" cy="663.1"/><circle cx="558.6" cy="638.3"/><circle class="f" cx="565.1" cy="607.2"/><circle cx="593.2" cy="660.9"/><circle cx="560.1" cy="695.4"/><circle cx="551" cy="706.9"/><circle cx="549.9" cy="707.7"/><circle cx="556.9" cy="687"/><circle cx="557.3" cy="701.8"/><circle cx="539.9" cy="700.3"/><circle cx="557.3" cy="647.8"/><circle class="f" cx="575.4" cy="611.6"/><circle cx="553.5" cy="704"/><circle cx="534.5" cy="668.8"/><circle cx="571.2" cy="653.4"/><circle cx="548.4" cy="708.1"/><circle cx="546.3" cy="700.1"/><circle cx="562.1" cy="640.4"/><circle cx="552.9" cy="704.3"/><circle cx="530.2" cy="675.3"/><circle cx="550.5" cy="704.9"/><circle cx="556.5" cy="698.8"/><circle cx="553.4" cy="694"/><circle cx="596.5" cy="681.6"/><circle cx="546.7" cy="702.5"/><circle cx="584.3" cy="652.1"/><circle class="f" cx="586.5" cy="594"/><circle cx="558.1" cy="698.7"/><circle cx="564" cy="684.7"/><circle cx="572" cy="646.3"/><circle cx="538.5" cy="692.5"/><circle cx="548.1" cy="707.5"/><circle cx="560.1" cy="694.6"/><circle cx="541" cy="699.5"/><circle cx="567.5" cy="676.8"/><circle cx="552.7" cy="702"/><circle cx="532.6" cy="665.1"/><circle cx="540.8" cy="693.4"/><circle cx="553.7" cy="704.8"/><circle cx="591.4" cy="693.5"/><circle cx="556.6" cy="703.7"/><circle cx="550.4" cy="706.3"/><circle cx="521.8" cy="677.7"/><circle cx="546.7" cy="689.3"/><circle cx="535.6" cy="697.7"/><circle cx="596" cy="660"/><circle cx="530.8" cy="680"/><circle cx="541.3" cy="698.4"/><circle cx="561.2" cy="684.2"/><circle cx="565" cy="692.6"/><circle cx="560" cy="698.9"/><circle cx="546" cy="702.1"/><circle cx="521.3" cy="596.8"/><circle cx="549" cy="708.1"/><circle cx="569.3" cy="683.3"/><circle cx="545.7" cy="694.9"/><circle cx="565.3" cy="663.9"/><circle cx="553.6" cy="697.7"/><circle cx="548.8" cy="707.4"/><circle cx="580.8" cy="666.4"/><circle cx="550.7" cy="701.8"/><circle cx="547.8" cy="703.5"/><circle cx="553.9" cy="700"/><circle cx="536.6" cy="694.2"/><circle cx="542.8" cy="685.6"/><circle cx="530.4" cy="688.1"/><circle cx="546.3" cy="703"/><circle cx="529.9" cy="672.1"/><circle cx="555.8" cy="697.4"/><circle cx="563.1" cy="702.4"/><circle cx="552.4" cy="703.6"/><circle cx="588.9" cy="629.8"/><circle cx="549.2" cy="708.6"/><circle cx="548.3" cy="702.4"/><circle cx="560.2" cy="701.5"/><circle cx="540.8" cy="697.7"/><circle cx="553.5" cy="696"/><circle cx="521.8" cy="664.9"/><circle cx="559.9" cy="680"/><circle cx="551.6" cy="704.4"/><circle cx="542.2" cy="686.9"/><circle cx="541.1" cy="696.8"/><circle cx="547.2" cy="707.4"/><circle cx="556.8" cy="701.2"/><circle cx="541.5" cy="670.1"/><circle cx="561.2" cy="698"/><circle cx="543.7" cy="684.6"/><circle cx="571.2" cy="677.6"/><circle cx="538.1" cy="684"/><circle cx="516.7" cy="593.5"/><circle class="f" cx="477.1" cy="563.6"/><circle cx="565.1" cy="675.4"/><circle cx="528.7" cy="674.7"/><circle cx="538.3" cy="681"/><circle cx="549" cy="708"/><circle cx="527.4" cy="670.6"/><circle cx="534.7" cy="679.1"/><circle cx="512.3" cy="684.4"/><circle cx="521.2" cy="678.8"/><circle cx="483.9" cy="683.5"/><circle class="f" cx="596.8" cy="622.8"/><circle cx="529.4" cy="702"/><circle cx="551.3" cy="702.1"/><circle cx="548.3" cy="706.1"/><circle cx="555.2" cy="696.7"/><circle cx="501.2" cy="668.2"/><circle cx="545.7" cy="702.2"/><circle cx="553.2" cy="705.1"/><circle cx="547.7" cy="704.6"/><circle cx="583.8" cy="674.1"/><circle cx="569.7" cy="644.6"/><circle cx="546.3" cy="701.7"/><circle cx="547.4" cy="701.4"/><circle cx="539.3" cy="668.9"/><circle cx="533.8" cy="686.8"/><circle cx="538.6" cy="688"/><circle cx="568.4" cy="675"/><circle cx="546.5" cy="703.1"/><circle cx="545.2" cy="698.3"/><circle cx="553.5" cy="702.4"/><circle cx="546.3" cy="701.6"/><circle cx="529.7" cy="661"/><circle cx="545.7" cy="702.9"/><circle cx="522.1" cy="699.5"/><circle cx="596.2" cy="651.9"/><circle class="f" cx="581.9" cy="586.6"/><circle cx="533.6" cy="693.3"/><circle cx="532.4" cy="686.9"/><circle cx="596.6" cy="667.2"/><circle cx="551.2" cy="707.2"/><circle cx="561.2" cy="683.5"/><circle cx="547.7" cy="706.8"/><circle cx="554.3" cy="697.9"/><circle class="f" cx="522.4" cy="635.5"/><circle cx="551.5" cy="699.9"/><circle cx="551.7" cy="706.6"/><circle cx="543.2" cy="695.7"/><circle cx="530.5" cy="673.2"/><circle cx="557.6" cy="700"/><circle cx="543.5" cy="704.1"/><circle cx="542.1" cy="705"/><circle cx="548.1" cy="703.2"/><circle cx="552.4" cy="707"/><circle cx="558.4" cy="691.8"/><circle cx="539" cy="679.4"/><circle cx="559" cy="683.4"/><circle cx="536.9" cy="679"/><circle cx="555" cy="676"/><circle cx="544.5" cy="706"/><circle cx="503" cy="683.4"/><circle class="f" cx="505.1" cy="602"/><circle class="f" cx="567.8" cy="648.3"/><circle cx="550.1" cy="707.9"/><circle cx="550.3" cy="704.9"/><circle cx="540.8" cy="690"/><circle cx="565.9" cy="688.3"/><circle cx="525.1" cy="678.7"/><circle cx="541.6" cy="680.1"/><circle cx="538.3" cy="697.5"/><circle cx="568.5" cy="681.4"/><circle cx="567.6" cy="680.5"/><circle cx="557.8" cy="703.9"/><circle cx="548.9" cy="707.3"/><circle cx="549.9" cy="707.3"/><circle cx="550.4" cy="707.2"/><circle cx="551.4" cy="706.9"/><circle cx="544.4" cy="682.6"/><circle cx="550.1" cy="707.2"/><circle cx="560.3" cy="679.1"/><circle cx="549.2" cy="708.4"/><circle cx="561.6" cy="689.5"/><circle class="f" cx="588.3" cy="642.9"/><circle cx="542.7" cy="676"/><circle cx="528.2" cy="686.8"/><circle cx="568.1" cy="663.7"/><circle cx="526.2" cy="669.6"/><circle cx="561.8" cy="675.1"/><circle cx="547.3" cy="704.6"/><circle cx="542.9" cy="671.2"/><circle class="f" cx="503.1" cy="581.9"/><circle cx="546.8" cy="704.4"/><circle cx="545.4" cy="704.5"/><circle cx="553.6" cy="702.2"/><circle cx="559.4" cy="690.7"/><circle cx="549.6" cy="708"/><circle cx="526.6" cy="684.7"/><circle cx="545.6" cy="693.1"/><circle cx="562.8" cy="594.2"/><circle cx="544.6" cy="703.2"/><circle cx="555.7" cy="688.3"/><circle cx="550.2" cy="706.8"/><circle cx="567.2" cy="674.7"/><circle cx="550.2" cy="707.5"/><circle cx="567" cy="684.1"/><circle cx="553.1" cy="701.1"/><circle class="f" cx="530.7" cy="620.9"/><circle class="f" cx="490.2" cy="595.3"/><circle cx="531.8" cy="668.8"/><circle cx="565" cy="670.2"/><circle cx="529.9" cy="695.2"/><circle cx="546" cy="704.4"/><circle cx="559.7" cy="679.8"/><circle cx="537.7" cy="676.8"/><circle cx="556.1" cy="688.1"/><circle cx="561.9" cy="665.4"/><circle cx="544.4" cy="702"/><circle cx="545.2" cy="688.8"/><circle cx="525.9" cy="664.6"/><circle class="f" cx="506" cy="548"/><circle cx="517.1" cy="672.7"/><circle cx="552.9" cy="702.6"/><circle cx="553.9" cy="702.6"/><circle cx="547.8" cy="703.3"/><circle cx="538.3" cy="691.4"/><circle class="f" cx="560.3" cy="547.6"/><circle cx="587.2" cy="665.9"/><circle cx="557.5" cy="696.6"/><circle cx="528.4" cy="674.5"/><circle cx="541" cy="701.3"/><circle cx="534.4" cy="623.5"/><circle cx="557.7" cy="695"/><circle cx="549.1" cy="708.2"/><circle cx="565.8" cy="639"/><circle cx="562.9" cy="691.6"/><circle cx="553" cy="702.3"/><circle cx="559.1" cy="687.1"/><circle cx="565.9" cy="657.7"/><circle cx="566.6" cy="696.3"/><circle cx="556.8" cy="681.7"/><circle cx="531.4" cy="683.7"/><circle cx="549.9" cy="707.1"/><circle cx="578.3" cy="688.1"/><circle cx="569.7" cy="679.8"/><circle cx="552.7" cy="705.4"/><circle cx="537.5" cy="696.2"/><circle cx="542.3" cy="695.2"/><circle cx="540.8" cy="681.3"/><circle cx="547.2" cy="705.1"/><circle cx="546.4" cy="703.6"/><circle cx="568.6" cy="676"/><circle cx="554.1" cy="700.8"/><circle cx="550.7" cy="705.3"/><circle cx="553.5" cy="701"/><circle cx="543" cy="693.7"/><circle cx="548.4" cy="704.2"/><circle cx="586.3" cy="678.5"/><circle cx="567.9" cy="697.8"/><circle class="f" cx="558.3" cy="649.8"/><circle cx="547.1" cy="705.7"/><circle cx="550.6" cy="704.7"/><circle cx="548.8" cy="708"/><circle cx="566.3" cy="696.5"/><circle cx="560.9" cy="694.5"/><circle cx="542.7" cy="703.4"/><circle cx="555.6" cy="687.3"/><circle cx="555.2" cy="695.9"/><circle cx="560" cy="697.9"/><circle cx="553.4" cy="690"/><circle cx="541.8" cy="685.2"/><circle cx="552.8" cy="702.4"/><circle cx="552.5" cy="701.4"/><circle cx="538.7" cy="694.9"/><circle cx="557.2" cy="684.7"/><circle cx="545.8" cy="699"/><circle cx="551.6" cy="707.1"/><circle cx="549.2" cy="707.7"/><circle cx="535.4" cy="695.3"/><circle cx="555.9" cy="701.5"/><circle cx="517.5" cy="671.1"/><circle cx="528.1" cy="682.1"/><circle cx="544.2" cy="699"/><circle cx="561.3" cy="672.5"/><circle cx="548.3" cy="706.2"/><circle cx="541.2" cy="701.9"/><circle cx="525.7" cy="676.1"/><circle cx="545.5" cy="701.6"/><circle cx="522.1" cy="677.7"/><circle cx="555.4" cy="701.1"/><circle cx="544.9" cy="670"/><circle cx="547.9" cy="703.4"/><circle cx="542.8" cy="703.7"/><circle class="f" cx="574.5" cy="576.3"/><circle cx="571" cy="687.6"/><circle cx="596.3" cy="665.1"/><circle cx="543.9" cy="696.5"/><circle cx="541.4" cy="699.3"/><circle cx="557" cy="665.8"/><circle cx="538.2" cy="667.2"/><circle cx="544.6" cy="703.1"/><circle cx="535.6" cy="690"/><circle cx="542.3" cy="684.5"/><circle cx="621.2" cy="670.5"/><circle cx="563.5" cy="678.5"/><circle cx="544.6" cy="700.8"/><circle cx="546.3" cy="696.3"/><circle cx="543.6" cy="701.7"/><circle cx="549.7" cy="707.8"/><circle cx="544.8" cy="688"/><circle cx="569.2" cy="666.4"/><circle cx="551.5" cy="706.5"/><circle cx="551.7" cy="694.6"/><circle cx="546.8" cy="685.9"/><circle cx="548.6" cy="705.3"/><circle cx="579.5" cy="648.7"/><circle cx="523.8" cy="697.7"/><circle cx="590.3" cy="655.8"/><circle cx="557.3" cy="686.8"/><circle cx="548.2" cy="708"/><circle cx="544.1" cy="696.9"/><circle cx="553" cy="703.9"/><circle cx="547.4" cy="702.3"/><circle cx="549.4" cy="708"/><circle cx="564.2" cy="699.8"/><circle cx="542.5" cy="705.3"/><circle cx="537.1" cy="689.1"/><circle cx="535.1" cy="693.6"/><circle class="f" cx="573.9" cy="658"/><circle cx="541.7" cy="694.4"/><circle cx="569" cy="691"/><circle cx="555.8" cy="703.5"/><circle cx="554.6" cy="704.1"/><circle cx="559" cy="643.8"/><circle cx="562.2" cy="669.3"/><circle cx="590.3" cy="663.2"/><circle cx="543.8" cy="704.7"/><circle cx="555.2" cy="695"/><circle cx="578.4" cy="692"/><circle cx="537.6" cy="690.7"/><circle cx="568.6" cy="697.3"/><circle class="f" cx="511.7" cy="635.5"/><circle cx="539.2" cy="668.4"/><circle cx="545.2" cy="696.9"/><circle class="f" cx="506.6" cy="600.1"/><circle cx="512.5" cy="680.9"/><circle class="f" cx="573.4" cy="646.3"/><circle cx="565.6" cy="696.5"/><circle cx="545.9" cy="704.2"/><circle cx="555.2" cy="686.3"/><circle cx="540.5" cy="702.9"/><circle cx="547.9" cy="702"/><circle cx="562.4" cy="682.2"/><circle cx="561.8" cy="684.7"/><circle cx="541.2" cy="699.1"/><circle cx="531.2" cy="693.1"/><circle cx="535.5" cy="683.3"/><circle cx="573.9" cy="671.8"/><circle cx="518.1" cy="674.5"/><circle cx="553" cy="691.9"/><circle cx="582.2" cy="657.8"/><circle cx="548.5" cy="706.3"/><circle cx="566.6" cy="681.4"/><circle cx="542.4" cy="687.8"/><circle cx="566.1" cy="653.6"/><circle cx="557" cy="695.4"/><circle cx="549.6" cy="708.2"/><circle cx="554.2" cy="692.6"/><circle cx="546.5" cy="700.2"/><circle class="f" cx="605" cy="631.1"/><circle cx="554" cy="700.4"/><circle cx="572.9" cy="658.2"/><circle cx="530.9" cy="686"/><circle cx="563.4" cy="678.2"/><circle cx="539.5" cy="676.2"/><circle cx="578.2" cy="695.9"/><circle cx="554.2" cy="702.8"/><circle cx="551.6" cy="698.8"/><circle cx="526.6" cy="683.9"/><circle cx="562.6" cy="699.9"/><circle cx="570.9" cy="666.9"/><circle cx="550.4" cy="705.5"/><circle cx="554.3" cy="702.3"/><circle cx="551" cy="703"/><circle cx="549.4" cy="708.1"/><circle cx="610" cy="632"/><circle cx="549.1" cy="707.6"/><circle cx="567.8" cy="689.5"/><circle cx="550.2" cy="707.7"/><circle cx="543.7" cy="704"/><circle cx="553" cy="697"/><circle class="f" cx="580.3" cy="630.9"/><circle cx="552.5" cy="702.1"/><circle class="f" cx="466.2" cy="583.5"/><circle cx="541.8" cy="695"/><circle cx="558.6" cy="653.4"/><circle cx="542.1" cy="692.9"/><circle cx="552.7" cy="703.9"/><circle cx="554.7" cy="687.3"/><circle cx="559.5" cy="680.5"/><circle class="f" cx="518" cy="549.8"/><circle cx="560" cy="693.6"/><circle cx="544.4" cy="700.6"/><circle cx="551.6" cy="705.7"/><circle cx="573" cy="665.5"/><circle cx="547.2" cy="704.9"/><circle class="f" cx="496.8" cy="639.7"/><circle cx="540.9" cy="703.2"/><circle cx="523.3" cy="661.8"/><circle cx="555.6" cy="705.9"/><circle cx="541" cy="689.2"/><circle cx="548" cy="706.8"/><circle cx="528.5" cy="694.4"/><circle cx="558" cy="701.6"/><circle cx="552.2" cy="705.4"/><circle cx="555" cy="696.7"/><circle cx="551.4" cy="706.8"/><circle cx="533" cy="664.3"/><circle cx="557.2" cy="694.3"/><circle cx="511.3" cy="687.2"/><circle cx="556.6" cy="698.6"/><circle cx="564" cy="696.5"/><circle cx="606.5" cy="682.2"/><circle cx="532.7" cy="675"/><circle cx="543.9" cy="694.3"/><circle cx="526.7" cy="688.6"/><circle cx="557.5" cy="684.5"/><circle cx="566.1" cy="691.1"/><circle cx="539.3" cy="680"/><circle cx="553.8" cy="698.9"/><circle cx="572.5" cy="683.9"/><circle cx="618.9" cy="674.7"/><circle cx="561.1" cy="678.9"/><circle cx="550.7" cy="705.6"/><circle cx="542.6" cy="685.8"/><circle cx="566.4" cy="689.6"/><circle cx="555.8" cy="668.1"/><circle cx="549.9" cy="707.2"/><circle cx="547.9" cy="706.2"/><circle cx="610.1" cy="679"/><circle cx="560.5" cy="666.2"/><circle cx="543.6" cy="701.6"/><circle cx="573.3" cy="695.6"/><circle cx="547.1" cy="702.7"/><circle cx="546.3" cy="703.5"/><circle cx="527.8" cy="681.8"/><circle cx="584.8" cy="683.4"/><circle cx="531" cy="688.2"/><circle cx="569.7" cy="677.6"/><circle cx="568.7" cy="687.4"/><circle cx="539.5" cy="689.8"/><circle cx="558.7" cy="673.3"/><circle cx="550" cy="707.1"/><circle class="f" cx="518.4" cy="625.7"/><circle cx="549.1" cy="707.7"/><circle cx="573.6" cy="659.3"/><circle cx="522.4" cy="680.1"/><circle cx="539.7" cy="694.6"/><circle cx="538" cy="688.7"/><circle cx="586" cy="655.9"/><circle cx="566.7" cy="688.1"/><circle cx="512.4" cy="676.3"/><circle cx="561.3" cy="688.1"/><circle cx="545.9" cy="704.4"/><circle cx="551.4" cy="701.1"/><circle cx="551" cy="706.9"/><circle cx="562.4" cy="693.8"/><circle cx="545.1" cy="702.1"/><circle cx="542.7" cy="703"/><circle cx="525.1" cy="665.7"/><circle cx="544.2" cy="698.1"/><circle cx="558.4" cy="688.4"/><circle cx="575.5" cy="684.9"/><circle cx="571.1" cy="689.8"/><circle cx="551.2" cy="698.3"/><circle cx="545" cy="700"/><circle cx="530" cy="671.8"/><circle cx="542" cy="662.5"/><circle cx="576.1" cy="684.3"/><circle cx="551.8" cy="703"/><circle cx="535.5" cy="688.8"/><circle cx="559.8" cy="684.8"/><circle cx="542.5" cy="679.3"/><circle cx="575.5" cy="690.4"/><circle cx="559.9" cy="691.8"/><circle cx="556.2" cy="693.5"/><circle class="f" cx="566.3" cy="612.1"/><circle cx="550.4" cy="707.7"/><circle cx="532.7" cy="686.6"/><circle class="f" cx="532.2" cy="646.6"/><circle cx="531.5" cy="684.1"/><circle cx="523.9" cy="680"/><circle cx="542.2" cy="694.6"/><circle cx="548.7" cy="707.3"/><circle cx="551.3" cy="707.1"/><circle cx="537.4" cy="676.3"/><circle cx="536.4" cy="684.8"/><circle class="f" cx="572.6" cy="636.3"/><circle cx="548.9" cy="705.7"/><circle cx="548" cy="703.8"/><circle cx="551.8" cy="703.7"/><circle class="f" cx="529.2" cy="604.7"/><circle cx="598" cy="647"/><circle cx="548.2" cy="707.5"/><circle cx="548.3" cy="706.7"/><circle cx="546.7" cy="705.5"/><circle cx="565.4" cy="655.5"/><circle cx="549.3" cy="707.6"/><circle cx="557" cy="685.1"/><circle cx="541.2" cy="696.9"/><circle cx="548.1" cy="704.8"/><circle cx="535.4" cy="702.8"/><circle cx="546.5" cy="703.5"/><circle cx="555.5" cy="677.3"/><circle cx="541.7" cy="695.6"/><circle cx="522.1" cy="688.9"/><circle cx="575.6" cy="666"/><circle cx="544.3" cy="702.2"/><circle cx="546" cy="689.1"/><circle cx="563.2" cy="682"/><circle cx="551.3" cy="701.3"/><circle cx="544.6" cy="703.4"/><circle cx="551.9" cy="707.3"/><circle cx="531.9" cy="676"/><circle cx="546.9" cy="704.3"/><circle cx="546.7" cy="689.8"/><circle cx="525.3" cy="697.5"/><circle class="f" cx="561.8" cy="644.4"/><circle cx="536.7" cy="690"/><circle cx="564.4" cy="685.9"/><circle cx="547.5" cy="705.7"/><circle cx="571.2" cy="689"/><circle cx="545.9" cy="703.7"/><circle cx="536.7" cy="683.4"/><circle cx="559.9" cy="687.8"/><circle cx="562.9" cy="674"/><circle class="f" cx="588.3" cy="615"/><circle cx="538.8" cy="596.8"/><circle cx="535.1" cy="686.3"/><circle cx="587.9" cy="669.7"/><circle cx="560.6" cy="684.8"/><circle cx="550.8" cy="700.7"/><circle cx="562.5" cy="682.6"/><circle cx="549.3" cy="707.7"/><circle cx="554.1" cy="704.4"/><circle cx="545.1" cy="704.6"/><circle cx="556.3" cy="683.1"/><circle cx="550.6" cy="705.9"/><circle class="f" cx="517.4" cy="618"/><circle cx="531" cy="682.1"/><circle cx="580.4" cy="673.2"/><circle cx="503.1" cy="569.7"/><circle cx="547.3" cy="707.3"/><circle cx="555" cy="694"/><circle cx="533.4" cy="701.8"/><circle cx="548.1" cy="707.2"/><circle cx="540.7" cy="691.1"/><circle cx="545.8" cy="665.6"/><circle cx="550.6" cy="705.4"/><circle cx="533.2" cy="675.9"/><circle cx="554.6" cy="693.8"/><circle cx="574.5" cy="654.6"/><circle cx="615" cy="620"/><circle cx="555" cy="701.3"/><circle cx="548.1" cy="704.9"/><circle cx="543.5" cy="697.8"/><circle cx="514.7" cy="685.8"/><circle cx="539.4" cy="696.2"/><circle class="f" cx="520.9" cy="653.2"/><circle cx="577.2" cy="693.5"/><circle class="f" cx="509.3" cy="638.3"/><circle cx="546.9" cy="702.7"/><circle class="f" cx="484.6" cy="578.4"/><circle cx="570.1" cy="695.5"/><circle cx="569.6" cy="670.6"/><circle cx="544.9" cy="695.8"/><circle cx="574" cy="658.6"/><circle cx="535.9" cy="687.2"/><circle cx="548.7" cy="706.2"/><circle cx="551" cy="705.2"/><circle cx="544.9" cy="684"/><circle cx="567" cy="695"/><circle cx="549" cy="706.9"/><circle cx="575.4" cy="681.3"/><circle cx="542.6" cy="690.3"/><circle cx="556.1" cy="678.9"/><circle cx="563.8" cy="667.7"/><circle cx="550.8" cy="706.9"/><circle cx="546.2" cy="696.4"/><circle class="f" cx="575.2" cy="659"/><circle class="f" cx="558.5" cy="657.1"/><circle cx="554.6" cy="699.4"/><circle cx="539.2" cy="694.3"/><circle cx="512.7" cy="692.1"/><circle cx="566.9" cy="692.3"/><circle cx="544.1" cy="683.5"/><circle cx="551.5" cy="706"/><circle cx="555.3" cy="697.4"/><circle cx="569.5" cy="669.7"/><circle cx="552.5" cy="700"/><circle cx="542.2" cy="700.1"/><circle cx="545.1" cy="695.4"/><circle cx="546" cy="700.9"/><circle cx="557.9" cy="702.9"/><circle cx="541.2" cy="691.1"/><circle cx="556.4" cy="696.5"/><circle class="f" cx="534.8" cy="632.2"/><circle class="f" cx="587.6" cy="602.5"/><circle cx="496.6" cy="684.3"/><circle cx="539.6" cy="695.4"/><circle cx="558.1" cy="691.2"/><circle cx="538" cy="688.7"/><circle cx="549.8" cy="708.4"/><circle cx="566.6" cy="681.7"/><circle cx="544.8" cy="704.5"/><circle cx="543.4" cy="695.4"/><circle cx="476.2" cy="670.5"/><circle cx="554.9" cy="695.2"/><circle cx="547.9" cy="703.3"/><circle cx="544.1" cy="694"/><circle cx="556.3" cy="698"/><circle cx="545.9" cy="704.4"/><circle cx="543.4" cy="692.7"/><circle cx="533.8" cy="679.2"/><circle cx="603.2" cy="682.9"/><circle cx="549.2" cy="707.6"/><circle cx="558.2" cy="684.3"/><circle cx="554.2" cy="680.1"/><circle cx="548.9" cy="707.9"/><circle cx="563.4" cy="667.6"/><circle cx="564.2" cy="700.6"/><circle cx="532.4" cy="697"/><circle cx="550.2" cy="707.2"/><circle cx="570.9" cy="681.7"/><circle cx="541.3" cy="696.1"/><circle cx="541.6" cy="672.3"/><circle cx="547.9" cy="703.3"/><circle cx="556.2" cy="681.4"/><circle cx="547.6" cy="703.8"/><circle cx="551.9" cy="701.8"/><circle cx="535" cy="693.1"/><circle cx="582.1" cy="653.6"/><circle cx="507.7" cy="669.8"/><circle cx="534.6" cy="694.3"/><circle class="f" cx="561.3" cy="622.4"/><circle cx="539.2" cy="689.2"/><circle cx="541.9" cy="687.2"/><circle cx="579.5" cy="617.1"/><circle cx="538.3" cy="635.7"/><circle cx="568.7" cy="667.5"/><circle cx="553.7" cy="684.7"/><circle cx="547.2" cy="700.3"/><circle cx="558.9" cy="693.9"/><circle cx="539.7" cy="693.5"/><circle cx="595.8" cy="654.9"/><circle cx="552.7" cy="703"/><circle cx="553.4" cy="681.2"/><circle cx="585.3" cy="644.7"/><circle cx="554.5" cy="699.7"/><circle cx="547.9" cy="701.8"/><circle cx="551.3" cy="706.5"/><circle cx="544.4" cy="693.5"/><circle cx="506" cy="634"/><circle cx="548.8" cy="707.2"/><circle cx="553.2" cy="703.2"/><circle cx="528.3" cy="673.2"/><circle cx="500.7" cy="685.7"/><circle cx="538" cy="700.7"/><circle cx="543.7" cy="692.5"/><circle cx="569.9" cy="650"/><circle cx="539.3" cy="687.5"/><circle cx="551.2" cy="702.3"/><circle cx="544.3" cy="701.1"/><circle cx="552.9" cy="704.5"/><circle cx="551.7" cy="701"/><circle class="f" cx="584.1" cy="633.3"/><circle cx="536.3" cy="691"/><circle cx="506.2" cy="689"/><circle cx="579.1" cy="677.7"/><circle cx="549.3" cy="708.1"/><circle cx="552.6" cy="704.6"/><circle cx="525.1" cy="677.3"/><circle class="f" cx="566.9" cy="608.4"/><circle cx="539.8" cy="693"/><circle cx="586.9" cy="644.3"/><circle cx="536.5" cy="695.3"/><circle cx="539.4" cy="703.7"/><circle cx="583.8" cy="646.7"/><circle cx="530.7" cy="686.3"/><circle cx="562.5" cy="694"/><circle cx="557.6" cy="697"/><circle cx="544.1" cy="701"/><circle cx="541.7" cy="700.2"/><circle cx="540.7" cy="695.5"/><circle cx="543.7" cy="702.8"/><circle cx="543.8" cy="691.5"/><circle cx="569.3" cy="674.1"/><circle class="f" cx="501.8" cy="571"/><circle cx="567.7" cy="691"/><circle cx="576.2" cy="682.3"/><circle cx="525.2" cy="670.1"/><circle cx="577.1" cy="657.4"/><circle cx="567.9" cy="697.8"/><circle cx="552.1" cy="706.2"/><circle cx="559.5" cy="695.9"/><circle cx="553.8" cy="697"/><circle cx="573.1" cy="660.3"/><circle cx="550.5" cy="705.6"/><circle cx="587.9" cy="669.6"/><circle cx="560.6" cy="682.1"/><circle cx="542.7" cy="697.3"/><circle cx="549.6" cy="708.5"/><circle cx="531.1" cy="670.4"/><circle cx="559" cy="693"/><circle cx="559.3" cy="701.2"/><circle cx="552.9" cy="703"/><circle cx="596.6" cy="661.5"/><circle cx="540.6" cy="678.6"/><circle cx="550.4" cy="706.1"/><circle cx="540.7" cy="698.1"/><circle cx="548.1" cy="702.9"/><circle class="f" cx="522.2" cy="603.6"/><circle cx="553.6" cy="705"/><circle cx="551.7" cy="706.2"/><circle cx="547.2" cy="706.1"/><circle cx="543.8" cy="703.6"/><circle cx="558.5" cy="698.6"/><circle cx="541.9" cy="698.8"/><circle cx="572.7" cy="617"/><circle cx="547.9" cy="706.9"/><circle cx="547.4" cy="706.3"/><circle cx="549" cy="708.2"/><circle cx="549.5" cy="708.8"/><circle cx="559" cy="687.2"/><circle cx="551.2" cy="704.4"/><circle class="f" cx="504" cy="618.7"/><circle cx="541.7" cy="700.4"/><circle cx="609" cy="640"/><circle cx="568.1" cy="676.9"/><circle cx="548.8" cy="707.6"/><circle cx="545.1" cy="702.6"/><circle cx="545.5" cy="699.3"/><circle cx="544.3" cy="688.9"/><circle cx="543.2" cy="698.2"/><circle cx="533.6" cy="691.8"/><circle cx="532.4" cy="671.3"/><circle cx="578.1" cy="663.5"/><circle cx="546.2" cy="703"/><circle cx="558.1" cy="680.2"/><circle cx="534.9" cy="696.8"/><circle cx="569.3" cy="640.8"/><circle cx="536.5" cy="682.6"/><circle cx="551.8" cy="705.9"/><circle cx="531.9" cy="672.4"/><circle cx="609.1" cy="590"/><circle cx="594.5" cy="645.3"/><circle cx="513.6" cy="647.5"/><circle cx="548.1" cy="706.7"/><circle cx="542.9" cy="698.1"/><circle cx="545.7" cy="706.4"/><circle cx="541.4" cy="682.5"/><circle cx="550.3" cy="707.5"/><circle cx="521.5" cy="580.6"/><circle cx="541.4" cy="692.1"/><circle cx="559.1" cy="599.2"/><circle cx="541.8" cy="691.5"/><circle cx="536.8" cy="673.2"/><circle cx="594.1" cy="652.5"/><circle cx="550.1" cy="707.1"/><circle cx="535.6" cy="691.4"/><circle cx="545.3" cy="696"/><circle class="f" cx="530.5" cy="651.5"/><circle cx="543.8" cy="684.5"/><circle cx="543.3" cy="697.6"/><circle cx="539.2" cy="701.2"/><circle cx="549.1" cy="707.6"/><circle cx="561.5" cy="690.5"/><circle cx="559.7" cy="701"/><circle cx="544.1" cy="698.7"/><circle cx="530.1" cy="691.4"/><circle cx="552" cy="707.2"/><circle cx="558.1" cy="687.6"/><circle cx="550.2" cy="707.6"/><circle cx="525.4" cy="679.1"/><circle cx="566.4" cy="683.1"/><circle cx="556.2" cy="691.1"/><circle cx="568.8" cy="659"/><circle cx="547.3" cy="703.5"/><circle class="f" cx="585.9" cy="490.1"/><circle cx="549.7" cy="708.1"/><circle cx="530.3" cy="681.1"/><circle cx="594.4" cy="668.9"/><circle class="f" cx="568.2" cy="620.6"/><circle cx="544.8" cy="703.7"/><circle class="f" cx="563.5" cy="632.5"/><circle cx="548.9" cy="706.3"/><circle cx="539.6" cy="695.8"/><circle cx="571.6" cy="683.2"/><circle cx="547.7" cy="701"/><circle class="f" cx="575" cy="631.8"/><circle cx="536.7" cy="672.1"/><circle cx="550.6" cy="705.5"/><circle cx="548.6" cy="706.5"/><circle class="f" cx="560.1" cy="651.4"/><circle cx="548.1" cy="705.2"/><circle cx="543.8" cy="696.5"/><circle cx="519.2" cy="692.7"/><circle cx="540.3" cy="698.1"/><circle cx="601.3" cy="670.9"/><circle cx="555.3" cy="702.9"/><circle cx="546" cy="680.8"/><circle cx="556.9" cy="678.7"/><circle cx="506.6" cy="672.3"/><circle cx="537.1" cy="688.4"/><circle cx="567.7" cy="665.3"/><circle cx="551.9" cy="705.4"/><circle cx="532" cy="669"/><circle cx="548.5" cy="707.7"/><circle cx="537.7" cy="671.6"/><circle cx="553.3" cy="698.9"/><circle cx="516.9" cy="678.8"/><circle cx="535.5" cy="693.9"/><circle cx="536.6" cy="679.8"/><circle cx="560.8" cy="680.1"/><circle cx="557.6" cy="676"/><circle cx="550" cy="706.8"/><circle cx="566.1" cy="686.2"/><circle cx="544.6" cy="696.1"/><circle class="f" cx="460.3" cy="640.1"/><circle cx="577.7" cy="691.8"/><circle cx="541.6" cy="693.4"/><circle cx="582.5" cy="669.6"/><circle class="f" cx="525" cy="650.6"/><circle cx="557.3" cy="704.1"/><circle cx="542.8" cy="700.3"/><circle cx="548.8" cy="706.5"/><circle class="f" cx="463.1" cy="605.1"/><circle cx="546.8" cy="706.4"/><circle cx="557.4" cy="693.7"/><circle cx="548" cy="706.9"/><circle cx="551.3" cy="706.8"/><circle cx="567.5" cy="674.8"/><circle cx="502.3" cy="687.5"/><circle cx="551.2" cy="705.1"/><circle cx="533.9" cy="689.1"/><circle cx="560.4" cy="685"/><circle cx="556" cy="699.2"/><circle cx="553.9" cy="693.2"/><circle cx="540.4" cy="687"/><circle cx="542.4" cy="700.2"/><circle cx="545.3" cy="703.7"/><circle cx="545.7" cy="705.8"/><circle cx="584.6" cy="648.6"/><circle cx="539.8" cy="695.3"/><circle cx="557.6" cy="703"/><circle cx="558.7" cy="686.6"/><circle cx="546.3" cy="687"/><circle class="f" cx="520.2" cy="643.8"/><circle cx="543.3" cy="700.6"/><circle cx="553.9" cy="692"/><circle cx="481.9" cy="664.6"/><circle cx="545.1" cy="702.4"/><circle cx="511.1" cy="685.5"/><circle cx="535.5" cy="672.5"/><circle cx="574.1" cy="681.9"/><circle cx="546.9" cy="705.5"/><circle cx="548.9" cy="704"/><circle cx="560.6" cy="701.9"/><circle cx="565.3" cy="679.4"/><circle cx="557.2" cy="662"/><circle cx="521.8" cy="694.2"/><circle cx="553.4" cy="692.3"/><circle cx="579.1" cy="677.5"/><circle cx="524.3" cy="691.2"/><circle cx="551.2" cy="707.5"/><circle cx="543.3" cy="678.4"/><circle cx="537.8" cy="670"/><circle cx="562.8" cy="672.9"/><circle cx="546.9" cy="707"/><circle cx="549.4" cy="708.6"/><circle cx="536.4" cy="682.9"/><circle cx="541.9" cy="696.2"/><circle cx="545.7" cy="705"/><circle cx="546.8" cy="705.3"/><circle cx="561.2" cy="690.8"/><circle cx="546.4" cy="698.2"/><circle cx="551.5" cy="703.9"/><circle cx="560.8" cy="688.6"/><circle class="f" cx="515" cy="655"/><circle cx="550.2" cy="707.5"/><circle cx="582.4" cy="656"/><circle cx="544.3" cy="694.6"/><circle cx="547.5" cy="705.8"/><circle class="f" cx="597.7" cy="641.9"/><circle cx="534.1" cy="687.8"/><circle cx="561.2" cy="686.5"/><circle cx="589.9" cy="694.2"/><circle cx="534.2" cy="687.2"/><circle cx="556.5" cy="700.7"/><circle cx="566.8" cy="701.4"/><circle cx="542.8" cy="694.3"/><circle cx="534.5" cy="688.4"/><circle cx="546.1" cy="706.7"/><circle cx="522.5" cy="678.4"/><circle cx="544" cy="701.1"/><circle cx="529.5" cy="696.4"/><circle cx="546.3" cy="704.2"/><circle cx="556.8" cy="697"/><circle cx="550.4" cy="706.2"/><circle cx="541.7" cy="694.4"/><circle cx="550.8" cy="704.6"/><circle cx="537.7" cy="682.4"/><circle cx="525.8" cy="683"/><circle cx="542" cy="705.9"/><circle cx="534.6" cy="683.5"/><circle cx="534.1" cy="673.1"/><circle cx="568.8" cy="663"/><circle cx="552.8" cy="705.5"/><circle class="f" cx="582.8" cy="558.5"/><circle cx="557.5" cy="690"/><circle cx="563.7" cy="686"/><circle cx="542.2" cy="702.7"/><circle cx="556.1" cy="693.8"/><circle cx="549.8" cy="707.2"/><circle cx="511.9" cy="604.9"/><circle class="f" cx="584.3" cy="571.2"/><circle cx="581.2" cy="690.1"/><circle cx="521.1" cy="686.7"/><circle cx="552.9" cy="705.6"/><circle cx="539.5" cy="698"/><circle cx="538.6" cy="692.5"/><circle cx="543.9" cy="701.7"/><circle cx="534.9" cy="699.1"/><circle cx="545" cy="698"/><circle cx="523.1" cy="692.2"/><circle cx="553.2" cy="665.2"/><circle cx="551.2" cy="705.7"/><circle cx="535.8" cy="690.4"/><circle cx="578.9" cy="682.9"/><circle cx="535.3" cy="695.3"/><circle class="f" cx="580" cy="600.9"/><circle cx="548.8" cy="708"/><circle cx="537.2" cy="700.3"/><circle cx="544.1" cy="701.5"/><circle cx="568.5" cy="697.3"/><circle cx="585" cy="586"/><circle cx="539.1" cy="697.9"/><circle cx="542.5" cy="679.1"/><circle class="f" cx="533.3" cy="652.6"/><circle cx="593.3" cy="662.2"/><circle cx="542.4" cy="704.1"/><circle cx="546" cy="704.9"/><circle cx="529" cy="692.6"/><circle cx="543.8" cy="697.2"/><circle cx="565.6" cy="683.7"/><circle cx="545.9" cy="700.8"/><circle class="f" cx="529.4" cy="647.1"/><circle cx="555.1" cy="693.1"/><circle cx="552.7" cy="697.3"/><circle cx="553.9" cy="693.1"/><circle cx="546.4" cy="704.2"/><circle cx="531" cy="701.8"/><circle cx="547.4" cy="705.6"/><circle cx="555.7" cy="686.6"/><circle cx="513.1" cy="686.7"/><circle cx="549.2" cy="708.4"/><circle cx="560.1" cy="671.1"/><circle cx="551.1" cy="704.7"/><circle cx="538.1" cy="686.5"/><circle cx="556.6" cy="697.4"/><circle cx="547.8" cy="706.4"/><circle cx="536.9" cy="687.9"/><circle cx="553.9" cy="698.6"/><circle cx="561.2" cy="691.9"/><circle cx="539.5" cy="698.7"/><circle class="f" cx="494.4" cy="564.4"/><circle cx="564.8" cy="698.2"/><circle cx="539.4" cy="696.3"/><circle cx="541.8" cy="701.5"/><circle cx="550.6" cy="707.9"/><circle cx="550.9" cy="703.5"/><circle cx="534" cy="694.1"/><circle cx="549.3" cy="707.4"/><circle cx="541" cy="696.6"/><circle cx="538.9" cy="681"/><circle cx="552.1" cy="707"/><circle cx="536" cy="695.4"/><circle cx="563.1" cy="682.3"/><circle cx="548.1" cy="707.2"/><circle cx="562.8" cy="699.8"/><circle cx="563.1" cy="692.4"/><circle cx="551.4" cy="707.2"/><circle cx="556.2" cy="689.5"/><circle cx="539.1" cy="693.8"/><circle cx="547.1" cy="703.1"/><circle cx="540.8" cy="695.8"/><circle cx="538.4" cy="675.7"/><circle cx="539.9" cy="695.7"/><circle cx="555.8" cy="695.1"/><circle cx="551.1" cy="698"/><circle class="f" cx="570.6" cy="586.7"/><circle cx="548" cy="705.7"/><circle cx="552.8" cy="704.6"/><circle cx="545.2" cy="695.5"/><circle cx="547" cy="699.8"/><circle cx="565.4" cy="701.1"/><circle class="f" cx="621" cy="622"/><circle cx="562.5" cy="663"/><circle cx="565.5" cy="656.6"/><circle cx="550.2" cy="707.4"/><circle cx="542.8" cy="684.4"/><circle cx="554.5" cy="694.3"/><circle cx="564.9" cy="700.6"/><circle cx="562.8" cy="693.4"/><circle cx="568.4" cy="687.7"/><circle cx="554.5" cy="698.2"/><circle cx="539.5" cy="701.2"/><circle cx="544.6" cy="703.4"/><circle cx="544.2" cy="696.6"/><circle cx="597.1" cy="647.7"/><circle cx="547.5" cy="706"/><circle cx="528.1" cy="682.6"/><circle cx="540.1" cy="702.7"/><circle cx="544.9" cy="689.3"/><circle cx="546" cy="705.7"/><circle cx="537.2" cy="683.7"/><circle cx="538.4" cy="691.1"/><circle cx="527.9" cy="673.4"/><circle cx="563.8" cy="693.7"/><circle class="f" cx="507.3" cy="642.7"/><circle cx="569" cy="616.4"/><circle cx="543" cy="685"/><circle cx="555.9" cy="697.4"/><circle cx="570.3" cy="670.5"/><circle cx="536.6" cy="665.9"/><circle cx="546.6" cy="702.1"/><circle cx="542.5" cy="687.6"/><circle cx="545.5" cy="703"/><circle cx="567.4" cy="684.8"/><circle cx="536" cy="696.4"/><circle cx="547.5" cy="705.9"/><circle cx="555.5" cy="698.2"/><circle cx="563.9" cy="697.8"/><circle cx="550.2" cy="704.3"/><circle cx="557.3" cy="694"/><circle cx="562.9" cy="650.1"/><circle cx="529.9" cy="687.3"/><circle cx="516.8" cy="685.5"/><circle cx="544.7" cy="700.8"/><circle class="f" cx="569.4" cy="634.9"/><circle cx="527.7" cy="675"/><circle cx="541.4" cy="694.3"/><circle cx="556.3" cy="701.7"/><circle cx="569.5" cy="657.3"/><circle cx="564.6" cy="602.4"/><circle cx="537.5" cy="671.2"/><circle cx="554.9" cy="694.1"/><circle cx="550.4" cy="705.6"/><circle cx="545.7" cy="697.9"/><circle cx="555.1" cy="701.1"/><circle class="f" cx="575.1" cy="580.5"/><circle cx="531.8" cy="686.3"/><circle cx="543.5" cy="702.8"/><circle cx="549.6" cy="708.5"/><circle cx="566.9" cy="648.6"/><circle cx="540.5" cy="701.5"/><circle class="f" cx="499.2" cy="617.6"/><circle cx="573.8" cy="691"/><circle cx="547.6" cy="705.5"/><circle cx="504.2" cy="685.6"/><circle cx="544.6" cy="698.3"/><circle cx="559.3" cy="699.3"/><circle cx="571.4" cy="664.3"/><circle cx="529.9" cy="695.8"/><circle cx="527.1" cy="668"/><circle cx="580.9" cy="660.6"/><circle cx="555.1" cy="702.2"/><circle cx="551.1" cy="707"/><circle cx="550" cy="708.1"/><circle cx="569.1" cy="638.9"/><circle cx="532.7" cy="687"/><circle cx="553.4" cy="684.7"/><circle cx="565.4" cy="688.5"/><circle class="f" cx="567.2" cy="618.6"/><circle cx="557.4" cy="699.2"/><circle cx="557" cy="696.5"/><circle cx="557.3" cy="697.4"/><circle cx="596" cy="572"/><circle cx="579.1" cy="676.7"/><circle cx="542.5" cy="685.3"/><circle cx="546.3" cy="701.5"/><circle class="f" cx="507.7" cy="646.6"/><circle cx="562.7" cy="682.8"/><circle cx="555.7" cy="694.7"/><circle cx="535.6" cy="704.3"/><circle cx="514.2" cy="668.6"/><circle cx="556" cy="705.4"/><circle cx="547.1" cy="703.4"/><circle cx="546" cy="703.7"/><circle cx="577.1" cy="672.3"/><circle cx="552.7" cy="706.7"/><circle cx="559.7" cy="705"/><circle cx="551.5" cy="692.7"/><circle cx="550.6" cy="706.9"/><circle cx="571.9" cy="681"/><circle cx="514.6" cy="678.3"/><circle cx="512.2" cy="676.6"/><circle cx="563.5" cy="696.4"/><circle cx="551.3" cy="707.1"/><circle class="f" cx="578.9" cy="644.2"/><circle cx="546.2" cy="700.1"/><circle cx="568.5" cy="679.9"/><circle cx="541.4" cy="697.3"/><circle cx="518" cy="672.9"/><circle cx="511.6" cy="692.1"/><circle class="f" cx="489.1" cy="598.6"/><circle cx="538.1" cy="672.3"/><circle cx="554.6" cy="704.5"/><circle class="f" cx="604.2" cy="630.7"/><circle cx="564.7" cy="694.2"/><circle cx="569.5" cy="676.3"/><circle cx="541.8" cy="700.5"/><circle class="f" cx="582.6" cy="607.3"/><circle cx="568.5" cy="692.6"/><circle cx="561.3" cy="702.9"/><circle cx="570" cy="686.4"/><circle cx="546.3" cy="702.8"/><circle cx="550.2" cy="708.2"/><circle cx="544.8" cy="692.6"/><circle cx="560.9" cy="655.6"/><circle cx="555.3" cy="700.3"/><circle cx="561.6" cy="694.8"/><circle class="f" cx="570.7" cy="659"/><circle cx="553.3" cy="698.7"/><circle cx="542.6" cy="700.1"/><circle cx="551.6" cy="701.9"/><circle cx="564.8" cy="696.5"/><circle cx="563" cy="665.8"/><circle cx="540.6" cy="687.6"/><circle cx="543" cy="697.9"/><circle cx="538" cy="687.7"/><circle cx="556" cy="696.3"/><circle cx="543.4" cy="698.1"/><circle cx="557.9" cy="701.9"/><circle cx="520.7" cy="688.7"/><circle cx="568.5" cy="699.7"/><circle cx="560.6" cy="684.4"/><circle cx="548.2" cy="707.2"/><circle cx="571.3" cy="701.1"/><circle cx="558.2" cy="678.9"/><circle cx="544.8" cy="676.9"/><circle cx="554.1" cy="701.3"/><circle cx="551" cy="706"/><circle cx="552.4" cy="699.7"/><circle cx="540.4" cy="700.1"/><circle cx="549.3" cy="706.9"/><circle cx="562.6" cy="699"/><circle cx="550.1" cy="705.5"/><circle cx="576.3" cy="652.6"/><circle cx="574.9" cy="692.5"/><circle cx="530.9" cy="675.6"/><circle cx="547.2" cy="696.4"/><circle cx="567.4" cy="674.1"/><circle cx="553.6" cy="695.7"/><circle cx="535.2" cy="687.4"/><circle cx="534.5" cy="686.8"/><circle cx="546.1" cy="700.9"/><circle cx="550.6" cy="707.2"/><circle cx="553.3" cy="704.5"/><circle cx="574.1" cy="700.4"/><circle cx="523.8" cy="675.8"/><circle cx="571.2" cy="684.7"/><circle cx="546" cy="703.2"/><circle cx="547.5" cy="701.8"/><circle cx="545.5" cy="698.4"/><circle cx="547.2" cy="704.2"/><circle cx="560" cy="696.5"/><circle cx="548.9" cy="708.4"/><circle class="f" cx="526.8" cy="646.6"/><circle cx="548.1" cy="703.6"/><circle cx="541.4" cy="702.1"/><circle cx="550.3" cy="705.6"/><circle cx="569.8" cy="690.2"/><circle cx="544.3" cy="698"/><circle cx="566.5" cy="648.1"/><circle cx="552.1" cy="699.2"/><circle cx="551.7" cy="704.4"/><circle cx="549.9" cy="707.8"/><circle cx="560.1" cy="692.7"/><circle cx="545.3" cy="700.9"/><circle cx="546.7" cy="704.1"/><circle cx="557.8" cy="697.9"/><circle cx="554.7" cy="703.6"/><circle cx="612" cy="656"/><circle cx="544" cy="698"/><circle cx="560.6" cy="656"/><circle cx="553.6" cy="705.8"/><circle cx="536" cy="688.8"/><circle cx="563" cy="686.1"/><circle class="f" cx="559.1" cy="630.6"/><circle cx="549.2" cy="708.3"/><circle cx="561.9" cy="629.2"/><circle cx="551.4" cy="701.9"/><circle cx="555.4" cy="699.3"/><circle cx="536.3" cy="703.7"/><circle cx="554.4" cy="696.2"/><circle class="f" cx="614.3" cy="555.6"/><circle cx="566.3" cy="661.9"/><circle cx="550.3" cy="706.9"/><circle cx="548.5" cy="708.1"/><circle cx="547.5" cy="706.4"/><circle cx="499.6" cy="686.1"/><circle class="f" cx="564.8" cy="652.4"/><circle cx="549.5" cy="708"/><circle class="f" cx="500.1" cy="627.4"/><circle cx="552.1" cy="700.2"/><circle cx="554" cy="701.9"/><circle cx="581.4" cy="620.3"/><circle cx="534.6" cy="696"/><circle cx="546.5" cy="701.8"/><circle cx="573.3" cy="663.5"/><circle cx="483.7" cy="677.8"/><circle cx="552.2" cy="705.9"/><circle cx="553.1" cy="703.1"/><circle cx="545.1" cy="706.7"/><circle cx="537" cy="686.1"/><circle cx="549.4" cy="707.2"/><circle cx="549.7" cy="707"/><circle cx="549.8" cy="708.5"/><circle cx="545.9" cy="700.9"/><circle cx="554.7" cy="697.9"/><circle cx="548.7" cy="702.3"/><circle cx="549.1" cy="707.4"/><circle cx="545.3" cy="703.4"/><circle cx="567" cy="678.4"/><circle class="f" cx="559" cy="648.4"/><circle cx="556.4" cy="667.7"/><circle cx="562.1" cy="685.1"/><circle class="f" cx="565" cy="653.5"/><circle cx="551.8" cy="703.8"/><circle cx="558.5" cy="700.8"/><circle cx="569.2" cy="654.8"/><circle cx="589.6" cy="640.2"/><circle cx="561.2" cy="611.7"/><circle class="f" cx="497.5" cy="636.6"/><circle class="f" cx="564.3" cy="614.2"/><circle cx="533.4" cy="660.2"/><circle cx="549.7" cy="707.8"/><circle cx="551.3" cy="696.5"/><circle cx="548.6" cy="704.7"/><circle cx="555.2" cy="696.1"/><circle cx="570.3" cy="652.4"/><circle cx="547.3" cy="708"/><circle cx="547.3" cy="707.3"/><circle cx="589.6" cy="655.4"/><circle cx="547.9" cy="705.3"/><circle cx="519.6" cy="686.6"/><circle cx="573" cy="675.9"/><circle cx="551.8" cy="706.9"/><circle cx="543.2" cy="705.1"/><circle cx="557.6" cy="680.4"/><circle cx="599.5" cy="687.9"/><circle cx="609.6" cy="640.8"/><circle cx="535.1" cy="695.6"/><circle cx="590.1" cy="668.6"/><circle cx="547.9" cy="704.9"/><circle cx="549.8" cy="708.4"/><circle class="f" cx="525.9" cy="642.7"/><circle cx="547.8" cy="704.6"/><circle cx="556.5" cy="699.3"/><circle cx="562.9" cy="661"/><circle cx="541" cy="666.2"/><circle cx="524.6" cy="675.5"/><circle cx="530.2" cy="684.2"/><circle class="f" cx="533.3" cy="646.6"/><circle cx="559.4" cy="693.7"/><circle cx="557.4" cy="693.7"/><circle cx="545.3" cy="696.8"/><circle cx="569.4" cy="639.5"/><circle cx="538.4" cy="693.3"/><circle cx="553.1" cy="702.1"/><circle cx="557.5" cy="689.1"/><circle cx="574.8" cy="677.7"/><circle class="f" cx="527.4" cy="621.7"/><circle cx="537.8" cy="683.5"/><circle cx="539.4" cy="688.8"/><circle cx="554.3" cy="695.1"/><circle cx="556.6" cy="690.5"/><circle cx="541.1" cy="669.2"/><circle cx="569" cy="572"/><circle cx="537.9" cy="678"/><circle cx="543.6" cy="696.7"/><circle cx="522.8" cy="678.1"/><circle cx="551.9" cy="700.9"/><circle cx="535.5" cy="688.6"/><circle cx="562" cy="694.7"/><circle cx="564.7" cy="695.1"/><circle cx="541.2" cy="692.4"/><circle cx="551.1" cy="707.1"/><circle cx="543.5" cy="703.1"/><circle cx="573" cy="658"/><circle cx="547.5" cy="705.1"/><circle cx="512.5" cy="635"/><circle cx="565.3" cy="686.8"/><circle cx="556.6" cy="695.5"/><circle cx="565.9" cy="693.1"/><circle cx="553" cy="686.4"/><circle cx="546.4" cy="704.3"/><circle cx="552.2" cy="704.5"/><circle cx="562.6" cy="654.6"/><circle cx="526.6" cy="686.3"/><circle cx="556.8" cy="682.3"/><circle cx="550" cy="706.5"/><circle cx="553.2" cy="706.2"/><circle cx="483.4" cy="680"/><circle cx="539.1" cy="663.9"/><circle cx="546.6" cy="705.7"/><circle cx="520.7" cy="693.4"/><circle cx="536.1" cy="681.5"/><circle cx="524.5" cy="660.7"/><circle cx="562.6" cy="679.3"/><circle cx="554.6" cy="663"/><circle cx="543.5" cy="705.2"/><circle cx="545.7" cy="694"/><circle cx="558.8" cy="668.5"/><circle cx="578.9" cy="594.2"/><circle cx="543.9" cy="696.9"/><circle cx="558.9" cy="591.1"/><circle cx="569.6" cy="681.8"/><circle cx="549.6" cy="708.6"/><circle cx="569.1" cy="691.7"/><circle cx="548.5" cy="706.6"/><circle cx="556" cy="693.2"/><circle cx="532.7" cy="694.5"/><circle cx="541.8" cy="695.2"/><circle cx="549.8" cy="707.3"/><circle cx="547.1" cy="701.6"/><circle cx="539.3" cy="669.5"/><circle cx="579.4" cy="669.4"/><circle cx="569.3" cy="680.3"/><circle cx="551.1" cy="706.9"/><circle cx="538.6" cy="695"/><circle cx="559.3" cy="687.4"/><circle cx="549.8" cy="707.5"/><circle cx="554.9" cy="701.8"/><circle cx="553.6" cy="694.9"/><circle cx="517.8" cy="696.4"/><circle cx="560.8" cy="647"/><circle cx="571.9" cy="678.6"/><circle cx="550.1" cy="707.3"/><circle cx="554.2" cy="690.8"/><circle cx="582.6" cy="660.2"/><circle cx="562.3" cy="635.5"/><circle cx="549.8" cy="707.8"/><circle cx="554.4" cy="703.1"/><circle cx="588.3" cy="659.1"/><circle cx="564.9" cy="685.2"/><circle cx="549.6" cy="708.7"/><circle cx="462.6" cy="666.6"/><circle cx="545" cy="699.3"/><circle cx="551.2" cy="705.9"/><circle cx="556.2" cy="690.1"/><circle cx="565.2" cy="697.2"/><circle cx="553" cy="690.6"/><circle cx="558.7" cy="687"/><circle cx="523.7" cy="683.4"/><circle cx="556.1" cy="703.6"/><circle cx="545.9" cy="681.9"/><circle cx="560.5" cy="699.7"/><circle cx="550.8" cy="707.9"/><circle cx="546.4" cy="704.2"/><circle cx="554.3" cy="700.9"/><circle cx="553.5" cy="701.3"/><circle class="f" cx="585.5" cy="609.9"/><circle cx="535.4" cy="693.7"/><circle cx="554.4" cy="696.2"/><circle cx="540.7" cy="696.8"/><circle cx="559.7" cy="666.2"/><circle cx="548.9" cy="707.5"/><circle cx="543" cy="692.5"/><circle class="f" cx="525" cy="620.9"/><circle cx="550.1" cy="706.5"/><circle cx="533.3" cy="696"/><circle cx="533.9" cy="684.5"/><circle cx="504.6" cy="676.8"/><circle cx="540.7" cy="694.8"/><circle cx="544.7" cy="702.3"/><circle cx="522.8" cy="672.6"/><circle cx="570.4" cy="644"/><circle cx="537.4" cy="681.4"/><circle cx="555.1" cy="698.5"/><circle cx="528.6" cy="675.9"/><circle cx="589.7" cy="627"/><circle class="f" cx="563.3" cy="631.6"/><circle cx="555.2" cy="694.2"/><circle cx="556.3" cy="703.7"/><circle cx="529.9" cy="693.1"/><circle cx="548" cy="697.2"/><circle cx="534.6" cy="703.1"/><circle class="f" cx="584.3" cy="634.9"/><circle cx="539.7" cy="693.9"/><circle cx="544.9" cy="701.2"/><circle cx="537.4" cy="692.1"/><circle cx="566.7" cy="673.7"/><circle cx="593.5" cy="673.9"/><circle cx="546" cy="703.3"/><circle cx="543.7" cy="694.6"/><circle cx="556.5" cy="696.5"/><circle cx="553.9" cy="680"/><circle class="f" cx="560" cy="611.3"/><circle cx="564" cy="698.2"/><circle class="f" cx="565.5" cy="625.1"/><circle cx="559.5" cy="591"/><circle class="f" cx="582.6" cy="575.3"/><circle cx="540.2" cy="677.3"/><circle cx="540.6" cy="684.4"/><circle cx="546.7" cy="702.7"/><circle cx="535.5" cy="690.5"/><circle cx="535.6" cy="699.5"/><circle cx="559" cy="687.8"/><circle cx="557.9" cy="697.5"/><circle class="f" cx="598.2" cy="651.8"/><circle cx="579.4" cy="667.9"/><circle cx="568.5" cy="687.6"/><circle cx="544.8" cy="701.5"/><circle cx="540.9" cy="693.9"/><circle cx="541.9" cy="705.2"/><circle cx="549.2" cy="708.4"/><circle cx="552.5" cy="692.4"/><circle cx="549.8" cy="707.4"/><circle cx="524" cy="676.9"/><circle cx="548.1" cy="705.4"/><circle cx="550.7" cy="706.9"/><circle cx="572.1" cy="571.7"/><circle cx="553.8" cy="704.3"/><circle cx="555.7" cy="698.3"/><circle cx="566.8" cy="687.8"/><circle cx="566.9" cy="694.4"/><circle cx="558.8" cy="693.8"/><circle cx="545.1" cy="685.1"/><circle cx="552.5" cy="704.5"/><circle cx="541.2" cy="676.1"/><circle cx="528.2" cy="681"/><circle cx="518.4" cy="686"/><circle cx="535.4" cy="668.5"/><circle cx="523.7" cy="689.6"/><circle cx="550.6" cy="707.3"/><circle cx="539.1" cy="703"/><circle cx="542.1" cy="691.8"/><circle cx="539.7" cy="681.6"/><circle cx="562" cy="650.1"/><circle cx="515.7" cy="660.3"/><circle cx="568.9" cy="694"/><circle class="f" cx="537.9" cy="618.4"/><circle cx="557.1" cy="696.2"/><circle cx="542.4" cy="697.8"/><circle cx="543.3" cy="674.9"/><circle cx="578.9" cy="681"/><circle cx="497.8" cy="665.9"/><circle cx="555.4" cy="691.6"/><circle cx="485.7" cy="678.5"/><circle cx="543.7" cy="693.3"/><circle cx="550.5" cy="704.4"/><circle cx="543.8" cy="698.7"/><circle class="f" cx="564.6" cy="655.6"/><circle cx="558.4" cy="688.8"/><circle cx="565.9" cy="697.1"/><circle cx="550.9" cy="701"/><circle cx="575.7" cy="617.5"/><circle cx="545.6" cy="700.6"/><circle cx="569.3" cy="697.1"/><circle cx="568.4" cy="676.6"/><circle cx="555.7" cy="664.9"/><circle cx="542.5" cy="665.8"/><circle cx="530" cy="692.1"/><circle cx="524.3" cy="682.1"/><circle cx="560.6" cy="639.2"/><circle cx="545.7" cy="706.5"/><circle cx="553.4" cy="704"/><circle cx="544.6" cy="702.9"/><circle cx="551.8" cy="706.6"/><circle cx="563.2" cy="690.8"/><circle cx="547.9" cy="702"/><circle cx="554.7" cy="704.1"/><circle cx="537.3" cy="698.5"/><circle cx="550.3" cy="706.1"/><circle cx="549.7" cy="708.3"/><circle cx="551.3" cy="708"/><circle cx="553.6" cy="701.8"/><circle cx="541.2" cy="703.2"/><circle cx="573.5" cy="696.6"/><circle cx="549.8" cy="706.4"/><circle cx="538.9" cy="673.1"/><circle class="f" cx="566.8" cy="575.8"/><circle cx="545.2" cy="694.8"/><circle cx="560" cy="687.6"/><circle cx="559.5" cy="648.9"/><circle cx="558" cy="668.4"/><circle cx="548.3" cy="706.6"/><circle cx="566.1" cy="695.5"/><circle cx="569.6" cy="686.7"/><circle cx="543.9" cy="702.5"/><circle cx="570.2" cy="682.9"/><circle cx="553.3" cy="704.6"/><circle cx="539.4" cy="698.7"/><circle cx="548" cy="705.2"/><circle cx="581.4" cy="666"/><circle cx="553.1" cy="700.1"/><circle cx="554.1" cy="694.8"/><circle class="f" cx="522.8" cy="616.9"/><circle cx="545.6" cy="687.3"/><circle cx="550.3" cy="708.1"/><circle cx="559.4" cy="684.1"/><circle cx="540.7" cy="683.3"/><circle cx="509.9" cy="673.2"/><circle cx="550.1" cy="705.5"/><circle cx="558.5" cy="693"/><circle class="f" cx="561.9" cy="655.6"/><circle cx="551.2" cy="706.1"/><circle cx="557.1" cy="678.5"/><circle cx="549.4" cy="708.1"/><circle cx="552.5" cy="704.8"/><circle cx="549.9" cy="706.4"/><circle cx="552.5" cy="704.8"/><circle cx="554.8" cy="704.2"/><circle cx="556.4" cy="699.5"/><circle cx="544" cy="705.8"/><circle cx="552.6" cy="704.7"/><circle cx="566.1" cy="691.2"/><circle class="f" cx="506.6" cy="582.2"/><circle cx="545.2" cy="699.6"/><circle cx="536.4" cy="689.8"/><circle cx="545.5" cy="699.3"/><circle cx="553.2" cy="694.3"/><circle cx="532.9" cy="686.2"/><circle cx="560.3" cy="653.9"/><circle cx="537.3" cy="689.7"/><circle cx="552.1" cy="706.6"/><circle class="f" cx="563.5" cy="640.8"/><circle cx="549.3" cy="708.1"/><circle cx="540.4" cy="692.2"/><circle cx="580.4" cy="690.9"/><circle cx="542.9" cy="689.6"/><circle cx="533.9" cy="698.2"/><circle cx="551.2" cy="699.4"/><circle cx="545.7" cy="701.7"/><circle cx="551.6" cy="703.4"/><circle cx="528.5" cy="671"/><circle cx="566.7" cy="670.6"/><circle cx="534.3" cy="671.7"/><circle cx="545.6" cy="689.5"/><circle cx="538.1" cy="687.2"/><circle cx="580.4" cy="670.8"/><circle cx="548.2" cy="706.8"/><circle cx="561.9" cy="684.6"/><circle cx="546.5" cy="699.7"/><circle cx="579.2" cy="651.8"/><circle cx="554.9" cy="702.9"/><circle cx="556.6" cy="697.5"/><circle cx="555.3" cy="701"/><circle cx="549.8" cy="706.7"/><circle cx="559.4" cy="698.1"/><circle cx="555.4" cy="699"/><circle cx="548.1" cy="705"/><circle cx="551.2" cy="707.6"/><circle cx="546.7" cy="701.3"/><circle cx="555.1" cy="690.2"/><circle cx="547.5" cy="704.9"/><circle cx="534.8" cy="697.7"/><circle cx="545.8" cy="694.3"/><circle cx="543.6" cy="693.6"/><circle cx="547" cy="700.9"/><circle cx="538.9" cy="703.8"/><circle cx="550.6" cy="705.9"/><circle cx="547.7" cy="706.3"/><circle cx="596.4" cy="686.4"/><circle cx="543.3" cy="703.1"/><circle cx="538.7" cy="681.3"/><circle cx="561.3" cy="698.8"/><circle cx="566.1" cy="678.6"/><circle cx="545.8" cy="699.7"/><circle cx="545.2" cy="705.6"/><circle cx="518.1" cy="666.4"/><circle cx="551.5" cy="704.8"/><circle cx="563.5" cy="645.2"/><circle cx="563.2" cy="669"/><circle class="f" cx="574.9" cy="547"/><circle cx="557.1" cy="676"/><circle cx="549.6" cy="708.3"/><circle cx="549.4" cy="708.4"/><circle class="f" cx="494" cy="642.7"/><circle cx="547.1" cy="707.1"/><circle class="f" cx="583.2" cy="651.8"/><circle cx="545.9" cy="702.8"/><circle cx="559.6" cy="657.9"/><circle cx="555" cy="680.5"/><circle cx="561.3" cy="700.6"/><circle cx="537.1" cy="689.8"/><circle cx="556.8" cy="694.5"/><circle cx="554.1" cy="698.9"/><circle cx="535.7" cy="675.3"/><circle cx="508.4" cy="688"/><circle cx="529.9" cy="669"/><circle cx="545.4" cy="702.5"/><circle cx="575.1" cy="654.5"/><circle cx="585.2" cy="676.3"/><circle cx="558.7" cy="700.5"/><circle cx="558.8" cy="702.9"/><circle class="f" cx="507.7" cy="635"/><circle cx="546.1" cy="703"/><circle cx="544.4" cy="682.6"/><circle cx="555.9" cy="699.1"/><circle cx="537.2" cy="694.3"/><circle cx="550.1" cy="708"/><circle cx="557.4" cy="699.7"/><circle cx="507.9" cy="689.9"/><circle cx="558" cy="667.4"/><circle cx="537.6" cy="679.9"/><circle cx="541.4" cy="681.2"/><circle class="f" cx="589.2" cy="634.8"/><circle cx="594.8" cy="674.1"/><circle cx="572" cy="700.2"/><circle cx="553.8" cy="696.7"/><circle cx="590.5" cy="656.9"/><circle cx="558.8" cy="699.6"/><circle cx="565.5" cy="644.7"/><circle cx="541.6" cy="690.9"/><circle cx="590.3" cy="687.9"/><circle cx="539.5" cy="692.8"/><circle cx="549.2" cy="707.8"/><circle cx="554.9" cy="696.8"/><circle cx="541.8" cy="685.5"/><circle cx="550.9" cy="707.7"/><circle cx="538.8" cy="694"/><circle cx="560.2" cy="692.1"/><circle cx="554.2" cy="694"/><circle cx="582.9" cy="657.4"/><circle cx="536.5" cy="683.1"/><circle cx="525.7" cy="670.4"/><circle cx="561.8" cy="693.9"/><circle cx="551" cy="708.2"/><circle cx="519.9" cy="687.9"/><circle cx="541.1" cy="684.7"/><circle cx="580.3" cy="641.5"/><circle cx="592" cy="651.4"/><circle cx="568.5" cy="698"/><circle cx="550.6" cy="707"/><circle cx="565" cy="676.7"/><circle cx="568.5" cy="648.5"/><circle cx="552.1" cy="705.2"/><circle cx="549.9" cy="708.3"/><circle cx="557.3" cy="692.6"/><circle cx="534.1" cy="674.1"/><circle cx="551.8" cy="702.2"/><circle cx="543.9" cy="700.1"/><circle cx="548.4" cy="706.7"/><circle cx="552.9" cy="703.1"/><circle class="f" cx="570.8" cy="648.9"/><circle cx="555.6" cy="689.2"/><circle cx="554.7" cy="695.9"/><circle cx="546.4" cy="704.1"/><circle cx="560" cy="700"/><circle cx="547.4" cy="706.5"/><circle cx="533.2" cy="692.7"/><circle cx="566.7" cy="686"/><circle cx="601.8" cy="685"/><circle cx="569.2" cy="672.8"/><circle cx="551.1" cy="702.6"/><circle cx="554.6" cy="696.2"/><circle cx="553.3" cy="705.1"/><circle cx="567.7" cy="671.2"/><circle cx="541" cy="672.8"/><circle cx="551.2" cy="706.4"/><circle cx="538.2" cy="672.1"/><circle cx="543.8" cy="704.4"/><circle cx="544.4" cy="705.7"/><circle cx="539.3" cy="685.4"/><circle cx="526.6" cy="694.5"/><circle cx="552.4" cy="703.2"/><circle cx="553.1" cy="706.2"/><circle cx="547.8" cy="704.7"/><circle cx="555.8" cy="686.6"/><circle cx="545.2" cy="694.2"/><circle cx="552.9" cy="705.4"/><circle cx="547.6" cy="705.4"/><circle cx="555.7" cy="703.7"/><circle cx="549.9" cy="708.1"/><circle cx="555" cy="702.9"/><circle cx="526.9" cy="697"/><circle cx="550.1" cy="708.2"/><circle cx="559.4" cy="694.9"/><circle cx="541" cy="686.2"/><circle cx="503.1" cy="668.4"/><circle cx="555.2" cy="704.1"/><circle cx="563" cy="684.1"/><circle cx="547.7" cy="705.9"/><circle cx="534.3" cy="684.4"/><circle cx="542" cy="667.1"/><circle cx="554.7" cy="703.9"/><circle cx="561.5" cy="704.2"/><circle cx="554.5" cy="703.5"/><circle cx="549.1" cy="706.6"/><circle class="f" cx="535.9" cy="639.2"/><circle cx="577.5" cy="678.9"/><circle cx="540.1" cy="705.1"/><circle cx="552.4" cy="701.6"/><circle class="f" cx="526.3" cy="567.1"/><circle cx="560.7" cy="697.4"/><circle cx="541.9" cy="700"/><circle cx="562.1" cy="686.5"/><circle cx="542" cy="679.6"/><circle cx="551.9" cy="702.4"/><circle cx="549.6" cy="707.3"/><circle cx="533.2" cy="677.1"/><circle cx="518" cy="653.6"/><circle cx="555.4" cy="682.6"/><circle cx="551.1" cy="706.1"/><circle cx="553.4" cy="705.6"/><circle cx="546.6" cy="706.2"/><circle cx="548.5" cy="704.6"/><circle cx="549.5" cy="708.2"/><circle cx="565.5" cy="684.5"/><circle cx="551.8" cy="702.7"/><circle cx="564.6" cy="670.3"/><circle cx="563.5" cy="655.8"/><circle cx="543.7" cy="699.6"/><circle cx="578.4" cy="659.2"/><circle cx="555.5" cy="691.9"/><circle cx="534.3" cy="679.9"/><circle cx="547.3" cy="700.6"/><circle cx="557" cy="702.7"/><circle cx="562.2" cy="687.8"/><circle cx="585.9" cy="635.9"/><circle cx="548.7" cy="705.1"/><circle cx="547.9" cy="706.1"/><circle cx="542.2" cy="687.7"/><circle cx="544.9" cy="698.9"/><circle cx="564.5" cy="617.2"/><circle cx="552.5" cy="703.1"/><circle cx="570.9" cy="690.7"/><circle cx="564.2" cy="671.1"/><circle cx="559.4" cy="700.1"/><circle cx="553.2" cy="691.2"/><circle cx="516.1" cy="669.3"/><circle cx="562.9" cy="693.2"/><circle class="f" cx="514.3" cy="624.4"/><circle cx="498.3" cy="671.1"/><circle cx="557.6" cy="675.5"/><circle cx="536.6" cy="667.8"/><circle cx="557.7" cy="653.9"/><circle class="f" cx="592.4" cy="575.1"/><circle cx="547.3" cy="705.8"/><circle cx="582.4" cy="667.7"/><circle class="f" cx="487.2" cy="621.1"/><circle cx="550.2" cy="708"/><circle cx="533.3" cy="677.2"/><circle cx="556.4" cy="696"/><circle cx="553.6" cy="700.2"/><circle class="f" cx="508.6" cy="581.9"/><circle cx="534.7" cy="682"/><circle cx="528.2" cy="665.3"/><circle cx="563.5" cy="692.1"/><circle cx="596.9" cy="676.8"/><circle cx="606.2" cy="680.8"/><circle cx="550" cy="706.3"/><circle cx="547.2" cy="694.8"/><circle cx="546.4" cy="703.7"/><circle cx="554.1" cy="704.3"/><circle cx="543.3" cy="693.5"/><circle cx="549.7" cy="708.2"/><circle cx="558.2" cy="697.4"/><circle cx="542.1" cy="705.3"/><circle cx="550.9" cy="706.6"/><circle cx="551" cy="706"/><circle cx="562" cy="692.6"/><circle cx="539.7" cy="678.2"/><circle cx="570.6" cy="674.8"/><circle cx="562" cy="693.3"/><circle cx="552.7" cy="703.3"/><circle cx="536.4" cy="701.9"/><circle cx="582" cy="627.4"/><circle cx="490.7" cy="658"/><circle cx="550.5" cy="706.6"/><circle class="f" cx="579.4" cy="623.4"/><circle cx="535.6" cy="698.9"/><circle cx="553.9" cy="703.8"/><circle cx="546.7" cy="700.8"/><circle cx="565.7" cy="697.8"/><circle cx="555.7" cy="687.3"/><circle cx="602.3" cy="637.6"/><circle cx="543.3" cy="697.3"/><circle cx="558.3" cy="696.6"/><circle cx="558.2" cy="702.3"/><circle cx="560.9" cy="699.7"/><circle cx="583.1" cy="648.3"/><circle cx="536.5" cy="679"/><circle cx="561.2" cy="685.4"/><circle cx="548.4" cy="705.8"/><circle cx="533.2" cy="671"/><circle cx="551.3" cy="700.8"/><circle cx="544.2" cy="701.2"/><circle cx="533.6" cy="677.1"/><circle cx="551.4" cy="703.1"/><circle cx="533.2" cy="694.2"/><circle cx="552.4" cy="699.8"/><circle cx="538.3" cy="702"/><circle cx="543.6" cy="702"/><circle cx="555.1" cy="694.4"/><circle cx="548.4" cy="706.7"/><circle cx="549.5" cy="708.5"/><circle cx="548.4" cy="707.3"/><circle cx="553.4" cy="688"/><circle cx="554" cy="704.1"/><circle cx="542.3" cy="700.1"/><circle cx="577.3" cy="691.9"/><circle cx="565.7" cy="655"/><circle cx="559.9" cy="702.2"/><circle cx="533.6" cy="686.3"/><circle cx="584.6" cy="681.8"/><circle cx="552.4" cy="689"/><circle cx="546.2" cy="693.3"/><circle cx="533.6" cy="695.6"/><circle cx="576.6" cy="626.9"/><circle cx="537.7" cy="702.1"/><circle cx="553.7" cy="701.3"/><circle cx="581.6" cy="654.8"/><circle cx="583" cy="686.5"/><circle cx="539" cy="694.5"/><circle cx="552.5" cy="707.1"/><circle cx="554.2" cy="692.2"/><circle cx="542.1" cy="684.3"/><circle cx="547.6" cy="706.3"/><circle cx="555.8" cy="698.3"/><circle cx="539.4" cy="698.2"/><circle cx="531.1" cy="669.2"/><circle cx="542.1" cy="703.1"/><circle cx="528.9" cy="688.7"/><circle cx="536" cy="692.7"/><circle cx="549.5" cy="708.5"/><circle cx="538.6" cy="694.2"/><circle cx="551.5" cy="706.1"/><circle cx="535.5" cy="604"/><circle cx="542.3" cy="684.2"/><circle cx="536.5" cy="680.1"/><circle cx="552.4" cy="704.7"/><circle cx="548.4" cy="704.7"/><circle class="f" cx="570.4" cy="602.5"/><circle cx="527.6" cy="680.5"/><circle cx="538.6" cy="684"/><circle cx="533.3" cy="687.3"/><circle cx="541.6" cy="699.6"/><circle cx="565.6" cy="685.4"/><circle cx="557.3" cy="697.6"/><circle cx="550.3" cy="704.4"/><circle cx="541.5" cy="701.1"/><circle cx="529.6" cy="617.8"/><circle cx="547.7" cy="704.5"/><circle cx="568.2" cy="687"/><circle cx="533.9" cy="698.8"/><circle cx="547.4" cy="705.3"/><circle cx="537.9" cy="681.4"/><circle cx="546.5" cy="704.5"/><circle cx="539.5" cy="702.1"/><circle cx="544" cy="697"/><circle cx="548.2" cy="706.6"/><circle cx="546.3" cy="702.1"/><circle cx="529.4" cy="684.9"/><circle cx="559.7" cy="673.9"/><circle cx="584.1" cy="679.1"/><circle cx="580.2" cy="682.8"/><circle cx="524.7" cy="670.1"/><circle cx="562.3" cy="689.5"/><circle cx="545.1" cy="702.6"/><circle cx="558.1" cy="692.1"/><circle cx="543.3" cy="699.8"/><circle cx="548.6" cy="705.1"/><circle cx="544.6" cy="689.7"/><circle class="f" cx="608" cy="609"/><circle cx="537.9" cy="701"/><circle cx="549" cy="708.4"/><circle cx="553" cy="704.9"/><circle cx="545.1" cy="703.4"/><circle cx="540.4" cy="692.1"/><circle cx="528.7" cy="696"/><circle cx="557.5" cy="693.1"/><circle cx="581.1" cy="605.2"/><circle cx="559.7" cy="699.7"/><circle cx="550.4" cy="707.6"/><circle cx="538.9" cy="694.5"/><circle cx="564.8" cy="651.5"/><circle cx="523.8" cy="689.3"/><circle cx="520.2" cy="631.3"/><circle cx="536.7" cy="700.2"/><circle cx="537.9" cy="684.8"/><circle class="f" cx="491.8" cy="624.6"/><circle cx="557" cy="689.9"/><circle cx="560.9" cy="645.4"/><circle cx="549.3" cy="707.6"/><circle cx="552.9" cy="702.7"/><circle cx="553.9" cy="690.9"/><circle cx="546.8" cy="706.1"/><circle cx="543" cy="701.5"/><circle cx="543.7" cy="697.2"/><circle cx="544.1" cy="697.9"/><circle cx="544.5" cy="692.4"/><circle class="f" cx="602.6" cy="589"/><circle class="f" cx="578" cy="611.8"/><circle cx="552.6" cy="683.3"/><circle cx="546.5" cy="699.5"/><circle cx="568.7" cy="695.7"/><circle cx="545.6" cy="702.4"/><circle cx="594.2" cy="687.6"/><circle cx="550.1" cy="706.7"/><circle cx="517.2" cy="665.9"/><circle cx="567" cy="679.3"/><circle cx="546.1" cy="697.4"/><circle cx="543.6" cy="700.5"/><circle cx="559.8" cy="695.8"/><circle cx="548.9" cy="707.5"/><circle cx="557.5" cy="697.8"/><circle cx="539.9" cy="698.6"/><circle cx="551.7" cy="703.7"/><circle cx="521.8" cy="685.1"/><circle cx="556.6" cy="691.4"/><circle cx="541.2" cy="701.3"/><circle cx="531.1" cy="697.4"/><circle cx="552.4" cy="705.3"/><circle cx="550.3" cy="706.5"/><circle cx="547.5" cy="701"/><circle cx="524.2" cy="691.4"/><circle cx="535.3" cy="686.9"/><circle cx="524.2" cy="686.9"/><circle cx="535.3" cy="694.3"/><circle cx="559.5" cy="702.7"/><circle cx="557" cy="689.5"/><circle cx="569.1" cy="670.7"/><circle cx="564.2" cy="687.6"/><circle cx="530.3" cy="677.5"/><circle cx="549.8" cy="708.4"/><circle cx="561.5" cy="658.3"/><circle cx="473.8" cy="663.5"/><circle cx="549.8" cy="708.2"/><circle cx="551.9" cy="702.7"/><circle cx="566.8" cy="675.2"/><circle cx="551.9" cy="693.5"/><circle cx="553.7" cy="697.6"/><circle cx="554" cy="694.9"/><circle cx="550.4" cy="706"/><circle class="f" cx="520.2" cy="597.5"/><circle cx="562.1" cy="690.6"/><circle cx="555.4" cy="697.3"/><circle cx="527.8" cy="663"/><circle cx="558.5" cy="698.2"/><circle cx="557.6" cy="696"/><circle cx="558.8" cy="693"/><circle cx="537.5" cy="671.2"/><circle cx="548.7" cy="706.1"/><circle cx="552.1" cy="705.6"/><circle cx="573.5" cy="655.7"/><circle cx="556" cy="687.6"/><circle cx="585.4" cy="665.7"/><circle cx="551" cy="702.3"/><circle cx="558" cy="673.4"/><circle cx="565.2" cy="689.1"/><circle cx="511.2" cy="693.5"/><circle cx="557" cy="696.5"/><circle cx="553.5" cy="688.1"/><circle cx="556.6" cy="698"/><circle cx="554" cy="700.3"/><circle cx="571.6" cy="682.1"/><circle cx="543.7" cy="696.9"/><circle cx="543.9" cy="695.9"/><circle cx="546.3" cy="706.7"/><circle cx="574.5" cy="653.8"/><circle cx="568" cy="698.1"/><circle cx="535.9" cy="661.6"/><circle class="f" cx="512.5" cy="651"/><circle cx="571.2" cy="684.7"/><circle cx="553.9" cy="700.5"/><circle cx="532.2" cy="682.6"/><circle cx="545.4" cy="690.5"/><circle cx="542.6" cy="690.1"/><circle cx="557.4" cy="704.3"/><circle cx="552.4" cy="691.2"/><circle cx="548" cy="705.8"/><circle cx="572.1" cy="673.9"/><circle cx="584.6" cy="678.5"/><circle cx="533.7" cy="697.3"/><circle cx="559.2" cy="705.1"/><circle cx="564.6" cy="681.1"/><circle cx="540.5" cy="701.3"/><circle cx="535.4" cy="694.4"/><circle cx="552.3" cy="703.2"/><circle cx="545.5" cy="690.7"/><circle cx="524.4" cy="689.9"/><circle cx="556.9" cy="703"/><circle cx="552.5" cy="705.4"/><circle cx="553.2" cy="679.9"/><circle cx="596.7" cy="678.5"/><circle cx="538" cy="699.8"/><circle cx="544.8" cy="705"/><circle cx="551.5" cy="705.8"/><circle cx="525.4" cy="666.8"/><circle cx="554.4" cy="703.7"/><circle cx="542.6" cy="700.2"/><circle cx="566.7" cy="687.4"/><circle cx="546.8" cy="700.3"/><circle cx="544.4" cy="704.2"/><circle cx="570.4" cy="694.1"/><circle cx="556.4" cy="699.6"/><circle cx="577.5" cy="683.7"/><circle cx="558.2" cy="681.6"/><circle cx="552" cy="706.1"/><circle cx="538.3" cy="677.1"/><circle cx="516.5" cy="692.5"/><circle cx="535" cy="679.5"/><circle cx="521.6" cy="665.1"/><circle cx="571" cy="694.9"/><circle cx="552.1" cy="699.7"/><circle cx="542.6" cy="675.7"/><circle cx="549.1" cy="707.6"/><circle cx="553.2" cy="700.8"/><circle cx="571.8" cy="691.9"/><circle cx="560.6" cy="703.6"/><circle cx="542.1" cy="699.6"/><circle cx="595.1" cy="577"/><circle cx="568" cy="675.6"/><circle cx="577.3" cy="682.3"/><circle cx="567" cy="664.3"/><circle cx="522.5" cy="678.2"/><circle cx="546.6" cy="705.8"/><circle cx="569.2" cy="694.1"/><circle cx="555.8" cy="695.8"/><circle cx="530.2" cy="693.6"/><circle cx="547.3" cy="700.5"/><circle cx="563.6" cy="605.9"/><circle cx="553.8" cy="690.6"/><circle cx="569.3" cy="623.5"/><circle cx="555" cy="705.7"/><circle cx="551.8" cy="698"/><circle class="f" cx="567.7" cy="628.4"/><circle cx="576.8" cy="685.7"/><circle cx="559.1" cy="705.4"/><circle cx="499" cy="657.6"/><circle cx="544.6" cy="693.9"/><circle cx="558.6" cy="697.6"/><circle cx="563.2" cy="667.5"/><circle cx="568.3" cy="683.8"/><circle cx="540.8" cy="698.2"/><circle class="f" cx="574.6" cy="642.1"/><circle class="f" cx="536.6" cy="642.7"/><circle cx="549.6" cy="708"/><circle cx="549.7" cy="708.3"/><circle cx="544.5" cy="701.1"/><circle cx="538.2" cy="681.2"/><circle cx="535.3" cy="703.4"/><circle cx="536.2" cy="684.7"/><circle cx="547.5" cy="705.2"/><circle cx="537.1" cy="690.3"/><circle cx="552.4" cy="701.7"/><circle cx="560.5" cy="683.9"/><circle cx="543.6" cy="702.6"/><circle cx="544.9" cy="693"/><circle cx="522" cy="694.2"/><circle cx="539.5" cy="684.2"/><circle cx="541.5" cy="684"/><circle cx="488.1" cy="677.8"/><circle cx="572.4" cy="692.5"/><circle cx="537.4" cy="703.1"/><circle cx="554" cy="705"/><circle cx="551.7" cy="701.8"/><circle cx="573.3" cy="631.2"/><circle cx="527.1" cy="689.3"/><circle cx="520.4" cy="687.5"/><circle cx="561.9" cy="684.9"/><circle cx="574.7" cy="692.7"/><circle cx="543.9" cy="696.7"/><circle cx="552.1" cy="701.9"/><circle cx="555.4" cy="702.2"/><circle cx="561.2" cy="698.8"/><circle cx="557.9" cy="684.5"/><circle cx="543.1" cy="691.1"/><circle cx="583.7" cy="682.1"/><circle cx="534.3" cy="687.6"/><circle cx="560" cy="666.5"/><circle cx="516.4" cy="680.4"/><circle cx="558.8" cy="698.6"/><circle class="f" cx="500.1" cy="647.1"/><circle cx="600.3" cy="663.1"/><circle cx="544.7" cy="694.4"/><circle cx="498.3" cy="685.8"/><circle cx="570.3" cy="677.4"/><circle cx="540.2" cy="693.4"/><circle cx="555.3" cy="704.2"/><circle cx="545.1" cy="698.4"/><circle cx="556.5" cy="701.4"/><circle cx="550.9" cy="706.1"/><circle cx="521.2" cy="669"/><circle cx="546.8" cy="705.5"/><circle cx="556.7" cy="686.4"/><circle cx="545.7" cy="698.1"/><circle cx="548.8" cy="707.7"/><circle class="f" cx="540" cy="652"/><circle cx="532.4" cy="688.4"/><circle cx="568.8" cy="671.2"/><circle cx="549.8" cy="707.5"/><circle cx="554.6" cy="698.2"/><circle cx="543.7" cy="693.4"/><circle cx="564.1" cy="654.9"/><circle cx="559.1" cy="702.6"/><circle cx="545.6" cy="684.1"/><circle cx="555.7" cy="684.4"/><circle cx="566.3" cy="696.3"/><circle cx="563.1" cy="677.8"/><circle cx="547.2" cy="700.7"/><circle cx="578.6" cy="654.2"/><circle cx="540.5" cy="660.4"/><circle cx="547.5" cy="704.4"/><circle cx="545.9" cy="690.4"/><circle cx="540.8" cy="684.1"/><circle cx="548.6" cy="708.2"/><circle cx="537.4" cy="700.5"/><circle cx="593.4" cy="670.4"/><circle class="f" cx="502.3" cy="585.9"/><circle cx="535.8" cy="677.6"/><circle cx="508.6" cy="627.8"/><circle cx="550.8" cy="707.2"/><circle cx="542.9" cy="670.5"/><circle cx="546.6" cy="702.6"/><circle cx="553.6" cy="703.9"/><circle cx="558.4" cy="701.7"/><circle cx="555" cy="682.7"/><circle cx="582.8" cy="596.1"/><circle cx="589.7" cy="681.3"/><circle cx="523.5" cy="674"/><circle cx="551.6" cy="707.1"/><circle cx="548.6" cy="706"/><circle cx="561.4" cy="681"/><circle cx="544.3" cy="703.6"/><circle cx="566.4" cy="693"/><circle cx="530.1" cy="683.6"/><circle cx="566" cy="697.8"/><circle cx="534.7" cy="696.3"/><circle cx="545.7" cy="696"/><circle cx="528.5" cy="680.9"/><circle cx="558.2" cy="693.8"/><circle cx="563.4" cy="697.1"/><circle cx="547.9" cy="707.9"/><circle cx="546.2" cy="696.6"/><circle cx="559.8" cy="587.9"/><circle cx="538.7" cy="690.9"/><circle cx="550" cy="707.4"/><circle cx="541" cy="703.2"/><circle cx="549.9" cy="708.2"/><circle cx="543.4" cy="679.3"/><circle cx="546.6" cy="707.3"/><circle cx="562.6" cy="664.5"/><circle cx="556.2" cy="689.8"/><circle cx="531" cy="683.4"/><circle cx="540.5" cy="695.3"/><circle cx="549.8" cy="707.6"/><circle cx="552.1" cy="702.7"/><circle cx="553.3" cy="704"/><circle cx="562" cy="684.1"/><circle cx="551" cy="704.6"/><circle cx="555.9" cy="702.8"/><circle cx="525.7" cy="682.6"/><circle cx="557.2" cy="695.7"/><circle cx="539" cy="691.5"/><circle cx="558.4" cy="686.8"/><circle cx="567" cy="687.2"/><circle cx="549" cy="706.2"/><circle cx="555.5" cy="689.3"/><circle cx="534.8" cy="695.6"/><circle cx="544.3" cy="685.4"/><circle cx="540.2" cy="675"/><circle cx="548.7" cy="706"/><circle cx="538.9" cy="700.3"/><circle cx="552.2" cy="690.4"/><circle cx="557.6" cy="696.6"/><circle cx="566.2" cy="675.2"/><circle cx="549.6" cy="708.4"/><circle cx="552.9" cy="698.6"/><circle cx="557.1" cy="695.5"/><circle cx="552.6" cy="701.1"/><circle cx="532.8" cy="673.4"/><circle cx="564.5" cy="663.3"/><circle cx="554.5" cy="657.8"/><circle cx="553.7" cy="702"/><circle cx="546.2" cy="703.9"/><circle cx="585.4" cy="652.3"/><circle cx="570.5" cy="685"/><circle cx="547.1" cy="702.9"/><circle cx="543.4" cy="691.3"/><circle cx="532.3" cy="696.4"/><circle cx="563.8" cy="658.1"/><circle cx="540.4" cy="677"/><circle class="f" cx="617.5" cy="628"/><circle cx="559.4" cy="656.8"/><circle cx="551.1" cy="704.1"/><circle cx="561.2" cy="681.6"/><circle class="f" cx="583.6" cy="580.4"/><circle cx="555" cy="689.5"/><circle cx="562.6" cy="674.6"/><circle cx="549.5" cy="708"/><circle cx="552.4" cy="699.4"/><circle class="f" cx="557.4" cy="641.4"/><circle cx="566.4" cy="669.1"/><circle cx="547.7" cy="705.3"/><circle cx="543" cy="699.7"/><circle cx="554.4" cy="689.8"/><circle cx="597" cy="664.4"/><circle cx="562.2" cy="702.7"/><circle cx="542.6" cy="704.6"/><circle cx="560.4" cy="676.1"/><circle class="f" cx="499" cy="651"/><circle cx="567.6" cy="659.1"/><circle cx="579.8" cy="673.1"/><circle cx="561.1" cy="685.7"/><circle cx="545.9" cy="698.3"/><circle cx="538.7" cy="687.5"/><circle cx="545.4" cy="687.9"/><circle cx="557.4" cy="695.5"/><circle cx="552" cy="705.8"/><circle cx="549.6" cy="707.8"/><circle cx="566.4" cy="633.2"/><circle cx="549.6" cy="708"/><circle cx="536.2" cy="686.3"/><circle cx="534.7" cy="678.6"/><circle cx="561.9" cy="691.9"/><circle cx="545.2" cy="705"/><circle cx="546.6" cy="704.1"/><circle cx="535.7" cy="700.7"/><circle cx="538.3" cy="678.4"/><circle cx="540.2" cy="683.2"/><circle cx="543.7" cy="697.1"/><circle cx="544.1" cy="698.8"/><circle cx="550" cy="707.7"/><circle cx="590.6" cy="691.8"/><circle cx="570.1" cy="683.5"/><circle cx="547.2" cy="705.7"/><circle cx="575" cy="674"/><circle cx="576.6" cy="655"/><circle cx="528.5" cy="676.3"/><circle cx="556" cy="677.8"/><circle cx="524.6" cy="663.3"/><circle cx="555" cy="702.5"/><circle cx="550.2" cy="707.2"/><circle cx="562.4" cy="694.2"/><circle cx="553.1" cy="695"/><circle cx="494.1" cy="676.3"/><circle cx="550.3" cy="705.6"/><circle cx="549.2" cy="708.3"/><circle cx="552.4" cy="704.5"/><circle cx="542.8" cy="693.6"/><circle cx="550" cy="707.4"/><circle cx="557" cy="690.4"/><circle cx="550.5" cy="705.8"/><circle cx="547.8" cy="701.7"/><circle cx="545.4" cy="701.3"/><circle cx="547.4" cy="705.3"/><circle cx="554.2" cy="690.6"/><circle cx="543.4" cy="706.2"/><circle cx="527.7" cy="693.9"/><circle cx="541.9" cy="692.8"/><circle cx="559.8" cy="701.7"/><circle cx="551.8" cy="702.5"/><circle cx="547.3" cy="703.7"/><circle class="f" cx="586.6" cy="655.7"/><circle cx="555.8" cy="690.7"/><circle cx="568.8" cy="669.9"/><circle cx="576.8" cy="657.6"/><circle cx="544.6" cy="694.2"/><circle cx="549" cy="706.1"/><circle class="f" cx="562.7" cy="623.6"/><circle class="f" cx="501.4" cy="608.6"/><circle cx="566.8" cy="657.1"/><circle cx="557.1" cy="687"/><circle cx="549.1" cy="707.4"/><circle cx="563.3" cy="666.8"/><circle cx="565.2" cy="674.7"/><circle cx="544.8" cy="700.4"/><circle cx="508.9" cy="675.7"/><circle cx="568.6" cy="656.6"/><circle cx="537.1" cy="701.9"/><circle cx="549" cy="708.3"/><circle class="f" cx="574" cy="635"/><circle cx="537.9" cy="699.3"/><circle cx="507" cy="669.9"/><circle cx="540.4" cy="679.6"/><circle cx="520.6" cy="679.1"/><circle cx="563.3" cy="685.7"/><circle class="f" cx="558.6" cy="623.7"/><circle cx="550.7" cy="705.5"/><circle cx="535.2" cy="687"/><circle cx="555.6" cy="672.8"/><circle cx="586.1" cy="652.4"/><circle class="f" cx="535.9" cy="610"/><circle cx="550.5" cy="705.4"/><circle cx="486.8" cy="660.2"/><circle cx="489.7" cy="673.6"/><circle cx="575.3" cy="665.4"/><circle cx="550.4" cy="707.3"/><circle cx="554.3" cy="705.5"/><circle cx="500.5" cy="526.6"/><circle cx="549.6" cy="707.9"/><circle cx="545.6" cy="702.5"/><circle cx="557.9" cy="691.3"/><circle cx="558.2" cy="685.9"/><circle cx="538.5" cy="694.6"/><circle cx="546" cy="705"/><circle cx="552.1" cy="700.3"/><circle cx="522.1" cy="674.5"/><circle cx="566.9" cy="697.6"/><circle cx="531.1" cy="703.6"/><circle cx="550.2" cy="706.5"/><circle cx="540.1" cy="685.5"/><circle cx="556.4" cy="672"/><circle cx="544.5" cy="703.7"/><circle cx="554.2" cy="704.2"/><circle cx="570.3" cy="695.2"/><circle cx="554.7" cy="701.6"/><circle cx="558.6" cy="693.8"/><circle cx="544.4" cy="692.4"/><circle cx="554.8" cy="702.2"/><circle cx="531.1" cy="689.4"/><circle cx="560.4" cy="691"/><circle cx="554.4" cy="692.2"/><circle cx="569.7" cy="663.2"/><circle cx="540.9" cy="687.9"/><circle cx="543.2" cy="678.7"/><circle cx="531.4" cy="675.8"/><circle cx="562.8" cy="689.6"/><circle cx="561.2" cy="690.6"/><circle cx="563.3" cy="692.3"/><circle cx="551.8" cy="703"/><circle cx="535.4" cy="679.3"/><circle cx="555" cy="701.6"/><circle cx="532.6" cy="675.3"/><circle cx="531.9" cy="691.9"/><circle cx="570.2" cy="692.8"/><circle cx="572.1" cy="653.5"/><circle cx="556.5" cy="705.8"/><circle cx="549.1" cy="706.3"/><circle cx="539.2" cy="666.1"/><circle cx="529.6" cy="679.2"/><circle cx="512.7" cy="684"/><circle cx="558.2" cy="677.7"/><circle cx="587.6" cy="590"/><circle class="f" cx="595.8" cy="607.8"/><circle cx="547.4" cy="699.2"/><circle class="f" cx="521.9" cy="649.3"/><circle cx="543.2" cy="699.2"/><circle cx="559.4" cy="686.7"/><circle cx="537.6" cy="701.2"/><circle cx="545.9" cy="694.4"/><circle cx="543.9" cy="706.2"/><circle cx="527.5" cy="667"/><circle cx="539.7" cy="686.2"/><circle cx="515.8" cy="689.5"/><circle cx="535.8" cy="668.1"/><circle cx="537.8" cy="678.4"/><circle cx="531" cy="684.8"/><circle cx="553.5" cy="694.1"/><circle cx="553.8" cy="697.7"/><circle cx="542.5" cy="699.9"/><circle cx="540.5" cy="697.7"/><circle cx="573.5" cy="654.7"/><circle cx="531.1" cy="666.1"/><circle cx="545.8" cy="699.6"/><circle cx="533.8" cy="699.1"/><circle cx="540" cy="700.3"/><circle cx="557.6" cy="698.8"/><circle cx="565.5" cy="659.4"/><circle cx="543.6" cy="703.9"/><circle cx="564.3" cy="653.8"/><circle cx="545.5" cy="703.3"/><circle cx="550.2" cy="706.5"/><circle cx="565.5" cy="693.2"/><circle cx="551.9" cy="704.8"/><circle cx="550.1" cy="706.8"/><circle cx="555.4" cy="693.5"/><circle cx="530.7" cy="631.8"/><circle cx="547.3" cy="700.6"/><circle cx="548.6" cy="704.3"/><circle cx="609.8" cy="643.3"/><circle cx="549.1" cy="707.7"/><circle cx="557.7" cy="701.4"/><circle cx="560.6" cy="682.3"/><circle cx="551.3" cy="706.1"/><circle cx="534.1" cy="668.9"/><circle cx="549.1" cy="708"/><circle cx="550.3" cy="706.2"/><circle cx="530.5" cy="691.7"/><circle cx="504.9" cy="655.8"/><circle cx="556.8" cy="702.8"/><circle cx="569.1" cy="632.3"/><circle cx="561.7" cy="685"/><circle cx="545.8" cy="693.1"/><circle cx="557.9" cy="697.8"/><circle class="f" cx="570" cy="619.5"/><circle cx="560.9" cy="693.2"/><circle cx="558.2" cy="697.6"/><circle cx="571.4" cy="644"/><circle cx="550.9" cy="702.7"/><circle cx="558.1" cy="689"/><circle cx="534.2" cy="662.1"/><circle cx="565" cy="698.1"/><circle cx="543.9" cy="697.8"/><circle cx="550.5" cy="707.8"/><circle cx="551.1" cy="706.3"/><circle cx="556.1" cy="698.8"/><circle cx="551.9" cy="707.7"/><circle cx="547.1" cy="704.8"/><circle cx="554.4" cy="694.8"/><circle cx="549.8" cy="707.9"/><circle cx="561" cy="691.5"/><circle cx="556.6" cy="685.3"/><circle class="f" cx="573.9" cy="630.1"/><circle cx="535.5" cy="672.4"/><circle cx="551.5" cy="704.3"/><circle cx="544.8" cy="697.3"/><circle cx="558.1" cy="698"/><circle cx="541.5" cy="697.7"/><circle cx="539.7" cy="692"/><circle cx="559.4" cy="692.4"/><circle cx="552.6" cy="704.5"/><circle cx="550.5" cy="706.5"/><circle cx="542" cy="671.6"/><circle cx="545.1" cy="701.1"/><circle cx="567.7" cy="696"/><circle cx="570.2" cy="657.8"/><circle cx="537.7" cy="682.9"/><circle cx="548.4" cy="707.3"/><circle cx="545.9" cy="704.9"/><circle cx="543.5" cy="692.7"/><circle cx="544.6" cy="679.7"/><circle cx="545.7" cy="702.4"/><circle class="f" cx="577.2" cy="653.9"/><circle cx="544.1" cy="695.4"/><circle cx="540.2" cy="688.8"/><circle cx="555.6" cy="703.8"/><circle cx="533.2" cy="672"/><circle cx="545.3" cy="695.3"/><circle cx="539.2" cy="698.1"/><circle cx="530.5" cy="685.4"/><circle class="f" cx="483.7" cy="624.8"/><circle cx="559.5" cy="665.1"/><circle cx="531.3" cy="693.8"/><circle cx="552.6" cy="705"/><circle cx="559.6" cy="686.7"/><circle cx="534.2" cy="681.3"/><circle cx="530" cy="673.2"/><circle cx="561.8" cy="700.1"/><circle cx="546.7" cy="703.5"/><circle cx="539" cy="681.4"/><circle cx="557.2" cy="691.6"/><circle cx="539.3" cy="687.5"/><circle cx="534" cy="684.5"/><circle cx="552.7" cy="699.1"/><circle class="f" cx="516.9" cy="644.9"/><circle cx="529.6" cy="669.8"/><circle cx="574.6" cy="697.7"/><circle cx="553.5" cy="690.6"/><circle cx="511.1" cy="675.4"/><circle class="f" cx="602.2" cy="530.1"/><circle cx="553.5" cy="680.8"/><circle cx="548.3" cy="707.9"/><circle cx="558.5" cy="693.6"/><circle cx="545.4" cy="692.1"/><circle cx="559.5" cy="680.2"/><circle cx="564.7" cy="678.3"/><circle cx="542.7" cy="678.8"/><circle cx="548" cy="704.8"/><circle cx="548.8" cy="707.8"/><circle cx="553.9" cy="701.8"/><circle cx="570.8" cy="580.2"/><circle cx="564.9" cy="669.6"/><circle cx="540" cy="686.5"/><circle cx="549.7" cy="707.5"/><circle cx="561.4" cy="679.5"/><circle cx="564.5" cy="695"/><circle cx="558.5" cy="701"/><circle class="f" cx="574" cy="570.6"/><circle cx="564.2" cy="683.3"/><circle class="f" cx="566" cy="635.5"/><circle cx="551.2" cy="707.7"/><circle cx="536.5" cy="704.8"/><circle cx="561.2" cy="679.4"/><circle cx="575.2" cy="675.2"/><circle class="f" cx="536" cy="657"/><circle cx="544" cy="685.3"/><circle cx="554.4" cy="694.5"/><circle cx="551.5" cy="697.2"/><circle cx="574.4" cy="697.6"/><circle cx="543.7" cy="703.2"/><circle cx="551.4" cy="701.7"/><circle cx="547.7" cy="707.5"/><circle cx="554.3" cy="701.6"/><circle cx="532.3" cy="696.6"/><circle cx="549.3" cy="708.1"/><circle cx="506.4" cy="555.3"/><circle cx="554.2" cy="691.8"/><circle cx="563.3" cy="695"/><circle cx="545.9" cy="705.4"/><circle cx="542.9" cy="683.3"/><circle cx="555.8" cy="687.2"/><circle cx="512.8" cy="671.3"/><circle cx="566" cy="690.1"/><circle cx="543.1" cy="692.4"/><circle cx="558.9" cy="701.6"/><circle cx="510.2" cy="682"/><circle cx="531.4" cy="684.2"/><circle cx="521.4" cy="661.5"/><circle cx="549.8" cy="708.5"/><circle cx="541.7" cy="697.8"/><circle cx="533.5" cy="690.9"/><circle cx="473.5" cy="672.3"/><circle cx="539.1" cy="667.7"/><circle cx="557.6" cy="672"/><circle cx="552.1" cy="705.2"/><circle cx="521.3" cy="677"/><circle cx="499" cy="662.9"/><circle cx="532.6" cy="695.7"/><circle cx="545.5" cy="702.1"/><circle cx="515.8" cy="667.8"/><circle class="f" cx="559.8" cy="642.6"/><circle cx="550.9" cy="707.3"/><circle class="f" cx="492.4" cy="572.3"/><circle cx="546.4" cy="702.7"/><circle cx="557.5" cy="704.6"/><circle cx="555.2" cy="701.2"/><circle cx="540.9" cy="682"/><circle cx="539.4" cy="697.5"/><circle cx="572" cy="682.9"/><circle cx="541.4" cy="671.3"/><circle cx="550.1" cy="707.7"/><circle cx="528.1" cy="669.3"/><circle cx="549.8" cy="708.2"/><circle cx="554.9" cy="706.7"/><circle cx="558.4" cy="701.9"/><circle cx="550" cy="707.7"/><circle cx="514.7" cy="661.8"/><circle cx="552.9" cy="702.1"/><circle cx="536.8" cy="696.5"/><circle cx="550.6" cy="704.9"/><circle cx="550" cy="707"/><circle cx="527.5" cy="672.1"/><circle class="f" cx="582.4" cy="657.3"/><circle cx="544" cy="702.4"/><circle cx="538.8" cy="697.5"/><circle cx="552.4" cy="702.8"/><circle cx="552.2" cy="705.6"/><circle cx="605.3" cy="645.2"/><circle cx="539.7" cy="697.8"/><circle cx="551.3" cy="705.2"/><circle cx="553.5" cy="697.5"/><circle cx="562.3" cy="695.7"/><circle cx="546.3" cy="701.9"/><circle cx="569.4" cy="631.2"/><circle cx="552.2" cy="693.1"/><circle cx="540.5" cy="703.8"/><circle cx="578.7" cy="655.9"/><circle cx="559.1" cy="682.1"/><circle cx="548.6" cy="706.7"/><circle cx="528.2" cy="677.6"/><circle class="f" cx="565.2" cy="608.6"/><circle cx="570.1" cy="681.9"/><circle cx="561.4" cy="672.1"/><circle cx="549.4" cy="707.7"/><circle cx="564.7" cy="666.2"/><circle cx="550.9" cy="704.3"/><circle cx="563.4" cy="657.1"/><circle class="f" cx="586.6" cy="599.5"/><circle cx="530.1" cy="675.6"/><circle cx="528.1" cy="698.3"/><circle cx="550.8" cy="706.7"/><circle cx="546.4" cy="703.7"/><circle cx="517.7" cy="681.1"/><circle class="f" cx="522.2" cy="629.2"/><circle class="f" cx="563.4" cy="621.2"/><circle cx="586.4" cy="676.1"/><circle cx="546.8" cy="704"/><circle cx="558" cy="693.5"/><circle cx="541.1" cy="702.6"/><circle cx="534.7" cy="689.7"/><circle cx="527.7" cy="683.5"/><circle class="f" cx="606" cy="618"/><circle cx="557.9" cy="695.5"/><circle cx="539" cy="694.5"/><circle cx="567.5" cy="668.9"/><circle cx="568.2" cy="663.7"/><circle cx="551.8" cy="707.7"/><circle cx="540.7" cy="699.4"/><circle cx="561.1" cy="643.1"/><circle cx="558.3" cy="692.6"/><circle cx="543.1" cy="702"/><circle cx="558" cy="694.5"/><circle cx="537.7" cy="698.5"/><circle cx="529.8" cy="679.8"/><circle cx="562" cy="630.2"/><circle cx="546.2" cy="705.6"/><circle cx="543.8" cy="698.2"/><circle cx="563.3" cy="653.5"/><circle cx="539.3" cy="698.3"/><circle cx="571.5" cy="692.2"/><circle cx="559.6" cy="690.9"/><circle cx="550.8" cy="705.1"/><circle cx="564.9" cy="697"/><circle cx="559.2" cy="702.8"/><circle cx="559.2" cy="691.6"/><circle cx="543.9" cy="704"/><circle cx="540.4" cy="705.4"/><circle cx="547.5" cy="701.9"/><circle cx="551.3" cy="703.7"/><circle class="f" cx="590.2" cy="659"/><circle cx="560.5" cy="697.7"/><circle cx="552.1" cy="701.5"/><circle class="f" cx="576.7" cy="599.2"/><circle cx="560.4" cy="689.8"/><circle cx="559.8" cy="689.4"/><circle cx="525.1" cy="673.7"/><circle cx="555.7" cy="694.9"/><circle cx="562.2" cy="699.5"/><circle cx="537.2" cy="693.2"/><circle cx="547.3" cy="699.4"/><circle class="f" cx="594" cy="642.2"/><circle cx="547" cy="707"/><circle class="f" cx="497.9" cy="582.4"/><circle class="f" cx="494" cy="614.5"/><circle cx="572.2" cy="685.5"/><circle cx="594.7" cy="692.6"/><circle cx="559.5" cy="696"/><circle cx="556.2" cy="688.1"/><circle cx="538.5" cy="670.2"/><circle cx="554.7" cy="689.2"/><circle cx="557.7" cy="700.8"/><circle cx="567.3" cy="657.7"/><circle cx="549.7" cy="708.5"/><circle cx="561.6" cy="688.8"/><circle cx="549.7" cy="708.1"/><circle cx="546.7" cy="698.9"/><circle cx="534.9" cy="688.8"/><circle cx="552.1" cy="699.4"/><circle class="f" cx="530" cy="656"/><circle cx="541" cy="703.5"/><circle cx="536.7" cy="695.1"/><circle cx="539.8" cy="697.4"/><circle cx="542.8" cy="698"/><circle cx="534.3" cy="692.8"/><circle cx="592.3" cy="644.7"/><circle cx="547.3" cy="704.7"/><circle cx="547.9" cy="704.8"/><circle cx="554.3" cy="677.6"/><circle cx="577.9" cy="680.2"/><circle cx="552.8" cy="705.4"/><circle cx="537.5" cy="681.6"/><circle cx="546.1" cy="693.5"/><circle cx="546.8" cy="702.3"/><circle cx="548.5" cy="701.3"/><circle cx="546.7" cy="693.6"/><circle cx="549.3" cy="708.3"/><circle cx="549.9" cy="707.3"/><circle cx="551.5" cy="707.1"/><circle cx="543.3" cy="694.7"/><circle cx="538.9" cy="686.1"/><circle cx="555.3" cy="695.4"/><circle cx="540" cy="678.5"/><circle class="f" cx="558.1" cy="558.5"/><circle cx="543.3" cy="699.4"/><circle cx="511" cy="673"/><circle class="f" cx="510.4" cy="599.4"/><circle cx="560.1" cy="681.8"/><circle cx="562.8" cy="693.4"/><circle cx="490.7" cy="669.7"/><circle cx="558.5" cy="697.1"/><circle cx="534.6" cy="685.7"/><circle cx="556.5" cy="693.1"/><circle cx="543.7" cy="706.3"/><circle cx="580.4" cy="695.8"/><circle cx="555.7" cy="695.4"/><circle cx="580.4" cy="673.8"/><circle cx="549.6" cy="708.2"/><circle cx="555.8" cy="702.2"/><circle cx="576.2" cy="678.1"/><circle cx="564.5" cy="697.8"/><circle cx="551.3" cy="705.3"/><circle cx="589.8" cy="694.5"/><circle cx="570" cy="701.8"/><circle cx="535.3" cy="690"/><circle cx="562.4" cy="695.9"/><circle cx="544.4" cy="701.1"/><circle cx="552.9" cy="701.6"/><circle cx="556" cy="693.8"/><circle cx="551.4" cy="707.6"/><circle cx="535.8" cy="680"/><circle cx="562.8" cy="685.4"/><circle cx="570.8" cy="686.6"/><circle class="f" cx="491.8" cy="565.5"/><circle cx="539.3" cy="669.8"/><circle cx="553.4" cy="694.7"/><circle cx="559.9" cy="688.9"/><circle cx="551.9" cy="705.5"/><circle cx="561.7" cy="684.3"/><circle cx="583.1" cy="657.7"/><circle cx="528.5" cy="690.1"/><circle cx="561.5" cy="659.2"/><circle cx="571.9" cy="651.3"/><circle cx="530.8" cy="696.1"/><circle cx="570.6" cy="688.6"/><circle cx="535.3" cy="699.4"/><circle cx="564.8" cy="570.8"/><circle cx="543.5" cy="688.3"/><circle cx="559.6" cy="690.1"/><circle cx="482.6" cy="660.9"/><circle cx="559.9" cy="703.9"/><circle cx="579.6" cy="689.7"/><circle cx="568.6" cy="679.3"/><circle cx="554.7" cy="696.5"/><circle cx="546" cy="690.1"/><circle cx="541.7" cy="691.2"/><circle cx="551.7" cy="701.7"/><circle cx="548.4" cy="707.3"/><circle class="f" cx="583.9" cy="656"/><circle cx="543.6" cy="702.3"/><circle cx="542.5" cy="673.9"/><circle cx="573.8" cy="658.1"/><circle cx="564.3" cy="699.4"/><circle cx="557.4" cy="702.9"/><circle cx="552.7" cy="703.4"/><circle cx="554" cy="692.7"/><circle cx="553.1" cy="701.7"/><circle cx="532" cy="684.4"/><circle cx="560.5" cy="693.1"/><circle cx="561.2" cy="699.7"/><circle cx="540.8" cy="685.5"/><circle cx="546.1" cy="704.4"/><circle class="f" cx="462.3" cy="641.6"/><circle cx="538.7" cy="699.9"/><circle cx="538.1" cy="696"/><circle class="f" cx="498.3" cy="568.4"/><circle cx="539.4" cy="686.7"/><circle class="f" cx="511.5" cy="606"/><circle cx="537.6" cy="698.6"/><circle cx="548.9" cy="705"/><circle cx="552.5" cy="699.9"/><circle cx="548.3" cy="707.9"/><circle cx="566.9" cy="667.7"/><circle cx="556.1" cy="692.7"/><circle cx="542.4" cy="701.4"/><circle cx="556.6" cy="702.3"/><circle cx="528.1" cy="700.3"/><circle cx="585.3" cy="657.2"/><circle cx="557" cy="693.6"/><circle class="f" cx="591.3" cy="634.6"/><circle cx="537.9" cy="673"/><circle cx="562.9" cy="673.7"/><circle cx="550.2" cy="707.5"/><circle cx="550" cy="706.9"/><circle cx="558.1" cy="687"/><circle cx="562" cy="676.8"/><circle cx="579.5" cy="675.1"/><circle cx="559.6" cy="668.6"/><circle cx="572.9" cy="668"/><circle cx="565.8" cy="689.3"/><circle cx="543.8" cy="689.1"/><circle cx="555.2" cy="704.2"/><circle class="f" cx="513" cy="587"/><circle cx="538.8" cy="682.5"/><circle cx="556.6" cy="693.2"/><circle cx="569" cy="686.9"/><circle cx="540" cy="696.3"/><circle cx="560.9" cy="701"/><circle cx="543.9" cy="698.1"/><circle cx="548.9" cy="707.2"/><circle cx="523.1" cy="670.3"/><circle cx="557.5" cy="692"/><circle cx="541" cy="696.7"/><circle cx="548.5" cy="707.9"/><circle cx="568.4" cy="680.6"/><circle cx="553.1" cy="702.2"/><circle cx="556.3" cy="690.9"/><circle cx="564.5" cy="690.9"/><circle cx="560.3" cy="696.5"/><circle cx="566.8" cy="681.9"/></g>
</g>
<line x1="542.5" y1="470.4" x2="542.5" y2="721.5" stroke="#555" stroke-width="0.9" stroke-dasharray="4.2,2.4"/>
<line x1="549.5" y1="470.4" x2="549.5" y2="721.5" stroke="#555" stroke-width="0.9" stroke-dasharray="4.2,2.4"/>
<line x1="556.5" y1="470.4" x2="556.5" y2="721.5" stroke="#555" stroke-width="0.9" stroke-dasharray="4.2,2.4"/>
<line x1="424.1" y1="661.1" x2="675.6" y2="661.1" stroke="#555" stroke-width="0.9" stroke-dasharray="4.2,2.4"/>
<circle cx="569" cy="602.8" r="1.7" fill="#f02a10"/>
<circle cx="569.7" cy="624" r="1.7" fill="#f02a10"/>
<circle cx="565" cy="633.8" r="1.7" fill="#f02a10"/>
<circle cx="569" cy="636.4" r="1.7" fill="#f02a10"/>
<circle cx="565.8" cy="640.4" r="1.7" fill="#f02a10"/>
<circle cx="604.7" cy="638.6" r="1.7" fill="#f02a10"/>
<circle cx="579.9" cy="651" r="1.7" fill="#f02a10"/>
<line x1="598.9" y1="583.9" x2="573.7" y2="599.8" stroke="#111" stroke-width="0.85"/>
<path d="M571.2,601.4 L572.9,598.5 L574.5,601.1Z" fill="#111"/>
<line x1="598.2" y1="599.9" x2="572.7" y2="620.7" stroke="#111" stroke-width="0.85"/>
<path d="M570.4,622.6 L571.8,619.5 L573.7,621.9Z" fill="#111"/>
<line x1="612" y1="600.7" x2="567.7" y2="632.5" stroke="#111" stroke-width="0.85"/>
<path d="M565.3,634.2 L566.9,631.2 L568.6,633.7Z" fill="#111"/>
<line x1="598.9" y1="618.2" x2="573.8" y2="632.7" stroke="#111" stroke-width="0.85"/>
<path d="M571.2,634.2 L573,631.4 L574.5,634Z" fill="#111"/>
<line x1="617.2" y1="617.4" x2="568.7" y2="639.6" stroke="#111" stroke-width="0.85"/>
<path d="M566,640.8 L568.1,638.2 L569.4,640.9Z" fill="#111"/>
<line x1="598.9" y1="646.6" x2="574.1" y2="641.4" stroke="#111" stroke-width="0.85"/>
<path d="M571.2,640.8 L574.4,639.9 L573.8,642.9Z" fill="#111"/>
<line x1="598.2" y1="653.9" x2="583.6" y2="651.2" stroke="#111" stroke-width="0.85"/>
<path d="M580.7,650.6 L583.9,649.7 L583.4,652.6Z" fill="#111"/>
<line x1="589.1" y1="657.6" x2="574.8" y2="654.2" stroke="#111" stroke-width="0.85"/>
<path d="M571.9,653.5 L575.2,652.7 L574.5,655.7Z" fill="#111"/>
<line x1="565.3" y1="656.1" x2="565.3" y2="654" stroke="#111" stroke-width="0.85"/>
<path d="M565.3,651 L566.8,654 L563.8,654Z" fill="#111"/>
<text x="598.9" y="584.1" font-size="5.0" text-anchor="start" fill="#f03c24" font-weight="normal" >Oat</text>
<text x="597" y="598" font-size="5.0" text-anchor="start" fill="#f03c24" font-weight="normal" >Lap3</text>
<text x="612.8" y="600.9" font-size="5.0" text-anchor="start" fill="#f03c24" font-weight="normal" >Slc25a4</text>
<text x="599.3" y="617.7" font-size="5.0" text-anchor="start" fill="#f03c24" font-weight="normal" >Maob</text>
<text x="617.9" y="617.7" font-size="5.0" text-anchor="start" fill="#f03c24" font-weight="normal" >Slc25a5</text>
<text x="608" y="639.9" font-size="5.0" text-anchor="start" fill="#f03c24" font-weight="normal" >Prodh</text>
<text x="599.6" y="647.6" font-size="5.0" text-anchor="start" fill="#f03c24" font-weight="normal" >Aldh4a1</text>
<text x="598.9" y="655.2" font-size="5.0" text-anchor="start" fill="#f03c24" font-weight="normal" >Aldh3a1</text>
<text x="589.4" y="659.3" font-size="5.0" text-anchor="start" fill="#f03c24" font-weight="normal" >Maoa</text>
<text x="558" y="659.7" font-size="5.0" text-anchor="start" fill="#f03c24" font-weight="normal" >Aldh2</text>
<rect x="424.1" y="470.4" width="251.5" height="251.1" fill="none" stroke="#7a7a7a" stroke-width="0.9"/>
<line x1="421.6" y1="721.5" x2="424.1" y2="721.5" stroke="#7a7a7a" stroke-width="0.8"/>
<text x="417.5" y="724.1" font-size="7.4" text-anchor="end" fill="#333" font-weight="normal" >0</text>
<line x1="421.6" y1="693.6" x2="424.1" y2="693.6" stroke="#7a7a7a" stroke-width="0.8"/>
<text x="417.5" y="696.2" font-size="7.4" text-anchor="end" fill="#333" font-weight="normal" >2</text>
<line x1="421.6" y1="665.7" x2="424.1" y2="665.7" stroke="#7a7a7a" stroke-width="0.8"/>
<text x="417.5" y="668.3" font-size="7.4" text-anchor="end" fill="#333" font-weight="normal" >4</text>
<line x1="421.6" y1="637.8" x2="424.1" y2="637.8" stroke="#7a7a7a" stroke-width="0.8"/>
<text x="417.5" y="640.4" font-size="7.4" text-anchor="end" fill="#333" font-weight="normal" >6</text>
<line x1="421.6" y1="609.9" x2="424.1" y2="609.9" stroke="#7a7a7a" stroke-width="0.8"/>
<text x="417.5" y="612.5" font-size="7.4" text-anchor="end" fill="#333" font-weight="normal" >8</text>
<line x1="421.6" y1="582" x2="424.1" y2="582" stroke="#7a7a7a" stroke-width="0.8"/>
<text x="417.5" y="584.6" font-size="7.4" text-anchor="end" fill="#333" font-weight="normal" >10</text>
<line x1="421.6" y1="554.1" x2="424.1" y2="554.1" stroke="#7a7a7a" stroke-width="0.8"/>
<text x="417.5" y="556.7" font-size="7.4" text-anchor="end" fill="#333" font-weight="normal" >12</text>
<line x1="421.6" y1="526.2" x2="424.1" y2="526.2" stroke="#7a7a7a" stroke-width="0.8"/>
<text x="417.5" y="528.8" font-size="7.4" text-anchor="end" fill="#333" font-weight="normal" >14</text>
<line x1="421.6" y1="498.3" x2="424.1" y2="498.3" stroke="#7a7a7a" stroke-width="0.8"/>
<text x="417.5" y="500.9" font-size="7.4" text-anchor="end" fill="#333" font-weight="normal" >16</text>
<line x1="421.6" y1="470.4" x2="424.1" y2="470.4" stroke="#7a7a7a" stroke-width="0.8"/>
<text x="417.5" y="473" font-size="7.4" text-anchor="end" fill="#333" font-weight="normal" >18</text>
<line x1="438.1" y1="721.5" x2="438.1" y2="724" stroke="#7a7a7a" stroke-width="0.8"/>
<text x="436.5" y="733.6" font-size="7.4" text-anchor="middle" fill="#333" font-weight="normal" >&#8722;4</text>
<line x1="465.9" y1="721.5" x2="465.9" y2="724" stroke="#7a7a7a" stroke-width="0.8"/>
<text x="464.3" y="733.6" font-size="7.4" text-anchor="middle" fill="#333" font-weight="normal" >&#8722;3</text>
<line x1="493.8" y1="721.5" x2="493.8" y2="724" stroke="#7a7a7a" stroke-width="0.8"/>
<text x="492.2" y="733.6" font-size="7.4" text-anchor="middle" fill="#333" font-weight="normal" >&#8722;2</text>
<line x1="521.6" y1="721.5" x2="521.6" y2="724" stroke="#7a7a7a" stroke-width="0.8"/>
<text x="520" y="733.6" font-size="7.4" text-anchor="middle" fill="#333" font-weight="normal" >&#8722;1</text>
<line x1="549.5" y1="721.5" x2="549.5" y2="724" stroke="#7a7a7a" stroke-width="0.8"/>
<text x="549.5" y="733.6" font-size="7.4" text-anchor="middle" fill="#333" font-weight="normal" >0</text>
<line x1="577.4" y1="721.5" x2="577.4" y2="724" stroke="#7a7a7a" stroke-width="0.8"/>
<text x="577.4" y="733.6" font-size="7.4" text-anchor="middle" fill="#333" font-weight="normal" >1</text>
<line x1="605.2" y1="721.5" x2="605.2" y2="724" stroke="#7a7a7a" stroke-width="0.8"/>
<text x="605.2" y="733.6" font-size="7.4" text-anchor="middle" fill="#333" font-weight="normal" >2</text>
<line x1="633" y1="721.5" x2="633" y2="724" stroke="#7a7a7a" stroke-width="0.8"/>
<text x="633" y="733.6" font-size="7.4" text-anchor="middle" fill="#333" font-weight="normal" >3</text>
<line x1="660.9" y1="721.5" x2="660.9" y2="724" stroke="#7a7a7a" stroke-width="0.8"/>
<text x="660.9" y="733.6" font-size="7.4" text-anchor="middle" fill="#333" font-weight="normal" >4</text>
<text x="549.8" y="748.2" font-size="9.6" text-anchor="middle" fill="#222">log<tspan font-size="6.3" dy="2">2</tspan><tspan dy="-2">(fold change)</tspan></text>
<text transform="translate(401,596) rotate(-90)" font-size="9.6" text-anchor="middle" fill="#222">&#8722;log<tspan font-size="6.3" dy="2">2</tspan><tspan dy="-2">(</tspan><tspan font-style="italic">P</tspan><tspan font-size="6.3" dy="2">adj.</tspan><tspan dy="-2"> value)</tspan></text>
<text x="446.6" y="710.6" font-size="9.4" text-anchor="start" fill="#222" font-weight="normal" >HFD</text>
<text x="607.6" y="710.6" font-size="9.4" text-anchor="start" fill="#222" font-weight="normal" >HFD + SANA</text>
<text x="623.6" y="766.8" font-size="9.8" text-anchor="middle" fill="#222" font-weight="normal" >Total creatine</text>
<line x1="561.4" y1="785.2" x2="561.4" y2="867.3" stroke="#444" stroke-width="0.8"/>
<line x1="558.4" y1="867.3" x2="561.4" y2="867.3" stroke="#444" stroke-width="0.8"/>
<text x="555" y="870" font-size="7.6" text-anchor="end" fill="#333" font-weight="normal" >0</text>
<line x1="558.4" y1="839.9" x2="561.4" y2="839.9" stroke="#444" stroke-width="0.8"/>
<text x="555" y="842.6" font-size="7.6" text-anchor="end" fill="#333" font-weight="normal" >50</text>
<line x1="558.4" y1="812.6" x2="561.4" y2="812.6" stroke="#444" stroke-width="0.8"/>
<text x="555" y="815.3" font-size="7.6" text-anchor="end" fill="#333" font-weight="normal" >100</text>
<line x1="558.4" y1="785.2" x2="561.4" y2="785.2" stroke="#444" stroke-width="0.8"/>
<text x="555" y="787.9" font-size="7.6" text-anchor="end" fill="#333" font-weight="normal" >150</text>
<line x1="592.7" y1="867.3" x2="592.7" y2="870.3" stroke="#444" stroke-width="0.8"/>
<line x1="654.3" y1="867.3" x2="654.3" y2="870.3" stroke="#444" stroke-width="0.8"/>
<text transform="translate(524.8,826.3) rotate(-90)" font-size="9.4" text-anchor="middle" fill="#222">Creatine</text>
<text transform="translate(533.8,826.3) rotate(-90)" font-size="9.4" text-anchor="middle" fill="#222">nmol/mg wet weight</text>
<rect x="572.8" y="849.2" width="39.8" height="18.1" fill="#fff" stroke="#333" stroke-width="0.9"/>
<rect x="634.1" y="818" width="40.5" height="49.3" fill="#fff" stroke="#f0705e" stroke-width="0.9"/>
<line x1="592.7" y1="849.2" x2="592.7" y2="834.2" stroke="#333" stroke-width="0.8"/>
<line x1="582.7" y1="834.2" x2="602.7" y2="834.2" stroke="#333" stroke-width="0.8"/>
<line x1="654.3" y1="818" x2="654.3" y2="795.6" stroke="#f0705e" stroke-width="0.8"/>
<line x1="644.0" y1="795.6" x2="663.8" y2="795.6" stroke="#f0705e" stroke-width="0.8"/>
<circle cx="592.5" cy="826.3" r="1.5" fill="#111"/>
<circle cx="592.5" cy="842.4" r="1.5" fill="#111"/>
<circle cx="593.1" cy="853.8" r="1.5" fill="#111"/>
<circle cx="589.0" cy="859.8" r="1.5" fill="#111"/>
<circle cx="596.4" cy="859.8" r="1.5" fill="#111"/>
<rect x="649.1" y="793.3" width="3" height="3" fill="#f02a10"/>
<rect x="656.0" y="795.7" width="3" height="3" fill="#f02a10"/>
<rect x="649.1" y="821.5" width="3" height="3" fill="#f02a10"/>
<rect x="656.0" y="822.7" width="3" height="3" fill="#f02a10"/>
<rect x="652.7" y="847.2" width="3" height="3" fill="#f02a10"/>
<line x1="558.4" y1="867.3" x2="685" y2="867.3" stroke="#555" stroke-width="0.9"/>
<line x1="593.1" y1="785.5" x2="653.6" y2="785.5" stroke="#222" stroke-width="0.8"/>
<text x="623.4" y="782.6" font-size="6.6" text-anchor="middle" fill="#333" font-weight="normal" >0.03</text>
<text transform="translate(596.0,877.5) rotate(-45)" font-size="9.2" text-anchor="end" fill="#222">HFD</text>
<text transform="translate(657.5,877.5) rotate(-45)" font-size="9.2" text-anchor="end" fill="#222">HFD + SANA</text>
</svg>
</body></html>
